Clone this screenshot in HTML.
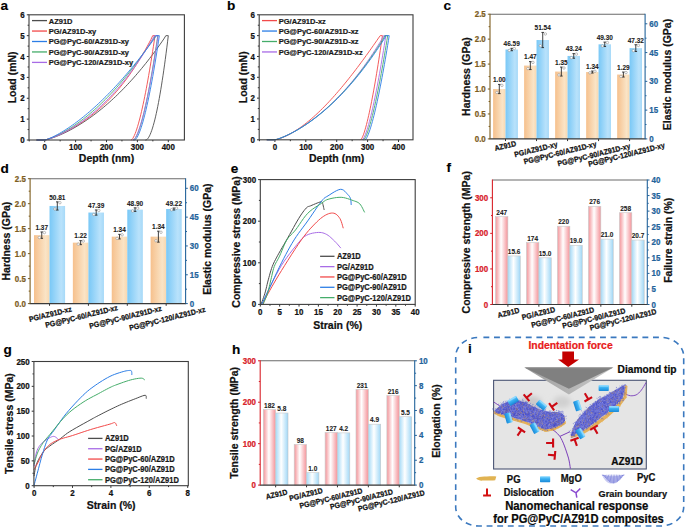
<!DOCTYPE html>
<html><head><meta charset="utf-8"><style>
html,body{margin:0;padding:0;background:#fff;width:685px;height:527px;overflow:hidden}
svg{display:block;font-family:"Liberation Sans",sans-serif}
</style></head><body>
<svg width="685" height="527" viewBox="0 0 685 527" font-family="Liberation Sans, sans-serif">
<defs>
<linearGradient id="gOr" x1="0" x2="1" y1="0" y2="0"><stop offset="0" stop-color="#f6c08c"/><stop offset="0.75" stop-color="#fae4c6"/><stop offset="1" stop-color="#f8d8b0"/></linearGradient>
<linearGradient id="gBl" x1="0" x2="1" y1="0" y2="0"><stop offset="0" stop-color="#79c8f6"/><stop offset="0.75" stop-color="#b9e2fb"/><stop offset="1" stop-color="#a6d9f8"/></linearGradient>
<linearGradient id="gRd" x1="0" x2="1" y1="0" y2="0"><stop offset="0" stop-color="#f4a2a8"/><stop offset="0.1" stop-color="#f6aaae"/><stop offset="0.45" stop-color="#ffffff"/><stop offset="0.9" stop-color="#f6a6ab"/><stop offset="1" stop-color="#f09aa0"/></linearGradient>
<linearGradient id="gLb" x1="0" x2="1" y1="0" y2="0"><stop offset="0" stop-color="#a6d8f6"/><stop offset="0.1" stop-color="#b8e2f9"/><stop offset="0.45" stop-color="#ffffff"/><stop offset="0.9" stop-color="#b2dff8"/><stop offset="1" stop-color="#9cd3f4"/></linearGradient>
</defs>
<rect width="685" height="527" fill="#fff"/>
<text x="0.6" y="9.5" font-size="13.6" font-weight="bold" fill="#000" stroke="#000" stroke-width="0.15">a</text>
<line x1="44.7" y1="140" x2="44.7" y2="142.2" stroke="#333" stroke-width="1"/>
<text x="0" y="2.85" font-size="7.95" text-anchor="middle" fill="#111" stroke="#111" stroke-width="0.22" font-weight="bold" transform="translate(44.7 147.4) scale(1 1.08)">0</text>
<line x1="75.6" y1="140" x2="75.6" y2="142.2" stroke="#333" stroke-width="1"/>
<text x="0" y="2.85" font-size="7.95" text-anchor="middle" fill="#111" stroke="#111" stroke-width="0.22" font-weight="bold" transform="translate(75.6 147.4) scale(1 1.08)">100</text>
<line x1="106.5" y1="140" x2="106.5" y2="142.2" stroke="#333" stroke-width="1"/>
<text x="0" y="2.85" font-size="7.95" text-anchor="middle" fill="#111" stroke="#111" stroke-width="0.22" font-weight="bold" transform="translate(106.5 147.4) scale(1 1.08)">200</text>
<line x1="137.4" y1="140" x2="137.4" y2="142.2" stroke="#333" stroke-width="1"/>
<text x="0" y="2.85" font-size="7.95" text-anchor="middle" fill="#111" stroke="#111" stroke-width="0.22" font-weight="bold" transform="translate(137.4 147.4) scale(1 1.08)">300</text>
<line x1="168.3" y1="140" x2="168.3" y2="142.2" stroke="#333" stroke-width="1"/>
<text x="0" y="2.85" font-size="7.95" text-anchor="middle" fill="#111" stroke="#111" stroke-width="0.22" font-weight="bold" transform="translate(168.3 147.4) scale(1 1.08)">400</text>
<line x1="29.25" y1="140" x2="29.25" y2="141.4" stroke="#333" stroke-width="1"/>
<line x1="60.15" y1="140" x2="60.15" y2="141.4" stroke="#333" stroke-width="1"/>
<line x1="91.05" y1="140" x2="91.05" y2="141.4" stroke="#333" stroke-width="1"/>
<line x1="121.95" y1="140" x2="121.95" y2="141.4" stroke="#333" stroke-width="1"/>
<line x1="152.85" y1="140" x2="152.85" y2="141.4" stroke="#333" stroke-width="1"/>
<line x1="26.8" y1="140" x2="29" y2="140" stroke="#333" stroke-width="1"/>
<text x="0" y="2.85" font-size="7.95" text-anchor="end" fill="#111" stroke="#111" stroke-width="0.22" font-weight="bold" transform="translate(24.8 140) scale(1 1.08)">0</text>
<line x1="26.8" y1="119.13" x2="29" y2="119.13" stroke="#333" stroke-width="1"/>
<text x="0" y="2.85" font-size="7.95" text-anchor="end" fill="#111" stroke="#111" stroke-width="0.22" font-weight="bold" transform="translate(24.8 119.13) scale(1 1.08)">1</text>
<line x1="26.8" y1="98.27" x2="29" y2="98.27" stroke="#333" stroke-width="1"/>
<text x="0" y="2.85" font-size="7.95" text-anchor="end" fill="#111" stroke="#111" stroke-width="0.22" font-weight="bold" transform="translate(24.8 98.27) scale(1 1.08)">2</text>
<line x1="26.8" y1="77.4" x2="29" y2="77.4" stroke="#333" stroke-width="1"/>
<text x="0" y="2.85" font-size="7.95" text-anchor="end" fill="#111" stroke="#111" stroke-width="0.22" font-weight="bold" transform="translate(24.8 77.4) scale(1 1.08)">3</text>
<line x1="26.8" y1="56.53" x2="29" y2="56.53" stroke="#333" stroke-width="1"/>
<text x="0" y="2.85" font-size="7.95" text-anchor="end" fill="#111" stroke="#111" stroke-width="0.22" font-weight="bold" transform="translate(24.8 56.53) scale(1 1.08)">4</text>
<line x1="26.8" y1="35.67" x2="29" y2="35.67" stroke="#333" stroke-width="1"/>
<text x="0" y="2.85" font-size="7.95" text-anchor="end" fill="#111" stroke="#111" stroke-width="0.22" font-weight="bold" transform="translate(24.8 35.67) scale(1 1.08)">5</text>
<line x1="26.8" y1="14.8" x2="29" y2="14.8" stroke="#333" stroke-width="1"/>
<text x="0" y="2.85" font-size="7.95" text-anchor="end" fill="#111" stroke="#111" stroke-width="0.22" font-weight="bold" transform="translate(24.8 14.8) scale(1 1.08)">6</text>
<line x1="27.6" y1="129.57" x2="29" y2="129.57" stroke="#333" stroke-width="1"/>
<line x1="27.6" y1="108.7" x2="29" y2="108.7" stroke="#333" stroke-width="1"/>
<line x1="27.6" y1="87.83" x2="29" y2="87.83" stroke="#333" stroke-width="1"/>
<line x1="27.6" y1="66.97" x2="29" y2="66.97" stroke="#333" stroke-width="1"/>
<line x1="27.6" y1="46.1" x2="29" y2="46.1" stroke="#333" stroke-width="1"/>
<line x1="27.6" y1="25.23" x2="29" y2="25.23" stroke="#333" stroke-width="1"/>
<polyline points="36.98,140 44.7,140 46.72,139.6 48.74,139.06 50.76,138.45 52.78,137.77 54.79,137.04 56.81,136.26 58.83,135.44 60.85,134.57 62.87,133.66 64.89,132.71 66.91,131.72 68.93,130.69 70.94,129.62 72.96,128.52 74.98,127.38 77,126.2 79.02,124.98 81.04,123.73 83.06,122.44 85.08,121.12 87.09,119.75 89.11,118.35 91.13,116.92 93.15,115.44 95.17,113.93 97.19,112.39 99.21,110.8 101.23,109.18 103.25,107.52 105.26,105.82 107.28,104.08 109.3,102.31 111.32,100.49 113.34,98.64 115.36,96.75 117.38,94.82 119.4,92.85 121.41,90.84 123.43,88.79 125.45,86.7 127.47,84.57 129.49,82.4 131.51,80.19 133.53,77.94 135.55,75.64 137.56,73.31 139.58,70.93 141.6,68.51 143.62,66.04 145.64,63.54 147.66,60.99 149.68,58.39 151.7,55.76 153.72,53.07 155.73,50.35 157.75,47.58 159.77,44.76 161.79,41.9 163.81,38.99 165.83,35.67 168.3,35.67 167.55,41.84 166.8,47.85 166.04,53.69 165.29,59.36 164.54,64.86 163.79,70.18 163.04,75.33 162.28,80.3 161.53,85.1 160.78,89.71 160.03,94.15 159.28,98.4 158.53,102.47 157.77,106.35 157.02,110.04 156.27,113.54 155.52,116.84 154.77,119.95 154.01,122.86 153.26,125.56 152.51,128.05 151.76,130.34 151.01,132.4 150.25,134.24 149.5,135.85 148.75,137.22 148,138.35 147.25,139.2 146.49,139.77 145.74,140" fill="none" stroke="#4d4d4d" stroke-width="0.9" stroke-linejoin="round" stroke-linecap="round"/>
<polyline points="36.98,140 44.7,140 46.5,139.57 48.3,139.01 50.1,138.39 51.9,137.72 53.7,137.02 55.5,136.28 57.3,135.52 59.1,134.72 60.9,133.9 62.7,133.05 64.5,132.18 66.3,131.27 68.1,130.34 69.9,129.38 71.7,128.39 73.5,127.37 75.3,126.31 77.1,125.23 78.9,124.12 80.7,122.97 82.5,121.79 84.3,120.57 86.1,119.31 87.9,118.02 89.7,116.69 91.5,115.32 93.3,113.9 95.1,112.45 96.9,110.95 98.7,109.41 100.5,107.82 102.3,106.18 104.1,104.5 105.9,102.76 107.7,100.98 109.5,99.14 111.3,97.25 113.1,95.3 114.9,93.3 116.7,91.24 118.5,89.13 120.3,86.95 122.1,84.71 123.9,82.41 125.7,80.05 127.5,77.62 129.3,75.12 131.1,72.56 132.9,69.92 134.7,67.22 136.5,64.45 138.3,61.6 140.1,58.67 141.9,55.68 143.7,52.6 145.5,49.45 147.3,46.21 149.1,42.9 150.9,39.5 152.7,35.67 155.01,35.67 154.22,41.01 153.43,46.25 152.63,51.39 151.84,56.42 151.05,61.35 150.25,66.17 149.46,70.89 148.67,75.49 147.88,79.98 147.08,84.35 146.29,88.6 145.5,92.73 144.7,96.74 143.91,100.62 143.12,104.37 142.32,107.98 141.53,111.46 140.74,114.79 139.94,117.97 139.15,120.99 138.36,123.86 137.56,126.55 136.77,129.07 135.98,131.39 135.19,133.51 134.39,135.41 133.6,137.06 132.81,138.43 132.01,139.46 131.22,140" fill="none" stroke="#f24a4a" stroke-width="0.9" stroke-linejoin="round" stroke-linecap="round"/>
<polyline points="36.98,140 44.7,140 46.54,139.58 48.39,139.02 50.23,138.37 52.07,137.66 53.92,136.9 55.76,136.08 57.61,135.22 59.45,134.31 61.29,133.36 63.14,132.36 64.98,131.33 66.82,130.25 68.67,129.14 70.51,127.99 72.36,126.8 74.2,125.58 76.04,124.31 77.89,123.02 79.73,121.68 81.57,120.31 83.42,118.9 85.26,117.46 87.11,115.98 88.95,114.46 90.79,112.91 92.64,111.33 94.48,109.7 96.32,108.05 98.17,106.36 100.01,104.63 101.85,102.86 103.7,101.06 105.54,99.23 107.39,97.36 109.23,95.45 111.07,93.51 112.92,91.53 114.76,89.51 116.6,87.46 118.45,85.38 120.29,83.25 122.14,81.09 123.98,78.9 125.82,76.66 127.67,74.39 129.51,72.08 131.35,69.74 133.2,67.36 135.04,64.94 136.89,62.48 138.73,59.99 140.57,57.46 142.42,54.89 144.26,52.28 146.1,49.63 147.95,46.95 149.79,44.22 151.63,41.46 153.48,38.66 155.32,35.67 157.79,35.67 156.98,41.18 156.17,46.57 155.35,51.85 154.54,57.02 153.73,62.06 152.91,66.99 152.1,71.8 151.28,76.48 150.47,81.04 149.66,85.46 148.84,89.76 148.03,93.93 147.22,97.95 146.4,101.84 145.59,105.58 144.77,109.18 143.96,112.63 143.15,115.92 142.33,119.05 141.52,122.01 140.71,124.8 139.89,127.41 139.08,129.83 138.27,132.06 137.45,134.07 136.64,135.85 135.82,137.38 135.01,138.63 134.2,139.55 133.38,140" fill="none" stroke="#45ad6a" stroke-width="0.9" stroke-linejoin="round" stroke-linecap="round"/>
<polyline points="36.98,140 44.7,140 46.53,139.61 48.36,139.08 50.18,138.49 52.01,137.83 53.84,137.13 55.67,136.39 57.5,135.6 59.33,134.77 61.15,133.91 62.98,133.01 64.81,132.07 66.64,131.09 68.47,130.08 70.3,129.04 72.12,127.95 73.95,126.84 75.78,125.68 77.61,124.49 79.44,123.26 81.27,122 83.09,120.7 84.92,119.36 86.75,117.98 88.58,116.57 90.41,115.12 92.23,113.63 94.06,112.09 95.89,110.52 97.72,108.91 99.55,107.26 101.38,105.56 103.2,103.83 105.03,102.05 106.86,100.23 108.69,98.36 110.52,96.45 112.35,94.5 114.17,92.5 116,90.45 117.83,88.36 119.66,86.22 121.49,84.04 123.31,81.8 125.14,79.52 126.97,77.19 128.8,74.81 130.63,72.37 132.46,69.89 134.28,67.36 136.11,64.77 137.94,62.13 139.77,59.44 141.6,56.69 143.43,53.89 145.25,51.03 147.08,48.12 148.91,45.15 150.74,42.12 152.57,39.03 154.39,35.67 158.1,35.67 157.27,41.18 156.43,46.57 155.6,51.85 154.77,57.02 153.93,62.06 153.1,66.99 152.26,71.8 151.43,76.48 150.59,81.04 149.76,85.46 148.93,89.76 148.09,93.93 147.26,97.95 146.42,101.84 145.59,105.58 144.75,109.18 143.92,112.63 143.09,115.92 142.25,119.05 141.42,122.01 140.58,124.8 139.75,127.41 138.91,129.83 138.08,132.06 137.25,134.07 136.41,135.85 135.58,137.38 134.74,138.63 133.91,139.55 133.07,140" fill="none" stroke="#a86ce6" stroke-width="0.9" stroke-linejoin="round" stroke-linecap="round"/>
<polyline points="36.98,140 44.7,140 46.56,139.49 48.42,138.82 50.28,138.06 52.14,137.23 54,136.34 55.85,135.4 57.71,134.4 59.57,133.37 61.43,132.29 63.29,131.17 65.15,130.01 67.01,128.82 68.87,127.59 70.73,126.32 72.59,125.02 74.45,123.69 76.31,122.32 78.16,120.92 80.02,119.49 81.88,118.02 83.74,116.53 85.6,115 87.46,113.45 89.32,111.86 91.18,110.25 93.04,108.6 94.9,106.93 96.76,105.22 98.62,103.49 100.47,101.73 102.33,99.94 104.19,98.12 106.05,96.27 107.91,94.4 109.77,92.49 111.63,90.56 113.49,88.6 115.35,86.62 117.21,84.6 119.07,82.56 120.93,80.49 122.78,78.39 124.64,76.27 126.5,74.12 128.36,71.94 130.22,69.73 132.08,67.5 133.94,65.24 135.8,62.95 137.66,60.64 139.52,58.3 141.38,55.93 143.23,53.53 145.09,51.11 146.95,48.66 148.81,46.19 150.67,43.69 152.53,41.16 154.39,38.6 156.25,35.67 159.34,35.67 158.51,41.18 157.69,46.57 156.87,51.85 156.04,57.02 155.22,62.06 154.39,66.99 153.57,71.8 152.75,76.48 151.92,81.04 151.1,85.46 150.28,89.76 149.45,93.93 148.63,97.95 147.8,101.84 146.98,105.58 146.16,109.18 145.33,112.63 144.51,115.92 143.68,119.05 142.86,122.01 142.03,124.8 141.21,127.41 140.39,129.83 139.56,132.06 138.74,134.07 137.92,135.85 137.09,137.38 136.27,138.63 135.44,139.55 134.62,140" fill="none" stroke="#2c7ee6" stroke-width="0.9" stroke-linejoin="round" stroke-linecap="round"/>
<line x1="32" y1="20.6" x2="47" y2="20.6" stroke="#4d4d4d" stroke-width="1.3"/>
<text x="0" y="2.69" font-size="7.5" text-anchor="start" fill="#1a1a1a" stroke="#1a1a1a" stroke-width="0.22" font-weight="bold" transform="translate(48.8 20.6) scale(1 1.08)">AZ91D</text>
<line x1="32" y1="31.05" x2="47" y2="31.05" stroke="#f24a4a" stroke-width="1.3"/>
<text x="0" y="2.69" font-size="7.5" text-anchor="start" fill="#1a1a1a" stroke="#1a1a1a" stroke-width="0.22" font-weight="bold" transform="translate(48.8 31.05) scale(1 1.08)">PG/AZ91D-xy</text>
<line x1="32" y1="41.5" x2="47" y2="41.5" stroke="#2c7ee6" stroke-width="1.3"/>
<text x="0" y="2.69" font-size="7.5" text-anchor="start" fill="#1a1a1a" stroke="#1a1a1a" stroke-width="0.22" font-weight="bold" transform="translate(48.8 41.5) scale(1 1.08)">PG@PyC-60/AZ91D-xy</text>
<line x1="32" y1="51.95" x2="47" y2="51.95" stroke="#45ad6a" stroke-width="1.3"/>
<text x="0" y="2.69" font-size="7.5" text-anchor="start" fill="#1a1a1a" stroke="#1a1a1a" stroke-width="0.22" font-weight="bold" transform="translate(48.8 51.95) scale(1 1.08)">PG@PyC-90/AZ91D-xy</text>
<line x1="32" y1="62.4" x2="47" y2="62.4" stroke="#a86ce6" stroke-width="1.3"/>
<text x="0" y="2.69" font-size="7.5" text-anchor="start" fill="#1a1a1a" stroke="#1a1a1a" stroke-width="0.22" font-weight="bold" transform="translate(48.8 62.4) scale(1 1.08)">PG@PyC-120/AZ91D-xy</text>
<rect x="29" y="14.8" width="155.4" height="125.2" fill="none" stroke="#3d3d3d" stroke-width="1.1"/>
<text x="0" y="3.76" font-size="10.5" text-anchor="middle" fill="#111" stroke="#111" stroke-width="0.22" font-weight="bold" transform="translate(106.5 157.8) scale(1 1.08)">Depth (nm)</text>
<text x="0" y="3.76" font-size="10.5" text-anchor="middle" fill="#111" stroke="#111" stroke-width="0.22" font-weight="bold" transform="translate(11.8 77.4) rotate(-90)">Load (mN)</text>
<text x="227" y="10" font-size="13.6" font-weight="bold" fill="#000" stroke="#000" stroke-width="0.15">b</text>
<line x1="274.9" y1="139.8" x2="274.9" y2="142" stroke="#333" stroke-width="1"/>
<text x="0" y="2.85" font-size="7.95" text-anchor="middle" fill="#111" stroke="#111" stroke-width="0.22" font-weight="bold" transform="translate(274.9 147.2) scale(1 1.08)">0</text>
<line x1="305.8" y1="139.8" x2="305.8" y2="142" stroke="#333" stroke-width="1"/>
<text x="0" y="2.85" font-size="7.95" text-anchor="middle" fill="#111" stroke="#111" stroke-width="0.22" font-weight="bold" transform="translate(305.8 147.2) scale(1 1.08)">100</text>
<line x1="336.7" y1="139.8" x2="336.7" y2="142" stroke="#333" stroke-width="1"/>
<text x="0" y="2.85" font-size="7.95" text-anchor="middle" fill="#111" stroke="#111" stroke-width="0.22" font-weight="bold" transform="translate(336.7 147.2) scale(1 1.08)">200</text>
<line x1="367.6" y1="139.8" x2="367.6" y2="142" stroke="#333" stroke-width="1"/>
<text x="0" y="2.85" font-size="7.95" text-anchor="middle" fill="#111" stroke="#111" stroke-width="0.22" font-weight="bold" transform="translate(367.6 147.2) scale(1 1.08)">300</text>
<line x1="398.5" y1="139.8" x2="398.5" y2="142" stroke="#333" stroke-width="1"/>
<text x="0" y="2.85" font-size="7.95" text-anchor="middle" fill="#111" stroke="#111" stroke-width="0.22" font-weight="bold" transform="translate(398.5 147.2) scale(1 1.08)">400</text>
<line x1="259.45" y1="139.8" x2="259.45" y2="141.2" stroke="#333" stroke-width="1"/>
<line x1="290.35" y1="139.8" x2="290.35" y2="141.2" stroke="#333" stroke-width="1"/>
<line x1="321.25" y1="139.8" x2="321.25" y2="141.2" stroke="#333" stroke-width="1"/>
<line x1="352.15" y1="139.8" x2="352.15" y2="141.2" stroke="#333" stroke-width="1"/>
<line x1="383.05" y1="139.8" x2="383.05" y2="141.2" stroke="#333" stroke-width="1"/>
<line x1="257" y1="139.8" x2="259.2" y2="139.8" stroke="#333" stroke-width="1"/>
<text x="0" y="2.85" font-size="7.95" text-anchor="end" fill="#111" stroke="#111" stroke-width="0.22" font-weight="bold" transform="translate(255 139.8) scale(1 1.08)">0</text>
<line x1="257" y1="118.97" x2="259.2" y2="118.97" stroke="#333" stroke-width="1"/>
<text x="0" y="2.85" font-size="7.95" text-anchor="end" fill="#111" stroke="#111" stroke-width="0.22" font-weight="bold" transform="translate(255 118.97) scale(1 1.08)">1</text>
<line x1="257" y1="98.13" x2="259.2" y2="98.13" stroke="#333" stroke-width="1"/>
<text x="0" y="2.85" font-size="7.95" text-anchor="end" fill="#111" stroke="#111" stroke-width="0.22" font-weight="bold" transform="translate(255 98.13) scale(1 1.08)">2</text>
<line x1="257" y1="77.3" x2="259.2" y2="77.3" stroke="#333" stroke-width="1"/>
<text x="0" y="2.85" font-size="7.95" text-anchor="end" fill="#111" stroke="#111" stroke-width="0.22" font-weight="bold" transform="translate(255 77.3) scale(1 1.08)">3</text>
<line x1="257" y1="56.47" x2="259.2" y2="56.47" stroke="#333" stroke-width="1"/>
<text x="0" y="2.85" font-size="7.95" text-anchor="end" fill="#111" stroke="#111" stroke-width="0.22" font-weight="bold" transform="translate(255 56.47) scale(1 1.08)">4</text>
<line x1="257" y1="35.63" x2="259.2" y2="35.63" stroke="#333" stroke-width="1"/>
<text x="0" y="2.85" font-size="7.95" text-anchor="end" fill="#111" stroke="#111" stroke-width="0.22" font-weight="bold" transform="translate(255 35.63) scale(1 1.08)">5</text>
<line x1="257" y1="14.8" x2="259.2" y2="14.8" stroke="#333" stroke-width="1"/>
<text x="0" y="2.85" font-size="7.95" text-anchor="end" fill="#111" stroke="#111" stroke-width="0.22" font-weight="bold" transform="translate(255 14.8) scale(1 1.08)">6</text>
<line x1="257.8" y1="129.38" x2="259.2" y2="129.38" stroke="#333" stroke-width="1"/>
<line x1="257.8" y1="108.55" x2="259.2" y2="108.55" stroke="#333" stroke-width="1"/>
<line x1="257.8" y1="87.72" x2="259.2" y2="87.72" stroke="#333" stroke-width="1"/>
<line x1="257.8" y1="66.88" x2="259.2" y2="66.88" stroke="#333" stroke-width="1"/>
<line x1="257.8" y1="46.05" x2="259.2" y2="46.05" stroke="#333" stroke-width="1"/>
<line x1="257.8" y1="25.22" x2="259.2" y2="25.22" stroke="#333" stroke-width="1"/>
<polyline points="267.17,139.8 274.9,139.8 276.66,139.46 278.41,138.98 280.17,138.41 281.92,137.76 283.68,137.05 285.44,136.27 287.19,135.44 288.95,134.55 290.71,133.6 292.46,132.6 294.22,131.54 295.97,130.44 297.73,129.29 299.49,128.09 301.24,126.85 303,125.56 304.75,124.22 306.51,122.84 308.27,121.42 310.02,119.96 311.78,118.46 313.54,116.92 315.29,115.33 317.05,113.71 318.8,112.06 320.56,110.36 322.32,108.63 324.07,106.86 325.83,105.06 327.58,103.22 329.34,101.36 331.1,99.45 332.85,97.52 334.61,95.55 336.37,93.56 338.12,91.53 339.88,89.48 341.63,87.39 343.39,85.28 345.15,83.14 346.9,80.97 348.66,78.78 350.41,76.56 352.17,74.32 353.93,72.05 355.68,69.75 357.44,67.44 359.2,65.1 360.95,62.74 362.71,60.36 364.46,57.96 366.22,55.53 367.98,53.09 369.73,50.63 371.49,48.15 373.24,45.65 375,43.14 376.76,40.6 378.51,38.06 380.27,35.63 382.43,35.63 381.71,40.63 380.98,45.55 380.26,50.39 379.54,55.15 378.81,59.83 378.09,64.43 377.36,68.94 376.64,73.36 375.92,77.7 375.19,81.94 374.47,86.08 373.74,90.14 373.02,94.09 372.29,97.93 371.57,101.67 370.85,105.3 370.12,108.82 369.4,112.21 368.67,115.48 367.95,118.62 367.23,121.62 366.5,124.48 365.78,127.17 365.05,129.7 364.33,132.05 363.61,134.19 362.88,136.1 362.16,137.75 361.43,139.05 360.71,139.8" fill="none" stroke="#f24a4a" stroke-width="0.9" stroke-linejoin="round" stroke-linecap="round"/>
<polyline points="267.17,139.8 274.9,139.8 276.71,139.36 278.53,138.77 280.34,138.11 282.15,137.39 283.96,136.62 285.78,135.81 287.59,134.95 289.4,134.06 291.22,133.14 293.03,132.17 294.84,131.18 296.65,130.15 298.47,129.08 300.28,127.98 302.09,126.85 303.9,125.69 305.72,124.49 307.53,123.26 309.34,122 311.16,120.7 312.97,119.37 314.78,118.01 316.59,116.61 318.41,115.17 320.22,113.7 322.03,112.2 323.85,110.66 325.66,109.08 327.47,107.46 329.28,105.81 331.1,104.12 332.91,102.39 334.72,100.62 336.54,98.82 338.35,96.97 340.16,95.08 341.97,93.15 343.79,91.19 345.6,89.17 347.41,87.12 349.22,85.02 351.04,82.88 352.85,80.7 354.66,78.47 356.48,76.19 358.29,73.87 360.1,71.5 361.91,69.09 363.73,66.63 365.54,64.12 367.35,61.56 369.17,58.95 370.98,56.29 372.79,53.58 374.6,50.83 376.42,48.01 378.23,45.15 380.04,42.23 381.86,39.26 383.67,35.63 385.83,35.63 385.05,40.63 384.27,45.55 383.48,50.39 382.7,55.15 381.92,59.83 381.13,64.43 380.35,68.94 379.57,73.36 378.79,77.7 378,81.94 377.22,86.08 376.44,90.14 375.65,94.09 374.87,97.93 374.09,101.67 373.31,105.3 372.52,108.82 371.74,112.21 370.96,115.48 370.17,118.62 369.39,121.62 368.61,124.48 367.83,127.17 367.04,129.7 366.26,132.05 365.48,134.19 364.7,136.1 363.91,137.75 363.13,139.05 362.35,139.8" fill="none" stroke="#a86ce6" stroke-width="0.9" stroke-linejoin="round" stroke-linecap="round"/>
<polyline points="267.17,139.8 274.9,139.8 276.73,139.37 278.57,138.79 280.4,138.13 282.23,137.42 284.07,136.66 285.9,135.85 287.73,134.99 289.57,134.1 291.4,133.17 293.23,132.2 295.07,131.19 296.9,130.15 298.73,129.07 300.57,127.96 302.4,126.82 304.23,125.63 306.07,124.42 307.9,123.17 309.73,121.89 311.57,120.57 313.4,119.21 315.23,117.83 317.07,116.4 318.9,114.95 320.73,113.45 322.57,111.92 324.4,110.36 326.24,108.76 328.07,107.12 329.9,105.45 331.74,103.73 333.57,101.98 335.4,100.2 337.24,98.37 339.07,96.51 340.9,94.61 342.74,92.66 344.57,90.68 346.4,88.66 348.24,86.6 350.07,84.49 351.9,82.35 353.74,80.16 355.57,77.93 357.4,75.66 359.24,73.35 361.07,70.99 362.9,68.59 364.74,66.14 366.57,63.65 368.4,61.11 370.24,58.53 372.07,55.9 373.9,53.23 375.74,50.51 377.57,47.74 379.4,44.92 381.24,42.05 383.07,39.14 384.9,35.63 387.68,35.63 386.88,40.63 386.08,45.55 385.27,50.39 384.47,55.15 383.67,59.83 382.86,64.43 382.06,68.94 381.26,73.36 380.45,77.7 379.65,81.94 378.85,86.08 378.04,90.14 377.24,94.09 376.44,97.93 375.63,101.67 374.83,105.3 374.03,108.82 373.22,112.21 372.42,115.48 371.62,118.62 370.81,121.62 370.01,124.48 369.21,127.17 368.4,129.7 367.6,132.05 366.8,134.19 365.99,136.1 365.19,137.75 364.39,139.05 363.58,139.8" fill="none" stroke="#45ad6a" stroke-width="0.9" stroke-linejoin="round" stroke-linecap="round"/>
<polyline points="267.17,139.8 274.9,139.8 276.75,139.37 278.6,138.79 280.45,138.13 282.3,137.41 284.14,136.65 285.99,135.83 287.84,134.97 289.69,134.08 291.54,133.14 293.39,132.16 295.24,131.15 297.09,130.1 298.94,129.02 300.78,127.9 302.63,126.75 304.48,125.56 306.33,124.33 308.18,123.08 310.03,121.79 311.88,120.46 313.73,119.1 315.57,117.7 317.42,116.27 319.27,114.81 321.12,113.31 322.97,111.77 324.82,110.2 326.67,108.59 328.52,106.95 330.37,105.27 332.21,103.55 334.06,101.8 335.91,100.01 337.76,98.18 339.61,96.31 341.46,94.41 343.31,92.47 345.16,90.48 347.01,88.46 348.85,86.4 350.7,84.3 352.55,82.16 354.4,79.98 356.25,77.75 358.1,75.49 359.95,73.18 361.8,70.83 363.64,68.44 365.49,66.01 367.34,63.53 369.19,61.01 371.04,58.44 372.89,55.83 374.74,53.18 376.59,50.48 378.44,47.73 380.28,44.94 382.13,42.1 383.98,39.21 385.83,35.63 389.23,35.63 388.43,40.63 387.62,45.55 386.82,50.39 386.02,55.15 385.21,59.83 384.41,64.43 383.61,68.94 382.8,73.36 382,77.7 381.2,81.94 380.39,86.08 379.59,90.14 378.79,94.09 377.98,97.93 377.18,101.67 376.38,105.3 375.57,108.82 374.77,112.21 373.97,115.48 373.16,118.62 372.36,121.62 371.56,124.48 370.75,127.17 369.95,129.7 369.14,132.05 368.34,134.19 367.54,136.1 366.73,137.75 365.93,139.05 365.13,139.8" fill="none" stroke="#2c7ee6" stroke-width="0.9" stroke-linejoin="round" stroke-linecap="round"/>
<line x1="262" y1="20.6" x2="277" y2="20.6" stroke="#f24a4a" stroke-width="1.3"/>
<text x="0" y="2.69" font-size="7.5" text-anchor="start" fill="#1a1a1a" stroke="#1a1a1a" stroke-width="0.22" font-weight="bold" transform="translate(278.8 20.6) scale(1 1.08)">PG/AZ91D-xz</text>
<line x1="262" y1="31.05" x2="277" y2="31.05" stroke="#2c7ee6" stroke-width="1.3"/>
<text x="0" y="2.69" font-size="7.5" text-anchor="start" fill="#1a1a1a" stroke="#1a1a1a" stroke-width="0.22" font-weight="bold" transform="translate(278.8 31.05) scale(1 1.08)">PG@PyC-60/AZ91D-xz</text>
<line x1="262" y1="41.5" x2="277" y2="41.5" stroke="#45ad6a" stroke-width="1.3"/>
<text x="0" y="2.69" font-size="7.5" text-anchor="start" fill="#1a1a1a" stroke="#1a1a1a" stroke-width="0.22" font-weight="bold" transform="translate(278.8 41.5) scale(1 1.08)">PG@PyC-90/AZ91D-xz</text>
<line x1="262" y1="51.95" x2="277" y2="51.95" stroke="#a86ce6" stroke-width="1.3"/>
<text x="0" y="2.69" font-size="7.5" text-anchor="start" fill="#1a1a1a" stroke="#1a1a1a" stroke-width="0.22" font-weight="bold" transform="translate(278.8 51.95) scale(1 1.08)">PG@PyC-120/AZ91D-xz</text>
<rect x="259.2" y="14.8" width="153.8" height="125" fill="none" stroke="#3d3d3d" stroke-width="1.1"/>
<text x="0" y="3.76" font-size="10.5" text-anchor="middle" fill="#111" stroke="#111" stroke-width="0.22" font-weight="bold" transform="translate(336.7 157.6) scale(1 1.08)">Depth (nm)</text>
<text x="0" y="3.76" font-size="10.5" text-anchor="middle" fill="#111" stroke="#111" stroke-width="0.22" font-weight="bold" transform="translate(243 77.3) rotate(-90)">Load (mN)</text>
<rect x="493.1" y="89.02" width="12.41" height="49.88" fill="url(#gOr)"/>
<rect x="505.51" y="49.52" width="12.41" height="89.38" fill="url(#gBl)"/>
<line x1="499.31" y1="84.43" x2="499.31" y2="93.61" stroke="#2a2a2a" stroke-width="0.9"/>
<line x1="498.01" y1="84.43" x2="500.61" y2="84.43" stroke="#2a2a2a" stroke-width="0.9"/>
<line x1="498.01" y1="93.61" x2="500.61" y2="93.61" stroke="#2a2a2a" stroke-width="0.9"/>
<circle cx="496.91" cy="92.46" r="1.25" fill="#fff" stroke="#8a8a8a" stroke-width="0.55"/>
<circle cx="501.91" cy="85.35" r="1.25" fill="#fff" stroke="#8a8a8a" stroke-width="0.55"/>
<line x1="511.71" y1="48.33" x2="511.71" y2="50.71" stroke="#2a2a2a" stroke-width="0.9"/>
<line x1="510.41" y1="48.33" x2="513.01" y2="48.33" stroke="#2a2a2a" stroke-width="0.9"/>
<line x1="510.41" y1="50.71" x2="513.01" y2="50.71" stroke="#2a2a2a" stroke-width="0.9"/>
<circle cx="509.31" cy="50.41" r="1.25" fill="#fff" stroke="#8a8a8a" stroke-width="0.55"/>
<circle cx="514.31" cy="48.57" r="1.25" fill="#fff" stroke="#8a8a8a" stroke-width="0.55"/>
<text x="0" y="2.33" font-size="6.5" text-anchor="middle" fill="#1a1a1a" stroke="#1a1a1a" stroke-width="0.08" font-weight="bold" transform="translate(499.31 79.73) scale(1 1.08)">1.00</text>
<text x="0" y="2.33" font-size="6.5" text-anchor="middle" fill="#1a1a1a" stroke="#1a1a1a" stroke-width="0.08" font-weight="bold" transform="translate(511.71 43.63) scale(1 1.08)">46.59</text>
<line x1="505.51" y1="138.9" x2="505.51" y2="141.1" stroke="#333" stroke-width="1"/>
<text x="0" y="2.51" font-size="7" text-anchor="middle" fill="#111" stroke="#111" stroke-width="0.22" font-weight="bold" transform="translate(505.2 145.77) rotate(-14) scale(1 1.08)">AZ91D</text>
<rect x="524.12" y="65.58" width="12.41" height="73.32" fill="url(#gOr)"/>
<rect x="536.53" y="40.02" width="12.41" height="98.88" fill="url(#gBl)"/>
<line x1="530.33" y1="61.59" x2="530.33" y2="69.57" stroke="#2a2a2a" stroke-width="0.9"/>
<line x1="529.03" y1="61.59" x2="531.63" y2="61.59" stroke="#2a2a2a" stroke-width="0.9"/>
<line x1="529.03" y1="69.57" x2="531.63" y2="69.57" stroke="#2a2a2a" stroke-width="0.9"/>
<circle cx="527.93" cy="68.57" r="1.25" fill="#fff" stroke="#8a8a8a" stroke-width="0.55"/>
<circle cx="532.93" cy="62.38" r="1.25" fill="#fff" stroke="#8a8a8a" stroke-width="0.55"/>
<line x1="542.73" y1="32.43" x2="542.73" y2="47.62" stroke="#2a2a2a" stroke-width="0.9"/>
<line x1="541.43" y1="32.43" x2="544.03" y2="32.43" stroke="#2a2a2a" stroke-width="0.9"/>
<line x1="541.43" y1="47.62" x2="544.03" y2="47.62" stroke="#2a2a2a" stroke-width="0.9"/>
<circle cx="540.33" cy="45.72" r="1.25" fill="#fff" stroke="#8a8a8a" stroke-width="0.55"/>
<circle cx="545.33" cy="33.94" r="1.25" fill="#fff" stroke="#8a8a8a" stroke-width="0.55"/>
<text x="0" y="2.33" font-size="6.5" text-anchor="middle" fill="#1a1a1a" stroke="#1a1a1a" stroke-width="0.08" font-weight="bold" transform="translate(530.33 56.89) scale(1 1.08)">1.47</text>
<text x="0" y="2.33" font-size="6.5" text-anchor="middle" fill="#1a1a1a" stroke="#1a1a1a" stroke-width="0.08" font-weight="bold" transform="translate(542.73 27.73) scale(1 1.08)">51.54</text>
<line x1="536.53" y1="138.9" x2="536.53" y2="141.1" stroke="#333" stroke-width="1"/>
<text x="0" y="2.51" font-size="7" text-anchor="middle" fill="#111" stroke="#111" stroke-width="0.22" font-weight="bold" transform="translate(535.9 149.25) rotate(-14) scale(1 1.08)">PG/AZ91D-xy</text>
<rect x="555.14" y="71.56" width="12.41" height="67.34" fill="url(#gOr)"/>
<rect x="567.55" y="55.95" width="12.41" height="82.95" fill="url(#gBl)"/>
<line x1="561.35" y1="67.07" x2="561.35" y2="76.05" stroke="#2a2a2a" stroke-width="0.9"/>
<line x1="560.05" y1="67.07" x2="562.65" y2="67.07" stroke="#2a2a2a" stroke-width="0.9"/>
<line x1="560.05" y1="76.05" x2="562.65" y2="76.05" stroke="#2a2a2a" stroke-width="0.9"/>
<circle cx="558.95" cy="74.93" r="1.25" fill="#fff" stroke="#8a8a8a" stroke-width="0.55"/>
<circle cx="563.95" cy="67.97" r="1.25" fill="#fff" stroke="#8a8a8a" stroke-width="0.55"/>
<line x1="573.75" y1="53.64" x2="573.75" y2="58.25" stroke="#2a2a2a" stroke-width="0.9"/>
<line x1="572.45" y1="53.64" x2="575.05" y2="53.64" stroke="#2a2a2a" stroke-width="0.9"/>
<line x1="572.45" y1="58.25" x2="575.05" y2="58.25" stroke="#2a2a2a" stroke-width="0.9"/>
<circle cx="571.35" cy="57.67" r="1.25" fill="#fff" stroke="#8a8a8a" stroke-width="0.55"/>
<circle cx="576.35" cy="54.1" r="1.25" fill="#fff" stroke="#8a8a8a" stroke-width="0.55"/>
<text x="0" y="2.33" font-size="6.5" text-anchor="middle" fill="#1a1a1a" stroke="#1a1a1a" stroke-width="0.08" font-weight="bold" transform="translate(561.35 62.37) scale(1 1.08)">1.35</text>
<text x="0" y="2.33" font-size="6.5" text-anchor="middle" fill="#1a1a1a" stroke="#1a1a1a" stroke-width="0.08" font-weight="bold" transform="translate(573.75 48.94) scale(1 1.08)">43.24</text>
<line x1="567.55" y1="138.9" x2="567.55" y2="141.1" stroke="#333" stroke-width="1"/>
<text x="0" y="2.51" font-size="7" text-anchor="middle" fill="#111" stroke="#111" stroke-width="0.22" font-weight="bold" transform="translate(560 152.65) rotate(-14) scale(1 1.08)">PG@PyC-60/AZ91D-xy</text>
<rect x="586.16" y="72.06" width="12.41" height="66.84" fill="url(#gOr)"/>
<rect x="598.57" y="44.32" width="12.41" height="94.58" fill="url(#gBl)"/>
<line x1="592.37" y1="71.06" x2="592.37" y2="73.06" stroke="#2a2a2a" stroke-width="0.9"/>
<line x1="591.07" y1="71.06" x2="593.67" y2="71.06" stroke="#2a2a2a" stroke-width="0.9"/>
<line x1="591.07" y1="73.06" x2="593.67" y2="73.06" stroke="#2a2a2a" stroke-width="0.9"/>
<circle cx="589.97" cy="72.81" r="1.25" fill="#fff" stroke="#8a8a8a" stroke-width="0.55"/>
<circle cx="594.97" cy="71.26" r="1.25" fill="#fff" stroke="#8a8a8a" stroke-width="0.55"/>
<line x1="604.77" y1="42.11" x2="604.77" y2="46.53" stroke="#2a2a2a" stroke-width="0.9"/>
<line x1="603.47" y1="42.11" x2="606.07" y2="42.11" stroke="#2a2a2a" stroke-width="0.9"/>
<line x1="603.47" y1="46.53" x2="606.07" y2="46.53" stroke="#2a2a2a" stroke-width="0.9"/>
<circle cx="602.37" cy="45.97" r="1.25" fill="#fff" stroke="#8a8a8a" stroke-width="0.55"/>
<circle cx="607.37" cy="42.55" r="1.25" fill="#fff" stroke="#8a8a8a" stroke-width="0.55"/>
<text x="0" y="2.33" font-size="6.5" text-anchor="middle" fill="#1a1a1a" stroke="#1a1a1a" stroke-width="0.08" font-weight="bold" transform="translate(592.37 66.36) scale(1 1.08)">1.34</text>
<text x="0" y="2.33" font-size="6.5" text-anchor="middle" fill="#1a1a1a" stroke="#1a1a1a" stroke-width="0.08" font-weight="bold" transform="translate(604.77 37.41) scale(1 1.08)">49.30</text>
<line x1="598.57" y1="138.9" x2="598.57" y2="141.1" stroke="#333" stroke-width="1"/>
<text x="0" y="2.51" font-size="7" text-anchor="middle" fill="#111" stroke="#111" stroke-width="0.22" font-weight="bold" transform="translate(593.9 154.65) rotate(-14) scale(1 1.08)">PG@PyC-90/AZ91D-xy</text>
<rect x="617.18" y="74.55" width="12.41" height="64.35" fill="url(#gOr)"/>
<rect x="629.59" y="48.12" width="12.41" height="90.78" fill="url(#gBl)"/>
<line x1="623.39" y1="72.06" x2="623.39" y2="77.05" stroke="#2a2a2a" stroke-width="0.9"/>
<line x1="622.09" y1="72.06" x2="624.69" y2="72.06" stroke="#2a2a2a" stroke-width="0.9"/>
<line x1="622.09" y1="77.05" x2="624.69" y2="77.05" stroke="#2a2a2a" stroke-width="0.9"/>
<circle cx="620.99" cy="76.43" r="1.25" fill="#fff" stroke="#8a8a8a" stroke-width="0.55"/>
<circle cx="625.99" cy="72.56" r="1.25" fill="#fff" stroke="#8a8a8a" stroke-width="0.55"/>
<line x1="635.79" y1="44.72" x2="635.79" y2="51.51" stroke="#2a2a2a" stroke-width="0.9"/>
<line x1="634.49" y1="44.72" x2="637.09" y2="44.72" stroke="#2a2a2a" stroke-width="0.9"/>
<line x1="634.49" y1="51.51" x2="637.09" y2="51.51" stroke="#2a2a2a" stroke-width="0.9"/>
<circle cx="633.39" cy="50.67" r="1.25" fill="#fff" stroke="#8a8a8a" stroke-width="0.55"/>
<circle cx="638.39" cy="45.4" r="1.25" fill="#fff" stroke="#8a8a8a" stroke-width="0.55"/>
<text x="0" y="2.33" font-size="6.5" text-anchor="middle" fill="#1a1a1a" stroke="#1a1a1a" stroke-width="0.08" font-weight="bold" transform="translate(623.39 67.36) scale(1 1.08)">1.29</text>
<text x="0" y="2.33" font-size="6.5" text-anchor="middle" fill="#1a1a1a" stroke="#1a1a1a" stroke-width="0.08" font-weight="bold" transform="translate(635.79 40.02) scale(1 1.08)">47.32</text>
<line x1="629.59" y1="138.9" x2="629.59" y2="141.1" stroke="#333" stroke-width="1"/>
<text x="0" y="2.51" font-size="7" text-anchor="middle" fill="#111" stroke="#111" stroke-width="0.22" font-weight="bold" transform="translate(626.4 154.52) rotate(-14) scale(1 1.08)">PG@PyC-120/AZ91D-xy</text>
<line x1="487.8" y1="138.9" x2="490" y2="138.9" stroke="#7d5d1e" stroke-width="1"/>
<text x="0" y="2.85" font-size="7.95" text-anchor="end" fill="#7d5d1e" stroke="#7d5d1e" stroke-width="0.22" font-weight="bold" transform="translate(485.8 138.9) scale(1 1.08)">0.0</text>
<line x1="487.8" y1="113.96" x2="490" y2="113.96" stroke="#7d5d1e" stroke-width="1"/>
<text x="0" y="2.85" font-size="7.95" text-anchor="end" fill="#7d5d1e" stroke="#7d5d1e" stroke-width="0.22" font-weight="bold" transform="translate(485.8 113.96) scale(1 1.08)">0.5</text>
<line x1="487.8" y1="89.02" x2="490" y2="89.02" stroke="#7d5d1e" stroke-width="1"/>
<text x="0" y="2.85" font-size="7.95" text-anchor="end" fill="#7d5d1e" stroke="#7d5d1e" stroke-width="0.22" font-weight="bold" transform="translate(485.8 89.02) scale(1 1.08)">1.0</text>
<line x1="487.8" y1="64.08" x2="490" y2="64.08" stroke="#7d5d1e" stroke-width="1"/>
<text x="0" y="2.85" font-size="7.95" text-anchor="end" fill="#7d5d1e" stroke="#7d5d1e" stroke-width="0.22" font-weight="bold" transform="translate(485.8 64.08) scale(1 1.08)">1.5</text>
<line x1="487.8" y1="39.14" x2="490" y2="39.14" stroke="#7d5d1e" stroke-width="1"/>
<text x="0" y="2.85" font-size="7.95" text-anchor="end" fill="#7d5d1e" stroke="#7d5d1e" stroke-width="0.22" font-weight="bold" transform="translate(485.8 39.14) scale(1 1.08)">2.0</text>
<line x1="487.8" y1="14.2" x2="490" y2="14.2" stroke="#7d5d1e" stroke-width="1"/>
<text x="0" y="2.85" font-size="7.95" text-anchor="end" fill="#7d5d1e" stroke="#7d5d1e" stroke-width="0.22" font-weight="bold" transform="translate(485.8 14.2) scale(1 1.08)">2.5</text>
<line x1="488.6" y1="126.43" x2="490" y2="126.43" stroke="#7d5d1e" stroke-width="1"/>
<line x1="488.6" y1="101.49" x2="490" y2="101.49" stroke="#7d5d1e" stroke-width="1"/>
<line x1="488.6" y1="76.55" x2="490" y2="76.55" stroke="#7d5d1e" stroke-width="1"/>
<line x1="488.6" y1="51.61" x2="490" y2="51.61" stroke="#7d5d1e" stroke-width="1"/>
<line x1="488.6" y1="26.67" x2="490" y2="26.67" stroke="#7d5d1e" stroke-width="1"/>
<line x1="645.1" y1="138.9" x2="647.3" y2="138.9" stroke="#23639b" stroke-width="1"/>
<text x="0" y="2.85" font-size="7.95" text-anchor="start" fill="#23639b" stroke="#23639b" stroke-width="0.22" font-weight="bold" transform="translate(649.3 138.9) scale(1 1.08)">0</text>
<line x1="645.1" y1="110.12" x2="647.3" y2="110.12" stroke="#23639b" stroke-width="1"/>
<text x="0" y="2.85" font-size="7.95" text-anchor="start" fill="#23639b" stroke="#23639b" stroke-width="0.22" font-weight="bold" transform="translate(649.3 110.12) scale(1 1.08)">15</text>
<line x1="645.1" y1="81.35" x2="647.3" y2="81.35" stroke="#23639b" stroke-width="1"/>
<text x="0" y="2.85" font-size="7.95" text-anchor="start" fill="#23639b" stroke="#23639b" stroke-width="0.22" font-weight="bold" transform="translate(649.3 81.35) scale(1 1.08)">30</text>
<line x1="645.1" y1="52.57" x2="647.3" y2="52.57" stroke="#23639b" stroke-width="1"/>
<text x="0" y="2.85" font-size="7.95" text-anchor="start" fill="#23639b" stroke="#23639b" stroke-width="0.22" font-weight="bold" transform="translate(649.3 52.57) scale(1 1.08)">45</text>
<line x1="645.1" y1="23.79" x2="647.3" y2="23.79" stroke="#23639b" stroke-width="1"/>
<text x="0" y="2.85" font-size="7.95" text-anchor="start" fill="#23639b" stroke="#23639b" stroke-width="0.22" font-weight="bold" transform="translate(649.3 23.79) scale(1 1.08)">60</text>
<line x1="645.1" y1="124.51" x2="646.5" y2="124.51" stroke="#23639b" stroke-width="1"/>
<line x1="645.1" y1="95.73" x2="646.5" y2="95.73" stroke="#23639b" stroke-width="1"/>
<line x1="645.1" y1="66.96" x2="646.5" y2="66.96" stroke="#23639b" stroke-width="1"/>
<line x1="645.1" y1="38.18" x2="646.5" y2="38.18" stroke="#23639b" stroke-width="1"/>
<line x1="490" y1="14.2" x2="645.1" y2="14.2" stroke="#6a6a6a" stroke-width="1.1"/>
<line x1="489.5" y1="138.9" x2="645.6" y2="138.9" stroke="#3a3a3a" stroke-width="1.1"/>
<line x1="490" y1="13.7" x2="490" y2="138.9" stroke="#7d5d1e" stroke-width="1.1"/>
<line x1="645.1" y1="13.7" x2="645.1" y2="138.9" stroke="#23639b" stroke-width="1.1"/>
<text x="0" y="3.76" font-size="10.5" text-anchor="middle" fill="#111" stroke="#111" stroke-width="0.22" font-weight="bold" transform="translate(466.3 76.55) rotate(-90)">Hardness (GPa)</text>
<text x="0" y="3.76" font-size="10.5" text-anchor="middle" fill="#111" stroke="#111" stroke-width="0.22" font-weight="bold" transform="translate(667.2 74.55) rotate(-90)">Elastic modulus (GPa)</text>
<text x="443.6" y="9.7" font-size="13.6" font-weight="bold" fill="#000" stroke="#000" stroke-width="0.15">c</text>
<rect x="33.99" y="235.15" width="15.55" height="68.45" fill="url(#gOr)"/>
<rect x="49.54" y="205.97" width="15.55" height="97.63" fill="url(#gBl)"/>
<line x1="41.76" y1="231.96" x2="41.76" y2="238.35" stroke="#2a2a2a" stroke-width="0.9"/>
<line x1="40.46" y1="231.96" x2="43.06" y2="231.96" stroke="#2a2a2a" stroke-width="0.9"/>
<line x1="40.46" y1="238.35" x2="43.06" y2="238.35" stroke="#2a2a2a" stroke-width="0.9"/>
<circle cx="39.36" cy="237.55" r="1.25" fill="#fff" stroke="#8a8a8a" stroke-width="0.55"/>
<circle cx="44.36" cy="232.6" r="1.25" fill="#fff" stroke="#8a8a8a" stroke-width="0.55"/>
<line x1="57.31" y1="201.87" x2="57.31" y2="210.06" stroke="#2a2a2a" stroke-width="0.9"/>
<line x1="56.01" y1="201.87" x2="58.61" y2="201.87" stroke="#2a2a2a" stroke-width="0.9"/>
<line x1="56.01" y1="210.06" x2="58.61" y2="210.06" stroke="#2a2a2a" stroke-width="0.9"/>
<circle cx="54.91" cy="209.04" r="1.25" fill="#fff" stroke="#8a8a8a" stroke-width="0.55"/>
<circle cx="59.91" cy="202.69" r="1.25" fill="#fff" stroke="#8a8a8a" stroke-width="0.55"/>
<text x="0" y="2.33" font-size="6.5" text-anchor="middle" fill="#1a1a1a" stroke="#1a1a1a" stroke-width="0.08" font-weight="bold" transform="translate(41.76 227.26) scale(1 1.08)">1.37</text>
<text x="0" y="2.33" font-size="6.5" text-anchor="middle" fill="#1a1a1a" stroke="#1a1a1a" stroke-width="0.08" font-weight="bold" transform="translate(57.31 197.17) scale(1 1.08)">50.81</text>
<line x1="49.54" y1="303.6" x2="49.54" y2="305.8" stroke="#333" stroke-width="1"/>
<text x="0" y="2.51" font-size="7" text-anchor="middle" fill="#111" stroke="#111" stroke-width="0.22" font-weight="bold" transform="translate(50.3 314) rotate(-14) scale(1 1.08)">PG/AZ91D-xz</text>
<rect x="72.86" y="242.65" width="15.55" height="60.95" fill="url(#gOr)"/>
<rect x="88.41" y="212.54" width="15.55" height="91.06" fill="url(#gBl)"/>
<line x1="80.64" y1="240.65" x2="80.64" y2="244.65" stroke="#2a2a2a" stroke-width="0.9"/>
<line x1="79.34" y1="240.65" x2="81.94" y2="240.65" stroke="#2a2a2a" stroke-width="0.9"/>
<line x1="79.34" y1="244.65" x2="81.94" y2="244.65" stroke="#2a2a2a" stroke-width="0.9"/>
<circle cx="78.24" cy="244.15" r="1.25" fill="#fff" stroke="#8a8a8a" stroke-width="0.55"/>
<circle cx="83.24" cy="241.05" r="1.25" fill="#fff" stroke="#8a8a8a" stroke-width="0.55"/>
<line x1="96.19" y1="209.94" x2="96.19" y2="215.13" stroke="#2a2a2a" stroke-width="0.9"/>
<line x1="94.89" y1="209.94" x2="97.49" y2="209.94" stroke="#2a2a2a" stroke-width="0.9"/>
<line x1="94.89" y1="215.13" x2="97.49" y2="215.13" stroke="#2a2a2a" stroke-width="0.9"/>
<circle cx="93.79" cy="214.48" r="1.25" fill="#fff" stroke="#8a8a8a" stroke-width="0.55"/>
<circle cx="98.79" cy="210.46" r="1.25" fill="#fff" stroke="#8a8a8a" stroke-width="0.55"/>
<text x="0" y="2.33" font-size="6.5" text-anchor="middle" fill="#1a1a1a" stroke="#1a1a1a" stroke-width="0.08" font-weight="bold" transform="translate(80.64 235.95) scale(1 1.08)">1.22</text>
<text x="0" y="2.33" font-size="6.5" text-anchor="middle" fill="#1a1a1a" stroke="#1a1a1a" stroke-width="0.08" font-weight="bold" transform="translate(96.19 205.24) scale(1 1.08)">47.39</text>
<line x1="88.41" y1="303.6" x2="88.41" y2="305.8" stroke="#333" stroke-width="1"/>
<text x="0" y="2.51" font-size="7" text-anchor="middle" fill="#111" stroke="#111" stroke-width="0.22" font-weight="bold" transform="translate(81.5 316.2) rotate(-14) scale(1 1.08)">PG@PyC-60/AZ91D-xz</text>
<rect x="111.74" y="236.65" width="15.55" height="66.95" fill="url(#gOr)"/>
<rect x="127.29" y="209.64" width="15.55" height="93.96" fill="url(#gBl)"/>
<line x1="119.51" y1="234.36" x2="119.51" y2="238.95" stroke="#2a2a2a" stroke-width="0.9"/>
<line x1="118.21" y1="234.36" x2="120.81" y2="234.36" stroke="#2a2a2a" stroke-width="0.9"/>
<line x1="118.21" y1="238.95" x2="120.81" y2="238.95" stroke="#2a2a2a" stroke-width="0.9"/>
<circle cx="117.11" cy="238.38" r="1.25" fill="#fff" stroke="#8a8a8a" stroke-width="0.55"/>
<circle cx="122.11" cy="234.82" r="1.25" fill="#fff" stroke="#8a8a8a" stroke-width="0.55"/>
<line x1="135.06" y1="207.83" x2="135.06" y2="211.44" stroke="#2a2a2a" stroke-width="0.9"/>
<line x1="133.76" y1="207.83" x2="136.36" y2="207.83" stroke="#2a2a2a" stroke-width="0.9"/>
<line x1="133.76" y1="211.44" x2="136.36" y2="211.44" stroke="#2a2a2a" stroke-width="0.9"/>
<circle cx="132.66" cy="210.99" r="1.25" fill="#fff" stroke="#8a8a8a" stroke-width="0.55"/>
<circle cx="137.66" cy="208.19" r="1.25" fill="#fff" stroke="#8a8a8a" stroke-width="0.55"/>
<text x="0" y="2.33" font-size="6.5" text-anchor="middle" fill="#1a1a1a" stroke="#1a1a1a" stroke-width="0.08" font-weight="bold" transform="translate(119.51 229.66) scale(1 1.08)">1.34</text>
<text x="0" y="2.33" font-size="6.5" text-anchor="middle" fill="#1a1a1a" stroke="#1a1a1a" stroke-width="0.08" font-weight="bold" transform="translate(135.06 203.13) scale(1 1.08)">48.90</text>
<line x1="127.29" y1="303.6" x2="127.29" y2="305.8" stroke="#333" stroke-width="1"/>
<text x="0" y="2.51" font-size="7" text-anchor="middle" fill="#111" stroke="#111" stroke-width="0.22" font-weight="bold" transform="translate(125.5 317) rotate(-14) scale(1 1.08)">PG@PyC-90/AZ91D-xz</text>
<rect x="150.61" y="236.65" width="15.55" height="66.95" fill="url(#gOr)"/>
<rect x="166.16" y="209.02" width="15.55" height="94.58" fill="url(#gBl)"/>
<line x1="158.39" y1="231.16" x2="158.39" y2="242.15" stroke="#2a2a2a" stroke-width="0.9"/>
<line x1="157.09" y1="231.16" x2="159.69" y2="231.16" stroke="#2a2a2a" stroke-width="0.9"/>
<line x1="157.09" y1="242.15" x2="159.69" y2="242.15" stroke="#2a2a2a" stroke-width="0.9"/>
<circle cx="155.99" cy="240.78" r="1.25" fill="#fff" stroke="#8a8a8a" stroke-width="0.55"/>
<circle cx="160.99" cy="232.26" r="1.25" fill="#fff" stroke="#8a8a8a" stroke-width="0.55"/>
<line x1="173.94" y1="208.02" x2="173.94" y2="210.02" stroke="#2a2a2a" stroke-width="0.9"/>
<line x1="172.64" y1="208.02" x2="175.24" y2="208.02" stroke="#2a2a2a" stroke-width="0.9"/>
<line x1="172.64" y1="210.02" x2="175.24" y2="210.02" stroke="#2a2a2a" stroke-width="0.9"/>
<circle cx="171.54" cy="209.77" r="1.25" fill="#fff" stroke="#8a8a8a" stroke-width="0.55"/>
<circle cx="176.54" cy="208.22" r="1.25" fill="#fff" stroke="#8a8a8a" stroke-width="0.55"/>
<text x="0" y="2.33" font-size="6.5" text-anchor="middle" fill="#1a1a1a" stroke="#1a1a1a" stroke-width="0.08" font-weight="bold" transform="translate(158.39 226.46) scale(1 1.08)">1.34</text>
<text x="0" y="2.33" font-size="6.5" text-anchor="middle" fill="#1a1a1a" stroke="#1a1a1a" stroke-width="0.08" font-weight="bold" transform="translate(173.94 203.32) scale(1 1.08)">49.22</text>
<line x1="166.16" y1="303.6" x2="166.16" y2="305.8" stroke="#333" stroke-width="1"/>
<text x="0" y="2.51" font-size="7" text-anchor="middle" fill="#111" stroke="#111" stroke-width="0.22" font-weight="bold" transform="translate(167.2 318.47) rotate(-14) scale(1 1.08)">PG@PyC-120/AZ91D-xz</text>
<line x1="27.9" y1="303.6" x2="30.1" y2="303.6" stroke="#7d5d1e" stroke-width="1"/>
<text x="0" y="2.85" font-size="7.95" text-anchor="end" fill="#7d5d1e" stroke="#7d5d1e" stroke-width="0.22" font-weight="bold" transform="translate(25.9 303.6) scale(1 1.08)">0.0</text>
<line x1="27.9" y1="278.62" x2="30.1" y2="278.62" stroke="#7d5d1e" stroke-width="1"/>
<text x="0" y="2.85" font-size="7.95" text-anchor="end" fill="#7d5d1e" stroke="#7d5d1e" stroke-width="0.22" font-weight="bold" transform="translate(25.9 278.62) scale(1 1.08)">0.5</text>
<line x1="27.9" y1="253.64" x2="30.1" y2="253.64" stroke="#7d5d1e" stroke-width="1"/>
<text x="0" y="2.85" font-size="7.95" text-anchor="end" fill="#7d5d1e" stroke="#7d5d1e" stroke-width="0.22" font-weight="bold" transform="translate(25.9 253.64) scale(1 1.08)">1.0</text>
<line x1="27.9" y1="228.66" x2="30.1" y2="228.66" stroke="#7d5d1e" stroke-width="1"/>
<text x="0" y="2.85" font-size="7.95" text-anchor="end" fill="#7d5d1e" stroke="#7d5d1e" stroke-width="0.22" font-weight="bold" transform="translate(25.9 228.66) scale(1 1.08)">1.5</text>
<line x1="27.9" y1="203.68" x2="30.1" y2="203.68" stroke="#7d5d1e" stroke-width="1"/>
<text x="0" y="2.85" font-size="7.95" text-anchor="end" fill="#7d5d1e" stroke="#7d5d1e" stroke-width="0.22" font-weight="bold" transform="translate(25.9 203.68) scale(1 1.08)">2.0</text>
<line x1="27.9" y1="178.7" x2="30.1" y2="178.7" stroke="#7d5d1e" stroke-width="1"/>
<text x="0" y="2.85" font-size="7.95" text-anchor="end" fill="#7d5d1e" stroke="#7d5d1e" stroke-width="0.22" font-weight="bold" transform="translate(25.9 178.7) scale(1 1.08)">2.5</text>
<line x1="28.7" y1="291.11" x2="30.1" y2="291.11" stroke="#7d5d1e" stroke-width="1"/>
<line x1="28.7" y1="266.13" x2="30.1" y2="266.13" stroke="#7d5d1e" stroke-width="1"/>
<line x1="28.7" y1="241.15" x2="30.1" y2="241.15" stroke="#7d5d1e" stroke-width="1"/>
<line x1="28.7" y1="216.17" x2="30.1" y2="216.17" stroke="#7d5d1e" stroke-width="1"/>
<line x1="28.7" y1="191.19" x2="30.1" y2="191.19" stroke="#7d5d1e" stroke-width="1"/>
<line x1="185.6" y1="303.6" x2="187.8" y2="303.6" stroke="#23639b" stroke-width="1"/>
<text x="0" y="2.85" font-size="7.95" text-anchor="start" fill="#23639b" stroke="#23639b" stroke-width="0.22" font-weight="bold" transform="translate(189.8 303.6) scale(1 1.08)">0</text>
<line x1="185.6" y1="274.78" x2="187.8" y2="274.78" stroke="#23639b" stroke-width="1"/>
<text x="0" y="2.85" font-size="7.95" text-anchor="start" fill="#23639b" stroke="#23639b" stroke-width="0.22" font-weight="bold" transform="translate(189.8 274.78) scale(1 1.08)">15</text>
<line x1="185.6" y1="245.95" x2="187.8" y2="245.95" stroke="#23639b" stroke-width="1"/>
<text x="0" y="2.85" font-size="7.95" text-anchor="start" fill="#23639b" stroke="#23639b" stroke-width="0.22" font-weight="bold" transform="translate(189.8 245.95) scale(1 1.08)">30</text>
<line x1="185.6" y1="217.13" x2="187.8" y2="217.13" stroke="#23639b" stroke-width="1"/>
<text x="0" y="2.85" font-size="7.95" text-anchor="start" fill="#23639b" stroke="#23639b" stroke-width="0.22" font-weight="bold" transform="translate(189.8 217.13) scale(1 1.08)">45</text>
<line x1="185.6" y1="188.31" x2="187.8" y2="188.31" stroke="#23639b" stroke-width="1"/>
<text x="0" y="2.85" font-size="7.95" text-anchor="start" fill="#23639b" stroke="#23639b" stroke-width="0.22" font-weight="bold" transform="translate(189.8 188.31) scale(1 1.08)">60</text>
<line x1="185.6" y1="289.19" x2="187" y2="289.19" stroke="#23639b" stroke-width="1"/>
<line x1="185.6" y1="260.37" x2="187" y2="260.37" stroke="#23639b" stroke-width="1"/>
<line x1="185.6" y1="231.54" x2="187" y2="231.54" stroke="#23639b" stroke-width="1"/>
<line x1="185.6" y1="202.72" x2="187" y2="202.72" stroke="#23639b" stroke-width="1"/>
<line x1="30.1" y1="178.7" x2="185.6" y2="178.7" stroke="#6a6a6a" stroke-width="1.1"/>
<line x1="29.6" y1="303.6" x2="186.1" y2="303.6" stroke="#3a3a3a" stroke-width="1.1"/>
<line x1="30.1" y1="178.2" x2="30.1" y2="303.6" stroke="#7d5d1e" stroke-width="1.1"/>
<line x1="185.6" y1="178.2" x2="185.6" y2="303.6" stroke="#23639b" stroke-width="1.1"/>
<text x="0" y="3.76" font-size="10.5" text-anchor="middle" fill="#111" stroke="#111" stroke-width="0.22" font-weight="bold" transform="translate(6.5 241.15) rotate(-90)">Hardness (GPa)</text>
<text x="0" y="3.76" font-size="10.5" text-anchor="middle" fill="#111" stroke="#111" stroke-width="0.22" font-weight="bold" transform="translate(207 239.15) rotate(-90)">Elastic modulus (GPa)</text>
<text x="0.6" y="173.1" font-size="13.6" font-weight="bold" fill="#000" stroke="#000" stroke-width="0.15">d</text>
<rect x="495.5" y="216.64" width="12.39" height="87.86" fill="url(#gRd)" stroke="#c8c8c8" stroke-width="0.6"/>
<rect x="507.89" y="255.94" width="12.39" height="48.55" fill="url(#gLb)" stroke="#c8c8c8" stroke-width="0.6"/>
<text x="0" y="2.33" font-size="6.5" text-anchor="middle" fill="#1a1a1a" stroke="#1a1a1a" stroke-width="0.08" font-weight="bold" transform="translate(501.69 212.24) scale(1 1.08)">247</text>
<text x="0" y="2.33" font-size="6.5" text-anchor="middle" fill="#1a1a1a" stroke="#1a1a1a" stroke-width="0.08" font-weight="bold" transform="translate(514.09 251.54) scale(1 1.08)">15.6</text>
<line x1="507.89" y1="304.5" x2="507.89" y2="306.7" stroke="#333" stroke-width="1"/>
<text x="0" y="2.51" font-size="7" text-anchor="middle" fill="#111" stroke="#111" stroke-width="0.22" font-weight="bold" transform="translate(508.4 312.67) rotate(-14) scale(1 1.08)">AZ91D</text>
<rect x="526.48" y="242.61" width="12.39" height="61.89" fill="url(#gRd)" stroke="#c8c8c8" stroke-width="0.6"/>
<rect x="538.87" y="257.81" width="12.39" height="46.69" fill="url(#gLb)" stroke="#c8c8c8" stroke-width="0.6"/>
<text x="0" y="2.33" font-size="6.5" text-anchor="middle" fill="#1a1a1a" stroke="#1a1a1a" stroke-width="0.08" font-weight="bold" transform="translate(532.67 238.21) scale(1 1.08)">174</text>
<text x="0" y="2.33" font-size="6.5" text-anchor="middle" fill="#1a1a1a" stroke="#1a1a1a" stroke-width="0.08" font-weight="bold" transform="translate(545.07 253.41) scale(1 1.08)">15.0</text>
<line x1="538.87" y1="304.5" x2="538.87" y2="306.7" stroke="#333" stroke-width="1"/>
<text x="0" y="2.51" font-size="7" text-anchor="middle" fill="#111" stroke="#111" stroke-width="0.22" font-weight="bold" transform="translate(538.5 313.23) rotate(-14) scale(1 1.08)">PG/AZ91D</text>
<rect x="557.46" y="226.24" width="12.39" height="78.26" fill="url(#gRd)" stroke="#c8c8c8" stroke-width="0.6"/>
<rect x="569.85" y="245.36" width="12.39" height="59.14" fill="url(#gLb)" stroke="#c8c8c8" stroke-width="0.6"/>
<text x="0" y="2.33" font-size="6.5" text-anchor="middle" fill="#1a1a1a" stroke="#1a1a1a" stroke-width="0.08" font-weight="bold" transform="translate(563.65 221.84) scale(1 1.08)">220</text>
<text x="0" y="2.33" font-size="6.5" text-anchor="middle" fill="#1a1a1a" stroke="#1a1a1a" stroke-width="0.08" font-weight="bold" transform="translate(576.05 240.96) scale(1 1.08)">19.0</text>
<line x1="569.85" y1="304.5" x2="569.85" y2="306.7" stroke="#333" stroke-width="1"/>
<text x="0" y="2.51" font-size="7" text-anchor="middle" fill="#111" stroke="#111" stroke-width="0.22" font-weight="bold" transform="translate(562.7 317.32) rotate(-14) scale(1 1.08)">PG@PyC-60/AZ91D</text>
<rect x="588.44" y="206.32" width="12.39" height="98.18" fill="url(#gRd)" stroke="#c8c8c8" stroke-width="0.6"/>
<rect x="600.83" y="239.14" width="12.39" height="65.36" fill="url(#gLb)" stroke="#c8c8c8" stroke-width="0.6"/>
<text x="0" y="2.33" font-size="6.5" text-anchor="middle" fill="#1a1a1a" stroke="#1a1a1a" stroke-width="0.08" font-weight="bold" transform="translate(594.63 201.92) scale(1 1.08)">276</text>
<text x="0" y="2.33" font-size="6.5" text-anchor="middle" fill="#1a1a1a" stroke="#1a1a1a" stroke-width="0.08" font-weight="bold" transform="translate(607.03 234.74) scale(1 1.08)">21.0</text>
<line x1="600.83" y1="304.5" x2="600.83" y2="306.7" stroke="#333" stroke-width="1"/>
<text x="0" y="2.51" font-size="7" text-anchor="middle" fill="#111" stroke="#111" stroke-width="0.22" font-weight="bold" transform="translate(593.8 318.12) rotate(-14) scale(1 1.08)">PG@PyC-90/AZ91D</text>
<rect x="619.42" y="212.73" width="12.39" height="91.77" fill="url(#gRd)" stroke="#c8c8c8" stroke-width="0.6"/>
<rect x="631.81" y="240.07" width="12.39" height="64.43" fill="url(#gLb)" stroke="#c8c8c8" stroke-width="0.6"/>
<text x="0" y="2.33" font-size="6.5" text-anchor="middle" fill="#1a1a1a" stroke="#1a1a1a" stroke-width="0.08" font-weight="bold" transform="translate(625.61 208.33) scale(1 1.08)">258</text>
<text x="0" y="2.33" font-size="6.5" text-anchor="middle" fill="#1a1a1a" stroke="#1a1a1a" stroke-width="0.08" font-weight="bold" transform="translate(638.01 235.67) scale(1 1.08)">20.7</text>
<line x1="631.81" y1="304.5" x2="631.81" y2="306.7" stroke="#333" stroke-width="1"/>
<text x="0" y="2.51" font-size="7" text-anchor="middle" fill="#111" stroke="#111" stroke-width="0.22" font-weight="bold" transform="translate(623 319.49) rotate(-14) scale(1 1.08)">PG@PyC-120/AZ91D</text>
<line x1="490.2" y1="304.5" x2="492.4" y2="304.5" stroke="#d8222a" stroke-width="1"/>
<text x="0" y="2.85" font-size="7.95" text-anchor="end" fill="#d8222a" stroke="#d8222a" stroke-width="0.22" font-weight="bold" transform="translate(488.2 304.5) scale(1 1.08)">0</text>
<line x1="490.2" y1="268.93" x2="492.4" y2="268.93" stroke="#d8222a" stroke-width="1"/>
<text x="0" y="2.85" font-size="7.95" text-anchor="end" fill="#d8222a" stroke="#d8222a" stroke-width="0.22" font-weight="bold" transform="translate(488.2 268.93) scale(1 1.08)">100</text>
<line x1="490.2" y1="233.36" x2="492.4" y2="233.36" stroke="#d8222a" stroke-width="1"/>
<text x="0" y="2.85" font-size="7.95" text-anchor="end" fill="#d8222a" stroke="#d8222a" stroke-width="0.22" font-weight="bold" transform="translate(488.2 233.36) scale(1 1.08)">200</text>
<line x1="490.2" y1="197.79" x2="492.4" y2="197.79" stroke="#d8222a" stroke-width="1"/>
<text x="0" y="2.85" font-size="7.95" text-anchor="end" fill="#d8222a" stroke="#d8222a" stroke-width="0.22" font-weight="bold" transform="translate(488.2 197.79) scale(1 1.08)">300</text>
<line x1="491" y1="286.71" x2="492.4" y2="286.71" stroke="#d8222a" stroke-width="1"/>
<line x1="491" y1="251.14" x2="492.4" y2="251.14" stroke="#d8222a" stroke-width="1"/>
<line x1="491" y1="215.57" x2="492.4" y2="215.57" stroke="#d8222a" stroke-width="1"/>
<line x1="647.3" y1="304.5" x2="649.5" y2="304.5" stroke="#23639b" stroke-width="1"/>
<text x="0" y="2.85" font-size="7.95" text-anchor="start" fill="#23639b" stroke="#23639b" stroke-width="0.22" font-weight="bold" transform="translate(651.5 304.5) scale(1 1.08)">0</text>
<line x1="647.3" y1="288.94" x2="649.5" y2="288.94" stroke="#23639b" stroke-width="1"/>
<text x="0" y="2.85" font-size="7.95" text-anchor="start" fill="#23639b" stroke="#23639b" stroke-width="0.22" font-weight="bold" transform="translate(651.5 288.94) scale(1 1.08)">5</text>
<line x1="647.3" y1="273.38" x2="649.5" y2="273.38" stroke="#23639b" stroke-width="1"/>
<text x="0" y="2.85" font-size="7.95" text-anchor="start" fill="#23639b" stroke="#23639b" stroke-width="0.22" font-weight="bold" transform="translate(651.5 273.38) scale(1 1.08)">10</text>
<line x1="647.3" y1="257.81" x2="649.5" y2="257.81" stroke="#23639b" stroke-width="1"/>
<text x="0" y="2.85" font-size="7.95" text-anchor="start" fill="#23639b" stroke="#23639b" stroke-width="0.22" font-weight="bold" transform="translate(651.5 257.81) scale(1 1.08)">15</text>
<line x1="647.3" y1="242.25" x2="649.5" y2="242.25" stroke="#23639b" stroke-width="1"/>
<text x="0" y="2.85" font-size="7.95" text-anchor="start" fill="#23639b" stroke="#23639b" stroke-width="0.22" font-weight="bold" transform="translate(651.5 242.25) scale(1 1.08)">20</text>
<line x1="647.3" y1="226.69" x2="649.5" y2="226.69" stroke="#23639b" stroke-width="1"/>
<text x="0" y="2.85" font-size="7.95" text-anchor="start" fill="#23639b" stroke="#23639b" stroke-width="0.22" font-weight="bold" transform="translate(651.5 226.69) scale(1 1.08)">25</text>
<line x1="647.3" y1="211.12" x2="649.5" y2="211.12" stroke="#23639b" stroke-width="1"/>
<text x="0" y="2.85" font-size="7.95" text-anchor="start" fill="#23639b" stroke="#23639b" stroke-width="0.22" font-weight="bold" transform="translate(651.5 211.12) scale(1 1.08)">30</text>
<line x1="647.3" y1="195.56" x2="649.5" y2="195.56" stroke="#23639b" stroke-width="1"/>
<text x="0" y="2.85" font-size="7.95" text-anchor="start" fill="#23639b" stroke="#23639b" stroke-width="0.22" font-weight="bold" transform="translate(651.5 195.56) scale(1 1.08)">35</text>
<line x1="647.3" y1="180" x2="649.5" y2="180" stroke="#23639b" stroke-width="1"/>
<text x="0" y="2.85" font-size="7.95" text-anchor="start" fill="#23639b" stroke="#23639b" stroke-width="0.22" font-weight="bold" transform="translate(651.5 180) scale(1 1.08)">40</text>
<line x1="647.3" y1="296.72" x2="648.7" y2="296.72" stroke="#23639b" stroke-width="1"/>
<line x1="647.3" y1="281.16" x2="648.7" y2="281.16" stroke="#23639b" stroke-width="1"/>
<line x1="647.3" y1="265.59" x2="648.7" y2="265.59" stroke="#23639b" stroke-width="1"/>
<line x1="647.3" y1="250.03" x2="648.7" y2="250.03" stroke="#23639b" stroke-width="1"/>
<line x1="647.3" y1="234.47" x2="648.7" y2="234.47" stroke="#23639b" stroke-width="1"/>
<line x1="647.3" y1="218.91" x2="648.7" y2="218.91" stroke="#23639b" stroke-width="1"/>
<line x1="647.3" y1="203.34" x2="648.7" y2="203.34" stroke="#23639b" stroke-width="1"/>
<line x1="647.3" y1="187.78" x2="648.7" y2="187.78" stroke="#23639b" stroke-width="1"/>
<line x1="492.4" y1="180" x2="647.3" y2="180" stroke="#6a6a6a" stroke-width="1.1"/>
<line x1="491.9" y1="304.5" x2="647.8" y2="304.5" stroke="#3a3a3a" stroke-width="1.1"/>
<line x1="492.4" y1="179.5" x2="492.4" y2="304.5" stroke="#d8222a" stroke-width="1.1"/>
<line x1="647.3" y1="179.5" x2="647.3" y2="304.5" stroke="#23639b" stroke-width="1.1"/>
<text x="0" y="3.76" font-size="10.5" text-anchor="middle" fill="#111" stroke="#111" stroke-width="0.22" font-weight="bold" transform="translate(466.1 242.25) rotate(-90)">Compressive strength (MPa)</text>
<text x="0" y="3.76" font-size="10.5" text-anchor="middle" fill="#111" stroke="#111" stroke-width="0.22" font-weight="bold" transform="translate(668.6 240.25) rotate(-90)">Failure strain (%)</text>
<text x="446.4" y="172" font-size="13.6" font-weight="bold" fill="#000" stroke="#000" stroke-width="0.15">f</text>
<rect x="263.29" y="409.69" width="12.36" height="75.41" fill="url(#gRd)" stroke="#c8c8c8" stroke-width="0.6"/>
<rect x="275.65" y="413.01" width="12.36" height="72.09" fill="url(#gLb)" stroke="#c8c8c8" stroke-width="0.6"/>
<text x="0" y="2.33" font-size="6.5" text-anchor="middle" fill="#1a1a1a" stroke="#1a1a1a" stroke-width="0.08" font-weight="bold" transform="translate(269.47 405.29) scale(1 1.08)">182</text>
<text x="0" y="2.33" font-size="6.5" text-anchor="middle" fill="#1a1a1a" stroke="#1a1a1a" stroke-width="0.08" font-weight="bold" transform="translate(281.83 408.61) scale(1 1.08)">5.8</text>
<line x1="275.65" y1="485.1" x2="275.65" y2="487.3" stroke="#333" stroke-width="1"/>
<text x="0" y="2.51" font-size="7" text-anchor="middle" fill="#111" stroke="#111" stroke-width="0.22" font-weight="bold" transform="translate(276.5 494.27) rotate(-14) scale(1 1.08)">AZ91D</text>
<rect x="294.19" y="444.5" width="12.36" height="40.6" fill="url(#gRd)" stroke="#c8c8c8" stroke-width="0.6"/>
<rect x="306.55" y="472.67" width="12.36" height="12.43" fill="url(#gLb)" stroke="#c8c8c8" stroke-width="0.6"/>
<text x="0" y="2.33" font-size="6.5" text-anchor="middle" fill="#1a1a1a" stroke="#1a1a1a" stroke-width="0.08" font-weight="bold" transform="translate(300.37 440.1) scale(1 1.08)">98</text>
<text x="0" y="2.33" font-size="6.5" text-anchor="middle" fill="#1a1a1a" stroke="#1a1a1a" stroke-width="0.08" font-weight="bold" transform="translate(312.73 468.27) scale(1 1.08)">1.0</text>
<line x1="306.55" y1="485.1" x2="306.55" y2="487.3" stroke="#333" stroke-width="1"/>
<text x="0" y="2.51" font-size="7" text-anchor="middle" fill="#111" stroke="#111" stroke-width="0.22" font-weight="bold" transform="translate(306 494.23) rotate(-14) scale(1 1.08)">PG/AZ91D</text>
<rect x="325.09" y="432.48" width="12.36" height="52.62" fill="url(#gRd)" stroke="#c8c8c8" stroke-width="0.6"/>
<rect x="337.45" y="432.89" width="12.36" height="52.21" fill="url(#gLb)" stroke="#c8c8c8" stroke-width="0.6"/>
<text x="0" y="2.33" font-size="6.5" text-anchor="middle" fill="#1a1a1a" stroke="#1a1a1a" stroke-width="0.08" font-weight="bold" transform="translate(331.27 428.08) scale(1 1.08)">127</text>
<text x="0" y="2.33" font-size="6.5" text-anchor="middle" fill="#1a1a1a" stroke="#1a1a1a" stroke-width="0.08" font-weight="bold" transform="translate(343.63 428.49) scale(1 1.08)">4.2</text>
<line x1="337.45" y1="485.1" x2="337.45" y2="487.3" stroke="#333" stroke-width="1"/>
<text x="0" y="2.51" font-size="7" text-anchor="middle" fill="#111" stroke="#111" stroke-width="0.22" font-weight="bold" transform="translate(330.9 498.12) rotate(-14) scale(1 1.08)">PG@PyC-60/AZ91D</text>
<rect x="355.99" y="389.39" width="12.36" height="95.71" fill="url(#gRd)" stroke="#c8c8c8" stroke-width="0.6"/>
<rect x="368.35" y="424.19" width="12.36" height="60.91" fill="url(#gLb)" stroke="#c8c8c8" stroke-width="0.6"/>
<text x="0" y="2.33" font-size="6.5" text-anchor="middle" fill="#1a1a1a" stroke="#1a1a1a" stroke-width="0.08" font-weight="bold" transform="translate(362.17 384.99) scale(1 1.08)">231</text>
<text x="0" y="2.33" font-size="6.5" text-anchor="middle" fill="#1a1a1a" stroke="#1a1a1a" stroke-width="0.08" font-weight="bold" transform="translate(374.53 419.79) scale(1 1.08)">4.9</text>
<line x1="368.35" y1="485.1" x2="368.35" y2="487.3" stroke="#333" stroke-width="1"/>
<text x="0" y="2.51" font-size="7" text-anchor="middle" fill="#111" stroke="#111" stroke-width="0.22" font-weight="bold" transform="translate(361.5 499.12) rotate(-14) scale(1 1.08)">PG@PyC-90/AZ91D</text>
<rect x="386.89" y="395.6" width="12.36" height="89.5" fill="url(#gRd)" stroke="#c8c8c8" stroke-width="0.6"/>
<rect x="399.25" y="416.74" width="12.36" height="68.37" fill="url(#gLb)" stroke="#c8c8c8" stroke-width="0.6"/>
<text x="0" y="2.33" font-size="6.5" text-anchor="middle" fill="#1a1a1a" stroke="#1a1a1a" stroke-width="0.08" font-weight="bold" transform="translate(393.07 391.2) scale(1 1.08)">216</text>
<text x="0" y="2.33" font-size="6.5" text-anchor="middle" fill="#1a1a1a" stroke="#1a1a1a" stroke-width="0.08" font-weight="bold" transform="translate(405.43 412.34) scale(1 1.08)">5.5</text>
<line x1="399.25" y1="485.1" x2="399.25" y2="487.3" stroke="#333" stroke-width="1"/>
<text x="0" y="2.51" font-size="7" text-anchor="middle" fill="#111" stroke="#111" stroke-width="0.22" font-weight="bold" transform="translate(391.2 500.59) rotate(-14) scale(1 1.08)">PG@PyC-120/AZ91D</text>
<line x1="258" y1="485.1" x2="260.2" y2="485.1" stroke="#d8222a" stroke-width="1"/>
<text x="0" y="2.85" font-size="7.95" text-anchor="end" fill="#d8222a" stroke="#d8222a" stroke-width="0.22" font-weight="bold" transform="translate(256 485.1) scale(1 1.08)">0</text>
<line x1="258" y1="443.67" x2="260.2" y2="443.67" stroke="#d8222a" stroke-width="1"/>
<text x="0" y="2.85" font-size="7.95" text-anchor="end" fill="#d8222a" stroke="#d8222a" stroke-width="0.22" font-weight="bold" transform="translate(256 443.67) scale(1 1.08)">100</text>
<line x1="258" y1="402.23" x2="260.2" y2="402.23" stroke="#d8222a" stroke-width="1"/>
<text x="0" y="2.85" font-size="7.95" text-anchor="end" fill="#d8222a" stroke="#d8222a" stroke-width="0.22" font-weight="bold" transform="translate(256 402.23) scale(1 1.08)">200</text>
<line x1="258" y1="360.8" x2="260.2" y2="360.8" stroke="#d8222a" stroke-width="1"/>
<text x="0" y="2.85" font-size="7.95" text-anchor="end" fill="#d8222a" stroke="#d8222a" stroke-width="0.22" font-weight="bold" transform="translate(256 360.8) scale(1 1.08)">300</text>
<line x1="258.8" y1="464.38" x2="260.2" y2="464.38" stroke="#d8222a" stroke-width="1"/>
<line x1="258.8" y1="422.95" x2="260.2" y2="422.95" stroke="#d8222a" stroke-width="1"/>
<line x1="258.8" y1="381.52" x2="260.2" y2="381.52" stroke="#d8222a" stroke-width="1"/>
<line x1="414.7" y1="485.1" x2="416.9" y2="485.1" stroke="#23639b" stroke-width="1"/>
<text x="0" y="2.85" font-size="7.95" text-anchor="start" fill="#23639b" stroke="#23639b" stroke-width="0.22" font-weight="bold" transform="translate(418.9 485.1) scale(1 1.08)">0</text>
<line x1="414.7" y1="460.24" x2="416.9" y2="460.24" stroke="#23639b" stroke-width="1"/>
<text x="0" y="2.85" font-size="7.95" text-anchor="start" fill="#23639b" stroke="#23639b" stroke-width="0.22" font-weight="bold" transform="translate(418.9 460.24) scale(1 1.08)">2</text>
<line x1="414.7" y1="435.38" x2="416.9" y2="435.38" stroke="#23639b" stroke-width="1"/>
<text x="0" y="2.85" font-size="7.95" text-anchor="start" fill="#23639b" stroke="#23639b" stroke-width="0.22" font-weight="bold" transform="translate(418.9 435.38) scale(1 1.08)">4</text>
<line x1="414.7" y1="410.52" x2="416.9" y2="410.52" stroke="#23639b" stroke-width="1"/>
<text x="0" y="2.85" font-size="7.95" text-anchor="start" fill="#23639b" stroke="#23639b" stroke-width="0.22" font-weight="bold" transform="translate(418.9 410.52) scale(1 1.08)">6</text>
<line x1="414.7" y1="385.66" x2="416.9" y2="385.66" stroke="#23639b" stroke-width="1"/>
<text x="0" y="2.85" font-size="7.95" text-anchor="start" fill="#23639b" stroke="#23639b" stroke-width="0.22" font-weight="bold" transform="translate(418.9 385.66) scale(1 1.08)">8</text>
<line x1="414.7" y1="360.8" x2="416.9" y2="360.8" stroke="#23639b" stroke-width="1"/>
<text x="0" y="2.85" font-size="7.95" text-anchor="start" fill="#23639b" stroke="#23639b" stroke-width="0.22" font-weight="bold" transform="translate(418.9 360.8) scale(1 1.08)">10</text>
<line x1="414.7" y1="472.67" x2="416.1" y2="472.67" stroke="#23639b" stroke-width="1"/>
<line x1="414.7" y1="447.81" x2="416.1" y2="447.81" stroke="#23639b" stroke-width="1"/>
<line x1="414.7" y1="422.95" x2="416.1" y2="422.95" stroke="#23639b" stroke-width="1"/>
<line x1="414.7" y1="398.09" x2="416.1" y2="398.09" stroke="#23639b" stroke-width="1"/>
<line x1="414.7" y1="373.23" x2="416.1" y2="373.23" stroke="#23639b" stroke-width="1"/>
<line x1="260.2" y1="360.8" x2="414.7" y2="360.8" stroke="#6a6a6a" stroke-width="1.1"/>
<line x1="259.7" y1="485.1" x2="415.2" y2="485.1" stroke="#3a3a3a" stroke-width="1.1"/>
<line x1="260.2" y1="360.3" x2="260.2" y2="485.1" stroke="#d8222a" stroke-width="1.1"/>
<line x1="414.7" y1="360.3" x2="414.7" y2="485.1" stroke="#23639b" stroke-width="1.1"/>
<text x="0" y="3.76" font-size="10.5" text-anchor="middle" fill="#111" stroke="#111" stroke-width="0.22" font-weight="bold" transform="translate(234 422.95) rotate(-90)">Tensile strength (MPa)</text>
<text x="0" y="3.76" font-size="10.5" text-anchor="middle" fill="#111" stroke="#111" stroke-width="0.22" font-weight="bold" transform="translate(436 420.95) rotate(-90)">Elongation (%)</text>
<text x="232" y="353.9" font-size="13.6" font-weight="bold" fill="#000" stroke="#000" stroke-width="0.15">h</text>
<text x="230.8" y="172.7" font-size="13.6" font-weight="bold" fill="#000" stroke="#000" stroke-width="0.15">e</text>
<line x1="260.3" y1="304.4" x2="260.3" y2="306.6" stroke="#333" stroke-width="1"/>
<text x="0" y="2.85" font-size="7.95" text-anchor="middle" fill="#111" stroke="#111" stroke-width="0.22" font-weight="bold" transform="translate(260.3 312) scale(1 1.08)">0</text>
<line x1="279.66" y1="304.4" x2="279.66" y2="306.6" stroke="#333" stroke-width="1"/>
<text x="0" y="2.85" font-size="7.95" text-anchor="middle" fill="#111" stroke="#111" stroke-width="0.22" font-weight="bold" transform="translate(279.66 312) scale(1 1.08)">5</text>
<line x1="299.02" y1="304.4" x2="299.02" y2="306.6" stroke="#333" stroke-width="1"/>
<text x="0" y="2.85" font-size="7.95" text-anchor="middle" fill="#111" stroke="#111" stroke-width="0.22" font-weight="bold" transform="translate(299.02 312) scale(1 1.08)">10</text>
<line x1="318.38" y1="304.4" x2="318.38" y2="306.6" stroke="#333" stroke-width="1"/>
<text x="0" y="2.85" font-size="7.95" text-anchor="middle" fill="#111" stroke="#111" stroke-width="0.22" font-weight="bold" transform="translate(318.38 312) scale(1 1.08)">15</text>
<line x1="337.74" y1="304.4" x2="337.74" y2="306.6" stroke="#333" stroke-width="1"/>
<text x="0" y="2.85" font-size="7.95" text-anchor="middle" fill="#111" stroke="#111" stroke-width="0.22" font-weight="bold" transform="translate(337.74 312) scale(1 1.08)">20</text>
<line x1="357.1" y1="304.4" x2="357.1" y2="306.6" stroke="#333" stroke-width="1"/>
<text x="0" y="2.85" font-size="7.95" text-anchor="middle" fill="#111" stroke="#111" stroke-width="0.22" font-weight="bold" transform="translate(357.1 312) scale(1 1.08)">25</text>
<line x1="376.46" y1="304.4" x2="376.46" y2="306.6" stroke="#333" stroke-width="1"/>
<text x="0" y="2.85" font-size="7.95" text-anchor="middle" fill="#111" stroke="#111" stroke-width="0.22" font-weight="bold" transform="translate(376.46 312) scale(1 1.08)">30</text>
<line x1="395.82" y1="304.4" x2="395.82" y2="306.6" stroke="#333" stroke-width="1"/>
<text x="0" y="2.85" font-size="7.95" text-anchor="middle" fill="#111" stroke="#111" stroke-width="0.22" font-weight="bold" transform="translate(395.82 312) scale(1 1.08)">35</text>
<line x1="415.18" y1="304.4" x2="415.18" y2="306.6" stroke="#333" stroke-width="1"/>
<text x="0" y="2.85" font-size="7.95" text-anchor="middle" fill="#111" stroke="#111" stroke-width="0.22" font-weight="bold" transform="translate(415.18 312) scale(1 1.08)">40</text>
<line x1="269.98" y1="304.4" x2="269.98" y2="305.8" stroke="#333" stroke-width="1"/>
<line x1="289.34" y1="304.4" x2="289.34" y2="305.8" stroke="#333" stroke-width="1"/>
<line x1="308.7" y1="304.4" x2="308.7" y2="305.8" stroke="#333" stroke-width="1"/>
<line x1="328.06" y1="304.4" x2="328.06" y2="305.8" stroke="#333" stroke-width="1"/>
<line x1="347.42" y1="304.4" x2="347.42" y2="305.8" stroke="#333" stroke-width="1"/>
<line x1="366.78" y1="304.4" x2="366.78" y2="305.8" stroke="#333" stroke-width="1"/>
<line x1="386.14" y1="304.4" x2="386.14" y2="305.8" stroke="#333" stroke-width="1"/>
<line x1="405.5" y1="304.4" x2="405.5" y2="305.8" stroke="#333" stroke-width="1"/>
<line x1="258.1" y1="304.4" x2="260.3" y2="304.4" stroke="#333" stroke-width="1"/>
<text x="0" y="2.85" font-size="7.95" text-anchor="end" fill="#111" stroke="#111" stroke-width="0.22" font-weight="bold" transform="translate(256.1 304.4) scale(1 1.08)">0</text>
<line x1="258.1" y1="262.8" x2="260.3" y2="262.8" stroke="#333" stroke-width="1"/>
<text x="0" y="2.85" font-size="7.95" text-anchor="end" fill="#111" stroke="#111" stroke-width="0.22" font-weight="bold" transform="translate(256.1 262.8) scale(1 1.08)">100</text>
<line x1="258.1" y1="221.2" x2="260.3" y2="221.2" stroke="#333" stroke-width="1"/>
<text x="0" y="2.85" font-size="7.95" text-anchor="end" fill="#111" stroke="#111" stroke-width="0.22" font-weight="bold" transform="translate(256.1 221.2) scale(1 1.08)">200</text>
<line x1="258.1" y1="179.6" x2="260.3" y2="179.6" stroke="#333" stroke-width="1"/>
<text x="0" y="2.85" font-size="7.95" text-anchor="end" fill="#111" stroke="#111" stroke-width="0.22" font-weight="bold" transform="translate(256.1 179.6) scale(1 1.08)">300</text>
<line x1="258.9" y1="283.6" x2="260.3" y2="283.6" stroke="#333" stroke-width="1"/>
<line x1="258.9" y1="242" x2="260.3" y2="242" stroke="#333" stroke-width="1"/>
<line x1="258.9" y1="200.4" x2="260.3" y2="200.4" stroke="#333" stroke-width="1"/>
<polyline points="261,304.4 261.43,303.2 262.04,301.57 262.76,299.62 263.53,297.48 264.28,295.29 264.95,293.17 265.53,291.07 266.08,288.88 266.61,286.64 267.14,284.37 267.69,282.1 268.28,279.86 268.89,277.61 269.51,275.33 270.15,273.04 270.82,270.8 271.52,268.62 272.26,266.54 273.01,264.68 273.74,263.02 274.51,261.42 275.36,259.76 276.35,257.91 277.53,255.73 278.94,253.18 280.55,250.35 282.3,247.33 284.13,244.19 285.98,241 287.79,237.84 289.63,234.57 291.55,231.1 293.49,227.59 295.39,224.18 297.19,221.03 298.83,218.29 300.3,215.95 301.67,213.89 302.94,212.09 304.11,210.53 305.2,209.19 306.22,208.05 307.07,207.24 307.73,206.77 308.31,206.53 308.91,206.37 309.65,206.18 310.64,205.81 311.98,205.22 313.63,204.52 315.41,203.77 317.17,203.06 318.73,202.46 319.93,202.06 320.73,201.82 321.24,201.65 321.56,201.6 321.77,201.69 321.97,201.98 322.25,202.48 322.61,203.36 322.96,204.61 323.31,206.04 323.62,207.47 323.88,208.71 324.07,209.55" fill="none" stroke="#4d4d4d" stroke-width="1" stroke-linejoin="round" stroke-linecap="round"/>
<polyline points="263.01,304.4 263.32,303.37 263.64,302.1 264.08,300.53 264.71,298.56 265.64,296.13 266.96,293.17 268.76,289.41 270.98,284.86 273.5,279.86 276.18,274.71 278.9,269.75 281.52,265.3 284.16,261.23 286.96,257.27 289.78,253.49 292.53,249.98 295.1,246.82 297.36,244.08 299.22,241.83 300.76,240.03 302.11,238.57 303.4,237.36 304.78,236.32 306.38,235.34 308.25,234.46 310.29,233.76 312.42,233.21 314.54,232.82 316.56,232.56 318.38,232.43 319.99,232.44 321.45,232.59 322.82,232.87 324.12,233.29 325.42,233.84 326.74,234.51 328.11,235.36 329.48,236.39 330.84,237.55 332.17,238.78 333.44,240.01 334.64,241.17 335.82,242.35 336.99,243.63 338.12,244.91 339.13,246.1 339.98,247.1 340.61,247.82" fill="none" stroke="#a86ce6" stroke-width="1" stroke-linejoin="round" stroke-linecap="round"/>
<polyline points="263.01,303.69 263.49,302.69 264.08,301.41 264.82,299.85 265.74,297.97 266.88,295.75 268.28,293.17 269.95,290.18 271.86,286.8 273.99,283.09 276.32,279.09 278.84,274.87 281.52,270.5 284.52,265.69 287.87,260.35 291.42,254.79 294.96,249.33 298.33,244.26 301.34,239.92 303.99,236.32 306.41,233.23 308.66,230.54 310.78,228.16 312.82,225.98 314.82,223.9 316.77,221.95 318.62,220.22 320.39,218.68 322.1,217.34 323.74,216.19 325.35,215.21 326.91,214.4 328.43,213.78 329.89,213.34 331.29,213.09 332.61,213.05 333.87,213.21 335.05,213.62 336.17,214.28 337.22,215.14 338.19,216.16 339.09,217.3 339.91,218.5 340.65,219.93 341.32,221.66 341.91,223.51 342.42,225.28 342.84,226.79 343.16,227.86" fill="none" stroke="#f24a4a" stroke-width="1" stroke-linejoin="round" stroke-linecap="round"/>
<polyline points="261.58,304.4 262.23,303.07 263.07,301.36 264.1,299.28 265.31,296.8 266.7,293.94 268.28,290.67 270.11,286.79 272.23,282.24 274.53,277.31 276.91,272.24 279.27,267.32 281.52,262.8 283.64,258.65 285.72,254.66 287.79,250.81 289.85,247.08 291.95,243.45 294.1,239.92 296.31,236.54 298.56,233.32 300.84,230.21 303.14,227.15 305.44,224.07 307.73,220.91 310.1,217.5 312.57,213.87 315.05,210.22 317.42,206.76 319.6,203.69 321.48,201.23 322.92,199.52 323.98,198.41 324.84,197.71 325.69,197.18 326.7,196.63 328.06,195.82 329.87,194.66 332,193.29 334.29,191.89 336.6,190.64 338.75,189.71 340.61,189.29 342.17,189.5 343.57,190.22 344.82,191.27 345.94,192.46 346.93,193.62 347.81,194.58 348.54,195.32 349.12,195.98 349.57,196.62 349.93,197.27 350.24,197.96 350.52,198.74 350.75,199.68 350.91,200.77 351.02,201.91 351.08,202.99 351.13,203.91 351.18,204.56" fill="none" stroke="#2c7ee6" stroke-width="1" stroke-linejoin="round" stroke-linecap="round"/>
<polyline points="263.01,304.4 263.52,303.2 264.24,301.57 265.09,299.62 265.98,297.48 266.84,295.29 267.58,293.17 268.2,291.07 268.77,288.88 269.3,286.64 269.82,284.37 270.33,282.1 270.87,279.86 271.41,277.6 271.92,275.31 272.43,273.02 272.97,270.77 273.56,268.59 274.24,266.54 274.99,264.71 275.79,263.08 276.65,261.53 277.56,259.93 278.52,258.18 279.54,256.14 280.63,253.7 281.77,250.94 282.97,248.01 284.22,245.08 285.5,242.33 286.82,239.92 288.15,237.97 289.49,236.38 290.87,234.95 292.32,233.53 293.86,231.91 295.54,229.94 297.35,227.47 299.29,224.64 301.32,221.62 303.42,218.6 305.57,215.76 307.73,213.3 310.02,211.18 312.46,209.25 314.96,207.51 317.37,205.95 319.58,204.55 321.48,203.31 322.91,202.28 323.96,201.46 324.81,200.82 325.64,200.28 326.66,199.8 328.06,199.32 329.89,198.81 332,198.31 334.3,197.86 336.68,197.52 339.02,197.33 341.22,197.32 343.36,197.56 345.51,198.03 347.64,198.63 349.67,199.32 351.55,200 353.23,200.61 354.66,201.1 355.9,201.52 356.98,201.95 357.96,202.44 358.89,203.06 359.81,203.89 360.75,205.07 361.67,206.55 362.55,208.18 363.32,209.75 363.97,211.1 364.46,212.05" fill="none" stroke="#45ad6a" stroke-width="1" stroke-linejoin="round" stroke-linecap="round"/>
<line x1="320.1" y1="256.3" x2="334.5" y2="256.3" stroke="#4d4d4d" stroke-width="1.3"/>
<text x="0" y="2.7" font-size="7.55" text-anchor="start" fill="#1a1a1a" stroke="#1a1a1a" stroke-width="0.22" font-weight="bold" transform="translate(336.9 256.3) scale(1 1.08)">AZ91D</text>
<line x1="320.1" y1="266.63" x2="334.5" y2="266.63" stroke="#a86ce6" stroke-width="1.3"/>
<text x="0" y="2.7" font-size="7.55" text-anchor="start" fill="#1a1a1a" stroke="#1a1a1a" stroke-width="0.22" font-weight="bold" transform="translate(336.9 266.63) scale(1 1.08)">PG/AZ91D</text>
<line x1="320.1" y1="276.96" x2="334.5" y2="276.96" stroke="#f24a4a" stroke-width="1.3"/>
<text x="0" y="2.7" font-size="7.55" text-anchor="start" fill="#1a1a1a" stroke="#1a1a1a" stroke-width="0.22" font-weight="bold" transform="translate(336.9 276.96) scale(1 1.08)">PG@PyC-60/AZ91D</text>
<line x1="320.1" y1="287.29" x2="334.5" y2="287.29" stroke="#2c7ee6" stroke-width="1.3"/>
<text x="0" y="2.7" font-size="7.55" text-anchor="start" fill="#1a1a1a" stroke="#1a1a1a" stroke-width="0.22" font-weight="bold" transform="translate(336.9 287.29) scale(1 1.08)">PG@PyC-90/AZ91D</text>
<line x1="320.1" y1="297.62" x2="334.5" y2="297.62" stroke="#45ad6a" stroke-width="1.3"/>
<text x="0" y="2.7" font-size="7.55" text-anchor="start" fill="#1a1a1a" stroke="#1a1a1a" stroke-width="0.22" font-weight="bold" transform="translate(336.9 297.62) scale(1 1.08)">PG@PyC-120/AZ91D</text>
<rect x="260.3" y="179.6" width="154.9" height="124.8" fill="none" stroke="#3d3d3d" stroke-width="1.1"/>
<text x="0" y="3.76" font-size="10.5" text-anchor="middle" fill="#111" stroke="#111" stroke-width="0.22" font-weight="bold" transform="translate(337.75 325) scale(1 1.08)">Strain (%)</text>
<text x="0" y="3.76" font-size="10.5" text-anchor="middle" fill="#111" stroke="#111" stroke-width="0.22" font-weight="bold" transform="translate(236 242) rotate(-90)">Compressive stress (MPa)</text>
<text x="3.6" y="353.8" font-size="13.6" font-weight="bold" fill="#000" stroke="#000" stroke-width="0.15">g</text>
<line x1="34.1" y1="485.7" x2="34.1" y2="487.9" stroke="#333" stroke-width="1"/>
<text x="0" y="2.85" font-size="7.95" text-anchor="middle" fill="#111" stroke="#111" stroke-width="0.22" font-weight="bold" transform="translate(34.1 493.3) scale(1 1.08)">0</text>
<line x1="72.5" y1="485.7" x2="72.5" y2="487.9" stroke="#333" stroke-width="1"/>
<text x="0" y="2.85" font-size="7.95" text-anchor="middle" fill="#111" stroke="#111" stroke-width="0.22" font-weight="bold" transform="translate(72.5 493.3) scale(1 1.08)">2</text>
<line x1="110.9" y1="485.7" x2="110.9" y2="487.9" stroke="#333" stroke-width="1"/>
<text x="0" y="2.85" font-size="7.95" text-anchor="middle" fill="#111" stroke="#111" stroke-width="0.22" font-weight="bold" transform="translate(110.9 493.3) scale(1 1.08)">4</text>
<line x1="149.3" y1="485.7" x2="149.3" y2="487.9" stroke="#333" stroke-width="1"/>
<text x="0" y="2.85" font-size="7.95" text-anchor="middle" fill="#111" stroke="#111" stroke-width="0.22" font-weight="bold" transform="translate(149.3 493.3) scale(1 1.08)">6</text>
<line x1="187.7" y1="485.7" x2="187.7" y2="487.9" stroke="#333" stroke-width="1"/>
<text x="0" y="2.85" font-size="7.95" text-anchor="middle" fill="#111" stroke="#111" stroke-width="0.22" font-weight="bold" transform="translate(187.7 493.3) scale(1 1.08)">8</text>
<line x1="53.3" y1="485.7" x2="53.3" y2="487.1" stroke="#333" stroke-width="1"/>
<line x1="91.7" y1="485.7" x2="91.7" y2="487.1" stroke="#333" stroke-width="1"/>
<line x1="130.1" y1="485.7" x2="130.1" y2="487.1" stroke="#333" stroke-width="1"/>
<line x1="168.5" y1="485.7" x2="168.5" y2="487.1" stroke="#333" stroke-width="1"/>
<line x1="31.7" y1="485.7" x2="33.9" y2="485.7" stroke="#333" stroke-width="1"/>
<text x="0" y="2.85" font-size="7.95" text-anchor="end" fill="#111" stroke="#111" stroke-width="0.22" font-weight="bold" transform="translate(29.7 485.7) scale(1 1.08)">0</text>
<line x1="31.7" y1="460.86" x2="33.9" y2="460.86" stroke="#333" stroke-width="1"/>
<text x="0" y="2.85" font-size="7.95" text-anchor="end" fill="#111" stroke="#111" stroke-width="0.22" font-weight="bold" transform="translate(29.7 460.86) scale(1 1.08)">50</text>
<line x1="31.7" y1="436.02" x2="33.9" y2="436.02" stroke="#333" stroke-width="1"/>
<text x="0" y="2.85" font-size="7.95" text-anchor="end" fill="#111" stroke="#111" stroke-width="0.22" font-weight="bold" transform="translate(29.7 436.02) scale(1 1.08)">100</text>
<line x1="31.7" y1="411.18" x2="33.9" y2="411.18" stroke="#333" stroke-width="1"/>
<text x="0" y="2.85" font-size="7.95" text-anchor="end" fill="#111" stroke="#111" stroke-width="0.22" font-weight="bold" transform="translate(29.7 411.18) scale(1 1.08)">150</text>
<line x1="31.7" y1="386.34" x2="33.9" y2="386.34" stroke="#333" stroke-width="1"/>
<text x="0" y="2.85" font-size="7.95" text-anchor="end" fill="#111" stroke="#111" stroke-width="0.22" font-weight="bold" transform="translate(29.7 386.34) scale(1 1.08)">200</text>
<line x1="31.7" y1="361.5" x2="33.9" y2="361.5" stroke="#333" stroke-width="1"/>
<text x="0" y="2.85" font-size="7.95" text-anchor="end" fill="#111" stroke="#111" stroke-width="0.22" font-weight="bold" transform="translate(29.7 361.5) scale(1 1.08)">250</text>
<line x1="32.5" y1="473.28" x2="33.9" y2="473.28" stroke="#333" stroke-width="1"/>
<line x1="32.5" y1="448.44" x2="33.9" y2="448.44" stroke="#333" stroke-width="1"/>
<line x1="32.5" y1="423.6" x2="33.9" y2="423.6" stroke="#333" stroke-width="1"/>
<line x1="32.5" y1="398.76" x2="33.9" y2="398.76" stroke="#333" stroke-width="1"/>
<line x1="32.5" y1="373.92" x2="33.9" y2="373.92" stroke="#333" stroke-width="1"/>
<polyline points="34.1,475.76 34.32,474.47 34.59,472.67 34.93,470.55 35.36,468.26 35.91,465.97 36.6,463.84 37.47,461.78 38.53,459.65 39.7,457.51 40.93,455.45 42.16,453.56 43.32,451.92 44.38,450.58 45.4,449.51 46.41,448.6 47.46,447.76 48.59,446.91 49.84,445.96 51.23,444.93 52.72,443.9 54.3,442.85 55.92,441.78 57.58,440.67 59.25,439.5 60.83,438.3 62.33,437.09 63.86,435.83 65.54,434.51 67.48,433.09 69.81,431.55 72.75,429.77 76.26,427.74 80.04,425.62 83.78,423.54 87.19,421.66 89.97,420.12 92,418.99 93.48,418.17 94.63,417.55 95.66,416.99 96.79,416.4 98.23,415.65 99.98,414.74 101.88,413.76 103.87,412.73 105.91,411.7 107.95,410.67 109.94,409.69 111.87,408.75 113.77,407.83 115.68,406.93 117.61,406.03 119.59,405.13 121.65,404.22 123.86,403.29 126.2,402.33 128.59,401.37 130.95,400.43 133.21,399.56 135.28,398.76 137.24,397.99 139.15,397.21 140.96,396.49 142.59,395.89 143.99,395.47 145.08,395.28 145.78,395.44 146.14,395.91 146.26,396.56 146.25,397.25 146.2,397.86 146.23,398.26" fill="none" stroke="#4d4d4d" stroke-width="1" stroke-linejoin="round" stroke-linecap="round"/>
<polyline points="34.1,465.83 34.35,464.24 34.69,461.98 35.1,459.34 35.56,456.59 36.06,454.02 36.6,451.92 37.16,450.27 37.78,448.84 38.43,447.6 39.13,446.49 39.86,445.46 40.63,444.47 41.43,443.54 42.28,442.72 43.16,441.98 44.08,441.3 45.03,440.65 46,439.99 47.06,439.31 48.21,438.6 49.39,437.93 50.54,437.32 51.61,436.84 52.53,436.52 53.29,436.38 53.94,436.4 54.5,436.53 55.01,436.75 55.49,437.02 55.99,437.31 56.51,437.68 57.04,438.17 57.55,438.7 58.01,439.23 58.39,439.68 58.68,439.99" fill="none" stroke="#a86ce6" stroke-width="1" stroke-linejoin="round" stroke-linecap="round"/>
<polyline points="34.1,469.31 34.5,468.62 35.04,467.71 35.68,466.62 36.4,465.38 37.17,464.02 37.94,462.6 38.73,461.01 39.58,459.21 40.46,457.3 41.38,455.39 42.34,453.56 43.32,451.92 44.3,450.46 45.3,449.1 46.33,447.83 47.41,446.65 48.58,445.53 49.84,444.47 51.2,443.48 52.62,442.59 54.13,441.76 55.72,440.99 57.43,440.24 59.25,439.5 61.18,438.8 63.21,438.17 65.34,437.57 67.59,436.96 69.97,436.29 72.5,435.52 75.21,434.64 78.11,433.66 81.14,432.64 84.25,431.59 87.41,430.55 90.55,429.56 93.87,428.58 97.45,427.56 101.07,426.55 104.51,425.61 107.54,424.77 109.94,424.1 111.62,423.57 112.73,423.14 113.43,422.82 113.89,422.62 114.28,422.55 114.74,422.61 115.25,422.88 115.66,423.38 116,424 116.27,424.65 116.48,425.21 116.66,425.59" fill="none" stroke="#f24a4a" stroke-width="1" stroke-linejoin="round" stroke-linecap="round"/>
<polyline points="34.1,485.2 34.52,483.64 35.09,481.49 35.77,478.93 36.5,476.17 37.24,473.39 37.94,470.8 38.59,468.35 39.22,465.9 39.86,463.44 40.52,460.95 41.22,458.44 41.97,455.89 42.78,453.23 43.62,450.43 44.5,447.6 45.42,444.85 46.37,442.28 47.35,439.99 48.3,438.14 49.22,436.66 50.17,435.36 51.22,434.04 52.43,432.5 53.88,430.56 55.56,428.15 57.44,425.43 59.48,422.5 61.66,419.45 63.96,416.37 66.36,413.37 68.95,410.31 71.78,407.1 74.73,403.86 77.68,400.73 80.49,397.83 83.06,395.28 85.31,393.16 87.33,391.36 89.23,389.8 91.1,388.36 93.04,386.94 95.16,385.45 97.48,383.84 99.94,382.22 102.48,380.61 105.03,379.08 107.53,377.66 109.94,376.4 112.31,375.31 114.7,374.35 117.06,373.5 119.3,372.76 121.36,372.13 123.19,371.59 124.77,371.16 126.16,370.85 127.38,370.64 128.43,370.52 129.33,370.46 130.1,370.44 130.68,370.48 131.06,370.58 131.29,370.75 131.42,370.98 131.52,371.26 131.64,371.59 131.75,372.02 131.81,372.57 131.83,373.17 131.83,373.76 131.82,374.26 131.83,374.62" fill="none" stroke="#2c7ee6" stroke-width="1" stroke-linejoin="round" stroke-linecap="round"/>
<polyline points="34.1,463.84 34.5,462.51 35.04,460.66 35.68,458.47 36.4,456.15 37.17,453.9 37.94,451.92 38.73,450.18 39.58,448.53 40.46,446.95 41.38,445.42 42.34,443.94 43.32,442.48 44.22,441.2 45.04,440.14 45.88,439.12 46.89,437.97 48.16,436.5 49.84,434.53 52.02,431.89 54.6,428.68 57.46,425.15 60.47,421.56 63.48,418.14 66.36,415.15 69.15,412.58 71.97,410.2 74.79,408.01 77.6,405.97 80.36,404.06 83.06,402.24 85.72,400.55 88.36,399.01 90.96,397.6 93.48,396.28 95.92,395.02 98.23,393.79 100.43,392.58 102.56,391.42 104.59,390.32 106.51,389.3 108.29,388.36 109.94,387.53 111.32,386.86 112.41,386.36 113.37,385.94 114.36,385.55 115.54,385.11 117.04,384.55 118.97,383.84 121.22,383.03 123.64,382.17 126.12,381.32 128.51,380.56 130.68,379.93 132.7,379.43 134.69,378.99 136.59,378.64 138.36,378.37 139.92,378.2 141.24,378.14 142.26,378.25 143.04,378.54 143.62,378.93 144.06,379.34 144.4,379.7 144.69,379.93" fill="none" stroke="#45ad6a" stroke-width="1" stroke-linejoin="round" stroke-linecap="round"/>
<line x1="88.1" y1="438.4" x2="102.5" y2="438.4" stroke="#4d4d4d" stroke-width="1.3"/>
<text x="0" y="2.7" font-size="7.55" text-anchor="start" fill="#1a1a1a" stroke="#1a1a1a" stroke-width="0.22" font-weight="bold" transform="translate(104.9 438.4) scale(1 1.08)">AZ91D</text>
<line x1="88.1" y1="448.73" x2="102.5" y2="448.73" stroke="#a86ce6" stroke-width="1.3"/>
<text x="0" y="2.7" font-size="7.55" text-anchor="start" fill="#1a1a1a" stroke="#1a1a1a" stroke-width="0.22" font-weight="bold" transform="translate(104.9 448.73) scale(1 1.08)">PG/AZ91D</text>
<line x1="88.1" y1="459.06" x2="102.5" y2="459.06" stroke="#f24a4a" stroke-width="1.3"/>
<text x="0" y="2.7" font-size="7.55" text-anchor="start" fill="#1a1a1a" stroke="#1a1a1a" stroke-width="0.22" font-weight="bold" transform="translate(104.9 459.06) scale(1 1.08)">PG@PyC-60/AZ91D</text>
<line x1="88.1" y1="469.39" x2="102.5" y2="469.39" stroke="#2c7ee6" stroke-width="1.3"/>
<text x="0" y="2.7" font-size="7.55" text-anchor="start" fill="#1a1a1a" stroke="#1a1a1a" stroke-width="0.22" font-weight="bold" transform="translate(104.9 469.39) scale(1 1.08)">PG@PyC-90/AZ91D</text>
<line x1="88.1" y1="479.72" x2="102.5" y2="479.72" stroke="#45ad6a" stroke-width="1.3"/>
<text x="0" y="2.7" font-size="7.55" text-anchor="start" fill="#1a1a1a" stroke="#1a1a1a" stroke-width="0.22" font-weight="bold" transform="translate(104.9 479.72) scale(1 1.08)">PG@PyC-120/AZ91D</text>
<rect x="33.9" y="361.5" width="154.4" height="124.2" fill="none" stroke="#3d3d3d" stroke-width="1.1"/>
<text x="0" y="3.76" font-size="10.5" text-anchor="middle" fill="#111" stroke="#111" stroke-width="0.22" font-weight="bold" transform="translate(111.1 505.3) scale(1 1.08)">Strain (%)</text>
<text x="0" y="3.76" font-size="10.5" text-anchor="middle" fill="#111" stroke="#111" stroke-width="0.22" font-weight="bold" transform="translate(9 423.6) rotate(-90)">Tensile stress (MPa)</text>
<rect x="455.7" y="337.4" width="228" height="188.6" rx="23" ry="19" fill="none" stroke="#3b79bf" stroke-width="1.6" stroke-dasharray="5.9 4.7" stroke-dashoffset="5.9"/>
<text x="468" y="353.2" font-size="13.6" font-weight="bold" fill="#000" stroke="#000" stroke-width="0.15">i</text>
<text x="0" y="3.72" font-size="10.4" text-anchor="start" fill="#e81a1a" stroke="#e81a1a" stroke-width="0.22" font-weight="bold" transform="translate(528.4 345.2) scale(1 1.08)">Indentation force</text>
<defs>
<radialGradient id="shad" cx="0.5" cy="0.5" r="0.5"><stop offset="0" stop-color="#c4c4c4"/><stop offset="1" stop-color="#e5e5e5" stop-opacity="0"/></radialGradient>
<linearGradient id="mgo" x1="0" x2="0" y1="0" y2="1"><stop offset="0" stop-color="#8ad8ff"/><stop offset="0.45" stop-color="#38b0f2"/><stop offset="1" stop-color="#1a88d6"/></linearGradient>
<linearGradient id="tipband" x1="0" x2="1" y1="0" y2="0"><stop offset="0" stop-color="#9c9c9c"/><stop offset="0.5" stop-color="#b4b4b4"/><stop offset="1" stop-color="#c8c8c8"/></linearGradient>
<filter id="blur1" x="-50%" y="-50%" width="200%" height="200%"><feGaussianBlur stdDeviation="2.5"/></filter>
</defs>
<rect x="493.6" y="380.3" width="152.7" height="88.7" fill="#e5e5e5" stroke="#4b5574" stroke-width="1.1"/>
<ellipse cx="531" cy="403" rx="11" ry="7" fill="#c9c9c9" filter="url(#blur1)"/>
<ellipse cx="562" cy="402" rx="9" ry="6" fill="#d0d0d0" filter="url(#blur1)"/>
<polygon points="562.3,351.6 574,351.6 574,359.6 579.1,359.6 568.2,366.9 558,359.6 562.3,359.6" fill="#c40000"/>
<polygon points="524.4,367.6 613.4,367.6 568.9,394.6" fill="url(#tipband)"/>
<polygon points="524.4,367.6 613.4,367.6 568.9,388.8" fill="#808080"/>
<line x1="526" y1="367.8" x2="612" y2="367.8" stroke="#9a9a9a" stroke-width="0.8"/>
<text x="0" y="3.65" font-size="10.2" text-anchor="start" fill="#0a0a0a" stroke="#0a0a0a" stroke-width="0.22" font-weight="bold" transform="translate(617.6 369.3) scale(1 1.08)">Diamond tip</text>
<path d="M493.8,402 C498,405 503,408 508,411" fill="none" stroke="#7b3fba" stroke-width="0.9"/>
<path d="M549.4,427.9 C553,429.5 557,432.5 559.9,436.4 C563,441 566,450 568.5,458.1 C569.5,462 570,466 570.4,468.6" fill="none" stroke="#7b3fba" stroke-width="1"/>
<path d="M559.9,436.4 L569.8,431.8" fill="none" stroke="#7b3fba" stroke-width="1"/>
<path d="M623,392 C627,395 630,397 636,395 C640,393 643,388 646,382.5" fill="none" stroke="#7b3fba" stroke-width="0.9"/>
<path d="M494,411 L501.7,414.3 L513.4,417.8 L525,421.3 L536.7,426 L546.1,429.5 L555.4,427.1 L560,424.9 L565.3,421 L566,423.5 L561,427 L555,430 L546,432 L536,428.5 L525,424 L513,420.5 L501,417 L493.5,413.5 Z" fill="#e3a030" opacity="0.75"/>
<path d="M526.3,422.76h0.7M539.17,427.65h0.7M507.29,416.08h0.7M531.14,424.45h0.7M529.73,424.91h0.7M502.05,416.17h0.7M508.93,416.67h0.7M520.45,420.52h0.7M547.11,430.75h0.7M498.49,415.8h0.7M544.32,431.22h0.7M546.93,429.9h0.7M551.01,430.22h0.7M551.93,430.2h0.7M554.19,428.82h0.7M545.06,430.95h0.7M494.89,413.85h0.7M513.25,418.26h0.7M538.05,426.88h0.7M561.11,426.17h0.7M557.25,427.73h0.7M533.4,427.13h0.7M530.95,426.19h0.7M516.1,419.01h0.7M554.78,429.91h0.7M552.64,429.91h0.7M542.97,430.14h0.7M529.95,425.4h0.7M517.19,420.81h0.7M558.26,427.84h0.7M544.59,429.08h0.7M518.27,420.85h0.7M512.11,419.43h0.7M497.16,415.1h0.7M563.62,422.93h0.7M536.82,426.94h0.7M496.36,412.28h0.7M513.14,419.93h0.7M520.56,421.05h0.7M508.77,418.22h0.7M498.89,413.52h0.7M547.59,430.34h0.7M516.53,419.39h0.7M511.5,418.6h0.7M563.57,424.68h0.7M546.94,429.88h0.7M555.38,427.92h0.7M553.95,429.66h0.7M562.94,424.45h0.7M531.48,425.91h0.7M496.14,413.28h0.7M506.91,416.9h0.7M554.85,428.26h0.7M562.77,423.32h0.7M520.76,422.34h0.7M500.03,415.76h0.7M530.59,424.59h0.7M519.06,421.51h0.7M565.04,421.84h0.7M499.53,416.14h0.7M535.3,425.64h0.7M519.69,420.72h0.7M563.05,423.6h0.7" stroke="#f0b030" stroke-width="0.7" fill="none"/>
<path d="M494.7,410.4 L496,409.26 L497.87,407.61 L499.91,405.87 L501.7,404.5 L503.12,403.6 L504.39,402.94 L505.64,402.44 L507,402 L508.54,401.62 L510.18,401.34 L511.83,401.14 L513.4,401 L514.85,400.9 L516.22,400.86 L517.59,400.89 L519,401 L520.5,401.18 L522.04,401.42 L523.56,401.76 L525,402.2 L526.28,402.78 L527.46,403.49 L528.65,404.25 L530,405 L531.44,405.72 L532.93,406.46 L534.63,407.21 L536.7,408 L539.37,408.91 L542.49,409.91 L545.65,410.82 L548.4,411.5 L550.67,411.83 L552.67,411.93 L554.44,411.93 L556,412 L557.29,412.12 L558.31,412.24 L559.2,412.41 L560.1,412.7 L561.07,413.08 L562.03,413.52 L562.9,414.13 L563.6,415 L564.2,416.28 L564.72,417.87 L564.98,419.5 L564.8,420.9 L564.02,421.99 L562.76,422.93 L561.33,423.75 L560,424.5 L558.95,425.14 L557.98,425.68 L556.88,426.17 L555.4,426.7 L553.41,427.42 L551.05,428.26 L548.54,428.91 L546.1,429.1 L543.81,428.67 L541.55,427.79 L539.21,426.7 L536.7,425.6 L533.93,424.48 L530.99,423.25 L527.97,422.02 L525,420.9 L522.1,419.94 L519.2,419.07 L516.3,418.25 L513.4,417.4 L510.34,416.49 L507.18,415.55 L504.21,414.66 L501.7,413.9 L499.72,413.27 L498.12,412.73 L496.88,412.3 L496,412 Z" fill="#6066d8" opacity="0.85"/>
<path d="M548.35,422.63l0.07,1.59M554.14,425.74l0.31,1.05M531.62,415.8l0.32,1.48M516.82,401.65l-0.98,1.15M546.48,417.99l-0.69,0.68M502.67,413.45l-0.01,1.06M531.64,407.2l0.6,0.87M510.71,402.06l-1.51,0.43M541.7,426.08l0.35,1.38M511.29,409.01l0.4,0.64M558.24,424.54l0.32,0.97M515.9,415l-1.55,0.33M527.78,406.22l0.92,1.22M527.77,405.17l-1.48,0.59M543.88,428.23l0.13,0.76M509.8,409.25l-0.54,0.69M506.75,407.09l-0.7,1.23M557.47,417.76l0.73,0.64M560.52,420.08l0.82,0.97M525.45,415.9l-0.07,0.74M536.94,408.56l1,1.01M499.98,408.58l-0.66,0.64M513.82,416.5l1.26,0.83M529.74,405.41l-0.22,1.26M550.15,415.55l-0.03,1.46M543.04,415.67l-0.85,0.13M550.41,423.81l0.84,0.77M536.73,421.51l-0.34,1.45M506.68,404.57l1.14,0.06M525.04,413.29l0.96,1.04M534.72,416.35l-0.73,0.56M504.24,409.36l0.97,0.13M538.49,415.82l0.83,0.91M506.07,407.67l1.16,0.64M553.61,423.68l1.05,0.2M519.97,406.51l-0.73,0.07M522.03,408.97l0.18,0.75M548.73,422.1l0.7,0.61M533.49,407.27l0.19,1.53M519.94,410.15l-1.25,0.07M496.56,412.13l-0.34,0.67M556.02,417.78l-1.05,0.39M509.23,410.46l1,0.65M505.51,406.13l0.88,0.7M515.95,413.46l-1.31,0.03M521.31,402.19l-0.58,0.85M506.83,407.9l0.51,1.45M519.74,404.62l-1,0.2M548.91,421.78l-0.69,0.21M516.92,411.57l1.44,0.39M522.11,407.17l0.83,0.11M516.22,412.76l-0.11,0.81M546.01,420.05l0.79,0.39M522.92,411.63l-0.82,0.37M514.76,410.38l0.57,0.46M534.5,424.34l-0.97,0.07M542.04,427.66l1.03,0.83M524.54,411.81l1.03,0.2M517.36,414.96l0.54,0.65M522.72,414.3l1.12,0.65M510.99,402.8l0.51,0.95M544.27,416.65l-0.42,0.58M521.92,410.97l1.04,0.21M535.94,414.12l0.48,0.79M495.4,410.45l-1.14,0.4M507.11,414.12l-0.55,1.46M519.85,417.34l-1.37,0.25M538.93,418.69l0.3,1.03M515.95,410.85l-0.83,0.06M507.58,406.88l-0.49,0.77M522.1,407.2l0.03,1.28M533.22,418.79l-0.27,1.42M543.84,420.67l-1.43,0.16M529.08,416.97l0.38,0.88M547.7,416.07l0.68,0.63M517.13,405.35l-0.04,0.81M501.83,413.59l-0.85,0.74M512.01,415.27l-0.84,0.63M554.46,424.94l-0.23,1.05M544.67,418.75l-1.23,0.72M502.73,411.35l-0.46,0.78M543.28,412.62l-0.42,0.97M532.82,414.54l0.38,0.9M551.41,425.24l0.66,0.82M538.24,423.04l-1.05,0.06M543.74,416.43l-0.67,0.49M506.32,403.22l-0.91,0.19M510.11,414.51l0.38,0.85M528.61,412.48l-0.87,0.6M541.06,418.75l1,1.18M516.05,415.48l0.89,0.03M550.82,422.14l0.44,1.35M553.37,423.11l-0.79,0.03M521.7,411.12l-0.68,1.26M519.99,419.2l0.42,0.85M500.49,410.08l-0.61,0.65M547.28,416.44l-0.46,0.73M518.96,412.97l1.15,0.03M522.78,409.68l-0.18,1.55M509.54,412.29l-0.52,0.69M506.93,410.75l-0.83,0.03M539.46,411.38l-0.39,0.8M555.44,418.92l-0.02,1.21M543.44,413.64l-0.54,0.94M521.43,406.92l-0.38,1.16M538.93,413.45l-0.36,1.18M529.11,407.05l-1.13,0.62M551.21,415.4l-0.76,0.02M556.43,421.42l1.01,1.01M526.44,416.14l-0.8,0.36M550.45,414.77l1.03,0.98M555.35,423.2l-0.23,1.5M520.08,403.02l1,0.12M556.06,425.1l0.81,0.31M556.9,421.9l1.06,0.76M518.18,409.49l-0.38,0.87M537.18,420.92l0.69,0.44M543.72,414.04l0.74,0.32M561.55,418.36l0.38,0.79M516.07,412.29l1.14,0.56M523.19,413.75l-0.03,1.55M542.49,413.69l-1.03,0.22M547.29,418.1l0.12,0.75M523.92,408.47l0.29,1.53M523.37,403.98l-0.88,0.3M524.03,410.28l-1.24,0.78M536.29,416.43l1.43,0.46M500.07,410.94l0.52,1.25M541.95,410.35l-1.48,0.49M527.53,410.89l0.11,0.98M542.07,418.23l-1.57,0.15M553.45,419.56l-0.94,1.29M522.63,419.75l1.23,1.01M508.8,411.13l0.95,0.46M538.62,422.34l1,1.02M546.4,423.36l1.04,0.41M495.44,410.57l-0.13,1.17M515.44,415.27l1.12,0.46M530.63,408.85l-0.71,0.59M509.39,413.6l-0.2,1.09M563.66,415.8l0.36,1.2M546.65,421.45l1.04,0.56M540.06,425.51l1.06,0.15M499.35,407.85l1.43,0.53M517.41,414.72l-0.7,1.33M561.94,417.09l-0,1.51M522.14,409.01l-0.64,0.68M520.22,412.92l0.07,1.02M524.74,413.57l1.43,0.23M533.18,412.03l0.6,0.51M520.52,409.46l0.05,0.91M547.74,414.67l1.07,0.03M520.06,418l0.39,0.89M537.62,417.74l0.63,0.96M530.92,422.69l0.77,0.13M511.87,408.13l-0.87,0.65M555.71,412.11l0.82,1.03M550.54,419.33l1.37,0.25M561.07,422.66l-0.17,0.68M546.83,412.59l-0.85,1.34M550.04,413.26l-0.74,0.73M525.98,413.15l0.92,0.36M541.74,416.5l0.76,0.28M508.92,412.49l-0.17,1.45M524.84,411.36l-0.8,1.31M529.29,420.76l0.48,1.31M508.27,410.42l0.88,0.5M536.34,415.65l0.42,1.14M535.79,414.46l-0.99,0.06M535.16,407.74l1.41,0.29M524.9,418.59l-0.29,1.55M559.28,413.72l0.04,0.91M534.66,416.6l0.42,0.72M562.25,423.02l-0.65,0.45M548.85,417.53l-1.46,0.48M543.4,410.96l-1.33,0.21M532.43,407.63l0.56,0.74M513.36,408.58l0.75,0.89M555.68,425.73l-0.4,1.12M546.62,416.09l-0.74,1.34M510.53,413.63l0.54,1.25M561.74,415.22l-0.21,0.99M564.56,420.62l-1.26,0.62M531.68,410.66l0,0.88M544.53,412.56l0.03,0.77M528.81,416.78l-1.2,0.1M503.43,409.04l0.66,1.16M536.29,420.64l-0.43,1.17M553.52,420.72l-0.08,1.22M548.31,424.31l0.76,0M553.79,412.27l0.5,0.88M531.63,410.09l-0.58,0.95M506.37,404.51l0.79,0.81M512.46,415.73l1.04,1.07M507,406.99l0.58,0.81M546.08,420.29l-0.94,0.73M511.32,406.56l0.42,1.53M520.43,410.73l-1.53,0.44M521.61,404.08l-1.11,0.86M521.06,408.64l-0.4,1.31M521.13,401.96l-0.8,0.22M557.33,421.87l-1.09,0.18M520.54,403.62l1.01,1.17M518.76,401.48l0.49,0.71M532.66,417.09l-0.86,0.8M509.77,402.31l0.78,1.14M560.33,415.16l0.87,0.48M534.68,408.86l-1.25,0.95M526.85,418.15l-0.99,0.52M548.69,412.06l0.84,0.14M529.69,419.65l0.09,0.86M538.31,411.12l0.11,1.26M516.56,410.73l-1.14,0.44M523.76,416.26l0.12,0.99M514.51,405.15l-0.59,0.7M518.73,416.84l0.01,1.53M530.77,411.41l1.15,0.01M513.1,417.28l-0.45,1.02M528.44,419.3l-0.95,0.09M525.62,402.55l-0.74,0.54M553.48,424.02l1.05,1.09M530.03,412.83l-0.27,1.53M529.02,414.51l0.89,1.15M529.97,410.31l0.73,0.52M553.84,424.18l-1.52,0.1M543.1,424l-0.88,1.12M560.93,419.39l1.27,0.26M556.26,423.14l-1.16,0.93M539.78,414.81l0.36,0.95M540.83,423.34l-0.67,0.95M516.48,408.21l1.07,0.71M543.18,428.36l0.78,1.32M562.34,418.64l-1.39,0.16M517.73,408.41l-0.08,1.14M532.31,414.24l-0.64,0.66M511.1,409.86l0.73,0.16M519.32,415.86l-1.26,0.2M523.58,412.24l0.83,0.76M524.92,420.64l-0.88,0.81M549,419.5l-0.67,0.89M524.88,403.21l0.12,1.55M498.82,408.11l-0.63,0.9M502.92,412.81l-0.31,1.33M522.76,419.55l-0.68,1.06M498.95,411.77l0.08,0.79M528.79,417.69l0.87,1.33M502.35,409.16l1.14,0.95M530.39,412.35l0.47,1.42M544.75,413.5l0.45,1M526.36,409.5l-0.41,0.99M526.51,414.25l-1.03,0.41M545.9,428.59l-0.61,1.15M525.07,419.67l1.06,0.91M552.91,425.2l0.41,1.16M545.04,422.93l-0.85,0.87M534.17,416.38l-0.82,0.03M546.09,428.61l0.79,0.92M531.79,414.91l1.09,0.63M558.12,419.96l0.88,1.12M523.98,404.37l-0.36,1.05M499.13,409.04l-0.75,1.09M513.43,410.79l-0.08,0.72M504.41,409.36l-1.42,0.6M511.71,405.36l0.72,0.28M550.95,422.24l0.77,0.84M552.74,425.87l1.05,0.82M527.87,409.44l0.26,1.41M534.79,418.34l-0.9,0.04M518.3,413.25l0.31,1.41M559.7,420.38l0.88,0.52M510.03,410.96l1.01,0.89M532.87,417.55l0.71,0.22M506.42,408.21l-0.66,1.15M516.95,414.07l0.74,0.95M519.36,410.84l0.68,0.68M516.08,417.82l0.53,0.6M554.7,414.12l-0.04,0.98M557.66,422.7l-0.49,1.2M543.62,415.06l0.28,1.01M530.05,414.11l-0.11,1.17M550.56,426.87l0.55,0.47M515.4,400.96l-1.01,0.75M514.29,405.76l-1.33,0.58M542.99,420.82l-0.77,0.8M522.35,416.64l-1.48,0.58M499.06,407.43l-1.18,0.11M530.82,409.33l-1.06,0.49M504.39,411.72l-0.34,0.72M536.38,417.53l0.96,0.58M558.62,420.29l0.86,0.69M532.89,410.14l-0.31,1.23M552.42,421.8l-0.55,0.52M503.83,406.07l0.84,0.08M516.87,407.81l-0.74,0.45M539.49,418.52l-0.72,0.15M534.3,411.52l-0.79,0.49M511,408.39l-1.26,0.33M510.8,408.73l-1.18,0.62M564.34,420.16l-0.41,0.96M545.42,414.85l1.12,0.21M521.39,415.98l0.72,0.11M517.49,404.46l-0.44,1.46M506.7,415.06l0,1.39M534.44,407.19l1.12,0.76M538.37,422.45l-0.99,0.92M504.35,404.89l0.72,0.09M554.72,418.11l-0.71,0.19M501.82,408.63l0.66,0.45M505.82,405.08l-0.12,1.03M530.32,411.68l0.06,0.73M557.7,417.69l0.39,1.12M514.21,408.81l-0.99,0.99M544.13,427.84l0.88,0.58M555.2,423.04l1.48,0.55M547.09,426.06l0.52,1.13M504.06,412.15l-0.16,0.8M516.98,418.27l0.91,0.62M512.63,411l-0.5,0.71M533.84,410.22l0.7,0M528.42,421.75l-1.39,0.67M524.05,409.56l0.31,0.93M547.17,413.94l-0.46,0.7M523.55,405.52l-0.81,0.91M553.14,420.58l-0.22,1.45M520.53,403.4l-0.31,0.65M537.21,424.81l0.38,0.71M542.09,421.93l-1.12,0.43M539.33,414.1l1.13,0.04M530.43,415.36l0.8,0.15M537.46,420.53l-1.41,0.04M514.61,413.72l-0.03,1.42M528.59,411.98l0.06,1.02M522.51,402.39l-0.44,0.71M504.45,412.74l-0.44,1.32M525.75,408.88l0.6,1.37M557.57,414.54l0.75,0.33M557.9,422.55l1.28,0.26M509.12,413.42l-0.24,0.71M540.71,414.15l-1.34,0.43M537.2,414.16l0.89,1.24M562.1,418.6l0.72,1.14M558.84,423.93l1.14,0.15M511.64,416.61l0.46,0.72M547.32,422.86l0.53,0.94M543.92,421.9l0.09,0.8M553.28,414.94l-0.45,0.92M520.3,405.3l-1.24,0.1M536.81,418.46l-0.94,0.83M523.02,419.52l0.41,0.99M519.12,410.59l-1.26,0.66M542.46,425.39l0.45,1.2M511.81,409.49l1.35,0.44M520.98,403.52l1.15,0.55M519.14,414.25l0.78,0.57M524.31,408.37l-0.48,0.55M539.76,424.16l0.45,0.75M550.81,418.15l1.11,0.05M536.87,409.61l1.07,0.12M556.29,417.29l1.32,0.55M523.3,404.7l-1.22,0.03M548.35,419.44l0.12,1.39M531.92,412.45l-0.07,1.34M543.38,417.15l-1.14,0.89M525.35,414.01l-0.19,0.93M554.67,424.19l1.19,0M498.7,408.04l-0.92,0.82M541.79,412.43l-0.06,0.88M527.04,407.74l-0.42,0.68M503.62,405.95l-0.13,1.22M548.21,424.62l-0.87,0.17M502.39,404.95l1.13,1M559.31,414.26l0.94,0.4M545.61,423.36l0.22,1.09M527.43,411.14l0.19,1.3M496.96,411.65l0.31,0.66M499.43,412.82l-1.43,0.26M495.88,409.53l0.39,0.9M506.42,403.17l1.39,0.07M507.32,409.49l-1.02,0.91M515.54,413.6l0.49,1.01M552.14,427.69l-0.49,1.49M515.52,413.31l-1.15,0.64M556.1,415.35l0.95,0.15M514.79,412.61l-1.22,0.22M518.25,406.85l0.73,0.15M523.43,416.44l0.37,1.15M542.32,410.1l0.03,1.04M513.16,401.56l0.58,0.78M525.69,415.82l0.79,0.06M550.32,416.75l0.02,1.01M547.86,415.14l-1.15,0.88M558.15,421.85l-0.58,0.95M532.16,417.43l-0.11,1.43M547.92,418.55l-0.46,1.45M528.96,422.14l0.85,1.23M546.58,426.45l-0.72,0.61M561.1,415.89l1.13,0.12M518.08,403.14l-1.44,0.54M502.65,413.41l0.85,0.99M501.62,410.04l0.31,1.08M525.08,417.94l-1.51,0.29M559.12,424.95l0.69,0.6M526.85,419.36l-0.33,0.96M510.79,407.3l-1.18,0.94M512.69,403.08l-1.57,0.16M545.37,414.23l-0.97,0.99M530.42,408.17l-0.1,1.29M508.94,406.81l-1.54,0.19M554.88,424.72l-0.16,0.75M546.46,425.16l-0.65,0.36M542.4,420.02l-0.59,0.85M558.59,421.78l-0.91,0.65M508.49,413.58l-0.64,1.01M522.38,407.37l0.68,0.59M559.53,420.37l1.48,0.1M537.6,422.03l-0.36,0.95M518.16,402.15l-0.37,0.65M542.81,427.42l-0.63,1.08M537.99,419.22l-1.14,0.52M553.59,418.8l-1.23,0.06M555.18,423.25l-1.12,0.03M522.17,408.27l-0.44,0.65M515.73,411.89l1.14,0.47M514.72,414.7l-0.07,0.94M518.89,408.57l-1.17,0.76M544.23,417.91l-1.25,0.56M547.62,425.28l-1.4,0.05M538.71,418.2l1.43,0.64M530.5,408.09l-1.04,0.06M512.42,406.57l0.72,1.01M545.41,415.87l1.41,0.01M552.72,414.94l0.12,0.71M545.69,421.12l0.71,1.2M535.43,412.45l-0.08,0.94M520.15,405.73l1.57,0.01M537.85,418.72l-0.96,0.13M510.52,406.66l0.65,0.32M529.3,412.64l0.63,1.42M543.24,425.07l-0.6,0.7M498.53,408.89l1.48,0.2M519.2,402.48l0.39,0.79M524.95,418.54l-0.37,0.69M511.3,411.84l-0.56,0.43M533.65,416.15l-0.97,1.21M508.05,414.5l0.76,0.93M554.92,426.52l0.54,1.49M537.4,414.34l1.2,0.45M503.57,404.02l-0.37,1.22M551.44,424.88l0.88,0.41M542.85,424.34l0.06,1.52M553.9,424.96l-0.73,0.51M518.6,401.69l-0.83,0.76M562.38,415.22l1.09,0.54M499.48,412.56l-1.15,0.74M555.24,413.77l0.14,0.74M550.59,417.15l0.24,0.8M524.34,404.13l-1.07,0.64M556.2,416.66l0.83,0.46M554.23,417.61l-0.56,1.14M561.72,417.79l0.51,0.54M533.99,412.31l-0.87,0.19M559.44,422.49l0.79,0.96M542.61,426.84l0.73,1.38M535.68,407.74l-0.44,0.88M513.38,410.94l-1.41,0.3M538.58,417.52l0.55,0.89M534.78,407.44l-0.64,1.33M495.7,411.04l0.3,1.43M533.14,415.59l-0.39,1.13M542.59,416.79l-0.15,0.9M502.61,413.23l-1.45,0.54M514.84,417.3l-0.06,1.11M499.85,406.86l0.57,0.68M507.64,402.4l-0.06,0.85M540.03,418.07l-0.43,1.05M537.86,408.9l0.15,1.31M538.13,416.52l-0.72,0.64M520.56,413.02l-0.91,1M521.43,402.62l1.23,0.07M545.51,418.54l-0.85,0.69M547.2,418.18l-0.49,1.09M541.8,416.86l1.25,0.37M544.43,412.88l-1.13,0.11M519.52,404.98l-0.81,0.29M559.2,413.5l-0.47,1.01M505.51,410.71l0.27,1.46M527.69,416.64l-0.98,0.75M536.88,408.16l-0.22,1.46M528.85,408.67l0.8,0.44M525.25,412.7l-0.3,0.9M538.4,414.25l-1.14,0.85M533.1,410.08l0.93,0.96M525.19,420.58l1.02,1.06M525.31,412.07l-0.28,1.14M533.21,416.87l-1.35,0.21M516.42,414.78l-1.28,0.13M555.32,417.78l-1.25,0.36M511,411.21l0.05,0.8M560.33,414.53l0.92,0.67M511.1,405.64l-0.02,1.32M535.95,422.6l-1,0.01M530.45,405.35l1.24,0.34M507.83,407.93l-0.82,0.74M525.79,416.2l-0.86,1.17M561.82,413.62l-0.85,0.76M522.49,403.74l-0.73,1.34M531.56,410.73l0.47,1.31M522.78,407.46l-0.33,1.04M543,412.8l-0.93,0.75M511.94,408.97l-1.12,0.18M509.68,403.84l1.51,0.12M537.22,415.81l0.64,0.42M536.67,413.85l-0.5,1.1M540.25,412.37l-1.04,0.56M553.39,423.24l-0.67,0.99M511.55,403.08l-0.45,0.81M537.85,416.54l-0.36,1.03M510.96,409.14l-0.87,1.22M516.69,409.44l0.18,1.07M539.29,422.75l-1.06,0.95M526.05,413.45l-0.45,0.87M553.5,412.58l-0.21,1.15M513.76,414.33l-0.81,0.13M498.63,408.98l-1.28,0.25M553.09,425.09l0.98,0.61M500.51,411.4l0.02,1.44M503.87,407.72l1.2,0.22M535.97,421.46l0.38,1.49M545.79,417.11l-0.79,0.33M514.77,416.6l-0.48,1.48M561.78,414.07l1.11,0.83M538.99,425.72l-0.15,0.92M527.62,414.03l0.55,1.09M504.46,407.62l0.67,0.26M531.57,422.2l0.46,1.44M537.57,419.82l0.94,1.18M521.49,411.39l0.51,0.89M505.28,412.05l1.36,0.41M557.11,421.24l-1.34,0.73M519.97,409.87l-0.26,0.66M524.18,414.6l-1.12,0.6M526.08,408.18l0.88,1.29M518.82,407.31l-0.14,1.3M529.41,420.8l-0.41,0.67M515.62,405.48l0.5,0.63M529.07,408.94l-0.9,0.72M531.43,411.26l1.43,0.13M501.34,413.01l-0.1,0.83M532.95,422.06l-0.35,1.07M525.65,420.43l0.96,0.13M528.24,408.61l-0.9,0.74M514.64,411.81l0.75,0M557.03,416.38l-1.17,0.22M525.16,418.39l0.36,1.24M508.7,414.74l0.26,1.14M537.66,422.09l-1.18,1.04M521.65,411.91l-0.52,0.5M527.5,408.17l-0.24,1.34M555.79,415.26l-0.44,0.64M538.07,414.76l-0.04,1.07M506.61,405.94l-0.93,0.7M553.59,419.6l1.31,0.84M506.82,415.3l0.11,0.84M512.94,405.61l0.64,0.37M540.24,420.06l1.1,1.11M524.22,413.74l-1.25,0.29M547.63,418.07l1.28,0.49M538.53,419.16l1,0.24M555.18,418.95l0.58,0.51M554.04,425.36l-0.52,0.71M506.13,409.63l-0.73,0.1M547.06,419.55l-1.19,0.7M527,413.43l-0.59,1.28M533.94,421.8l-0.62,0.58M541.78,413.2l0.74,0.6M533.5,409.65l1.39,0.24M548.05,425.17l-0.59,0.47M513.97,413.93l0.86,1.16M537.28,416.32l1.18,0.26M531.4,409.16l0.64,0.54M528.54,411.04l-0.35,1.26M546.78,424.06l-0.15,1.51M519.57,408.02l-0.32,0.75M506.46,402.84l-0.48,0.93M560.14,424.28l-0.1,1M516.81,401.58l1.4,0.51M549.56,413.64l-0.77,0.08M527.83,419.48l1.52,0.12M549.74,415.26l-0.99,0.8M524.86,408.7l-0.74,0.11M535.87,412.02l0.38,0.74M543.86,411.2l-0.45,1.37M499.17,412.74l0.69,1.38M532.49,406.41l-0.25,0.95M554.36,413.51l0.82,0.5M523.31,402.18l0.21,1.55M507.17,405.37l-0.19,1.26M504.01,406.6l-0.29,0.87M556.32,424.27l-0.8,0.39M516.05,418.06l-0.45,1.18M533.58,407.04l0.57,0.53M563.35,418.78l1.04,0.02M519.73,409.3l0.9,0.19M528.43,406.97l-1.46,0.35M506.18,412.61l1.26,0.47M511.85,414.98l-1.02,0.7M559.22,421.85l-0.78,1.12M543.49,427.65l-0.38,1.24M533.35,416.07l-0.95,0.18M507.41,415.08l0.75,1.11M537.93,418.44l-0.02,1.16M541.83,424.24l-0.76,0M509,406.99l-1.29,0.83M510.02,414.61l-1.27,0.46M538,422.67l0.59,0.78M558.98,423.82l-0.78,0.06M538.86,422.26l-1.34,0.18M513.9,403.04l0.8,0.48M534.84,409.71l0.69,0.35M543.13,424.52l1.08,0.44M549.53,422.16l0.54,1.01M507.29,413.85l-0.95,0.74M500.23,409.46l0.27,0.96M536.86,418.48l-1.5,0.41M503.6,413.17l1.16,0.32M513.06,415.66l1.37,0.25M514.02,413.55l-0.18,1.28M518.94,406.3l-0.7,0.76M508.97,405.79l0.36,1.41M527.69,417.5l0.74,0.77M526.44,407.61l0.61,0.8M512.71,405.45l-1.14,0.65M507.24,409.43l-0.04,1.45M553.87,425.88l0.72,0.04M517.97,412.9l1.02,0.02M508.87,409.59l1.25,0.76M501.82,413.23l0.71,0.59M551.07,422.29l-0.35,0.63M549.33,416.24l0.04,1.17M506.33,410.51l0.4,0.63M514.87,402.84l0.28,1.19M502.82,411.35l-0.24,1.35M552.45,426.59l1.37,0.59M550.69,421.68l-0.22,1.03M550.13,428.46l1.19,0.26M550,421.46l0.55,0.95M545.81,421.29l0.18,1.55M539.24,426.6l0.87,0.61M514.77,415l-1.14,1.11M523.08,414.72l1.43,0.49M520.58,407.33l1.14,0.3M539.43,412.94l0.65,0.35M543.32,418.42l0.02,1.16M517.62,413.01l0.83,1.11M516.59,416.88l-0.38,1.05M510.43,403.07l1.23,0.29M557.29,423.22l-0.41,1.43M561.65,419.29l-0.4,0.93M500.24,409.91l0.95,0.84M540.95,418.95l-0.67,0.19M508.54,403l0.61,1.4M506.9,410.67l-0.78,0.57M546.36,418.04l-0.34,0.64M520.76,408.38l-1.23,0M543.9,414.56l-0.4,0.97M513.52,408.77l1,0.87M550.04,420.13l-0.61,0.64M518.61,414.3l0.6,0.49M503.55,406.07l-0.66,0.27M546.59,428.19l-1.5,0.49M548.65,423.68l-0.64,0.87M544.82,414.52l-1.35,0.28M516.76,409.14l1,0.82M551.08,419.56l-0.77,0.22M514.38,412.08l-1.09,0.83M531.94,422.26l-0.98,0.63M542.68,425.69l-0.73,0.42M555.05,422.78l0.73,0.41M541.13,418.75l1.33,0.73M544.23,416.55l-1.06,0.29M523.41,407.02l-0.88,0.46M545.86,428.59l0.66,1.04M523.54,401.96l-1,0.55M505.46,406.92l-0.6,0.39M548.95,419.85l1.1,0.25M524.23,413.83l-0.23,1.3M522.7,415.64l-1.12,0.68M507.63,404.15l1.02,1.17M563.26,421.04l0.55,1.26M529.85,419.16l-0.69,1.06M524.58,420.47l-0.67,0.58M520.36,407.71l-1.13,0.14M550.13,425.86l-0.01,0.81M520.53,402.52l0.34,1.05M530.9,412.33l0.02,1.07M542.57,417.84l1.13,0.17M563.24,422.33l-0.42,1.08M507.89,411.43l-0.24,0.91M555.94,416.44l-0.72,0.06M527.18,409.72l-0.3,1.25M525.48,411.15l-0.85,0.85M509.97,402.26l-0.18,1.51M555.33,424.57l-0.4,1.09M514.66,404.97l0.26,1.43M551.37,416.36l-0.3,1.03M542.52,410.84l-0.75,0.78M543.72,415.19l-0.61,1.4M557.9,414.46l0.47,1.26M530.43,408.41l-0.38,0.76M515.18,407.59l0.77,0.93M555.94,419.3l-0.62,1.24M521.88,412.88l-0.41,0.79M548,427.72l-0.71,0.28M518.69,405.4l-0.39,1.12M532.39,415.39l-0.5,1.31M545.67,421.25l-0.96,0.58M529.12,414.1l-0.83,0.08M519.82,410.33l1.4,0.61M525.58,417.41l1.11,1.07M519.85,415.88l0.35,0.91M527.91,414.12l0.98,0.63M535.29,417.26l-0.76,0.81M502.2,409.14l0.28,1.04M515.52,416.47l-0.28,0.77M524.79,404l-0.18,1.35M501.87,413.81l-0.52,0.9M561.78,414.88l-0.7,0.3M554.09,414.91l-1.25,0.6M529.74,409.11l-0.02,1.04M533.35,413.06l-0.94,0.89M513.73,405.97l0.73,0.68M524.33,415.18l-1.17,1.07M512.53,408.88l-0.04,0.71M536.53,417.67l0.57,1.48M501.41,407.24l-0.93,1M505.45,406.88l-0.26,1.15M558.71,419.02l-0.68,1.01M517.51,409.28l0.97,1M544.5,426.44l0.7,0.15M533.37,415.23l0.35,1.16M559.48,417.99l-0.78,0.8M557.4,423.15l-0.03,0.97M531.24,412.86l-0.29,0.91M558.92,414.53l-0.8,0.48M557.7,416.44l-0.15,1.08M561.63,416.94l-0.11,1.02M526.68,408.13l0.16,0.92M499.25,410.99l1.29,0.11M516.56,408.17l-0.15,0.95M540.05,410.85l-0.02,0.95M532.63,419.53l-0.82,0.43M534.79,417.07l-1.04,0.44M523.13,412.22l-1.22,0.12M531.97,423.41l-0.38,1.1M545.66,424.8l-1.06,1.16M555.6,416.13l1.06,0.04M557.67,421.61l1.54,0.01M548.75,416.82l0.86,0.33M523.19,404.59l-0.46,0.9M553.47,424.85l1.01,0.63M525.83,403.7l-0.97,0.27M541.5,414.11l0.08,0.89M537.26,422.48l-0.72,0.78M533.34,409.12l-0.51,0.96M521.21,402.47l0.89,0.11M519.52,407.4l-0.35,0.96M542.66,421.66l-0.93,0.02M530.89,408.38l0.42,1.46M511.85,412.77l-1.06,0.31M552.32,416.08l0.61,1.2M540.78,411.45l-0.78,0.01M554.96,421.7l-0.69,0.89M542.03,426.06l0.39,1.31M543.86,415.1l-0.85,0.75M519.01,410.93l-0.71,0.99M514.45,404.69l0.37,1.45M543.89,420.68l-0.81,0.23M533.49,414.07l-0.19,0.73M514.53,405.67l1.31,0.82M556.38,412.19l0.53,0.89M514.02,409.31l-1.06,0.91M508.93,411.24l0.47,0.75M516.3,408.79l0.18,1.53M546.79,412.93l-0.93,0.03M549.22,421.79l-0.03,1.35M547.09,424.11l-0.19,1.51M516.6,415.54l-0.23,1.17M554.5,425.52l1.12,0.72M531.61,412.17l1.42,0.54M516.85,409.91l1,0.28M520.13,412.43l0.8,0.18M562.3,416.69l0.82,0.74M519.88,414.61l1.16,0.72M560.96,418.91l-1.42,0.18M532.43,415.71l-0.58,0.85M552.6,420.31l1.43,0.18M506.49,409.03l0.94,0.83M544.95,426.62l-0.01,0.75M502.93,405.29l0.5,0.67M506.72,415.08l1.13,0.15M560.63,417.06l0.74,1.03M529.9,414.98l-0.56,1.22M542.92,424.07l0.72,0.5M554.47,413.11l1.37,0.09M503.37,408.2l-0.84,0.21M534.23,420.58l-0.56,0.69M504.72,412.46l1.15,0.43M506.35,410.87l-1.1,0.07M512.64,403.19l-0.31,0.78M506.46,404.31l-0.88,0.94M514.76,409.47l0.77,0.91M506.36,402.95l1.44,0.32M519.38,419.01l1.12,0.92M553.89,419.23l0.76,0.05M553.56,425.49l1.02,1.15M517.1,406.29l0.91,0.71M534.11,414.93l-0.88,0.82M526.2,405.22l-1.02,0.74M505.5,410.82l-0.37,0.86M540.22,421.64l0.92,1.05M555.75,413.82l-0.26,1.26M511.66,401.38l0.99,0.64M539.61,425.76l0.57,0.63M523.95,404.92l0.78,0.83M506.23,414.18l-0.06,0.86M541.3,416.99l-1.55,0.18M531.34,408.17l0.49,0.59M543.53,419.76l0.59,0.69M561.64,421.63l-0.02,0.8M501.72,406.18l0.75,1.38M505.56,412.53l-0.08,0.74M516.75,409.71l-1.09,0.01M515.27,409.91l0.5,0.68M519.12,406.9l1.4,0.17M515.2,408.15l-1.4,0.72M553.98,422.96l0.96,0.05M553.91,414.32l1.35,0.84M509,405.43l-0.91,1.3M532.87,418.85l1.24,0.23M549.52,419.53l-0.69,1.42M553.49,421.55l0.3,0.64M505.33,410.91l0.43,0.84M527.03,415.06l0.77,1.18M548.93,418.93l0.79,0.19M548.34,426.16l0.8,0.37M513.36,413.2l-0.43,1.49M554.34,426.75l1.03,0.85M529.42,411.08l-0.87,0.35M522.55,416.79l-0.63,1.19M521.86,411.46l1.07,0.67M500.86,406.34l1.26,0.96M526.47,416.63l-1.28,0.7M526.8,414.15l0.81,0.42M507.13,408.45l-0.13,0.92M513.11,403.33l1.48,0.33M525.32,413.61l1.45,0.63M496.83,408.68l0.05,1.11M544.48,417.17l-0.45,0.61M514.84,408.26l0.06,1.08M537.74,414.9l0.9,1.11M512.66,409.21l0.91,0.13M560.22,414.43l-0.75,0.86M512.84,410.67l-0.03,0.98M521.64,403.48l0.08,1.17M558.12,413.39l0.88,1.17M502.29,411.43l1.4,0.28M547.42,427.88l1.21,0.8M543.98,416.4l0.25,1.4M532.54,412.93l-1.4,0.45M522.59,411.07l0.7,1.09M541.66,418.69l-0.09,1.3M543.7,421.96l-0.75,0.5M538.44,424.71l0.71,0.5M509.38,416.06l-0.96,0.33M549.85,425.93l0.41,0.58M522.49,419.89l1.54,0.06M543.34,410.82l0.98,0.62M556.03,416.08l-0.11,0.89M504.3,407.17l0.65,0.92M515.23,412.48l0.77,0.15M533.47,407.4l1.06,0.95M528.43,416.98l-0.64,1.21M512.16,403.9l0.81,0.42M552.27,423.68l-0.01,1.19M547.61,417.78l1.08,0.27M508.32,414.17l-0.88,0.06M516.96,417.51l-0.47,0.86M522.17,415.01l-0.73,0.16M557.89,416.77l-1.02,0.27M517.46,415.59l-1.2,0.06M541.94,416.98l1.11,1.13M524.36,412.48l0.87,0.65M531.25,408.63l-0.18,1.22M548.96,420.85l1.16,0.65M496.86,408.54l1.3,0.01M557.61,420.66l-0.58,1.03M546.34,416.46l-0.68,0.5M527.63,418.94l1.18,0.26M546.63,421.64l-1.48,0.53M539.66,417.99l0.09,1.09M537.09,410.17l-0.96,0.7M525.06,415.51l-0.89,1.15M552.46,421.34l0.5,0.49M519.63,414.59l0.55,0.6M504.35,408.73l-1.04,1.19M509.36,407.25l-1.22,0.12M527.89,409.08l-0.81,0.69M517.57,405.24l-0.48,0.66M537.33,413.38l1.45,0.58M558.56,419.41l-1.18,0.74M505.97,409.45l1.23,0.74M562.01,417.26l-0.79,1.37M531.25,413.27l1.01,1.23M502.51,405.73l-0.65,0.33M510.76,411.58l1.3,0.1M499.08,408.71l1.26,0.42M507.67,408.92l-0.69,0.3M529.07,414.61l0.52,0.67M520.93,407.77l-0.66,0.85M537.6,417.76l-0.95,1.21M534.16,420.9l-0.14,0.76M553.84,415.92l1.36,0.17M523.77,414.18l-1.45,0.49M549.24,413.38l0.29,1.33M558.39,413.78l-0.72,0.97M514.02,407.68l-0.72,0.04M509.5,406.12l-1.09,0.71M515.93,403.21l-0.71,1.17M539.96,421.51l-0.22,0.69M551.03,426.22l0.9,0.52M552.6,425.37l1.31,0.71M559.46,424.49l-1.46,0.39M553.56,412.02l0.36,1.28M518.71,407.23l1.04,0.69M547.34,418.2l-0.27,1.14M532.47,419.93l-1.48,0.55M555.63,412.47l-1.54,0.18M529.17,418.77l0.65,1.05M500.55,406.21l-0.61,0.67M557.27,421.47l0.84,0.02M535.68,416.02l-0.63,0.36M539.75,416.3l0.02,1.24M525.77,411.39l-0.94,0.87M530,414.96l-1.2,0.93M518.08,418.09l0.37,0.98M539.63,420.83l-0.98,0.31M529.34,413.57l-1.16,0.05M535.41,420.82l0.54,1.05M522.27,404.59l1.08,1.11M539.62,416.28l-1.19,0.83M548.21,412.06l-0.12,0.98M499.49,411.2l-0.88,0.44M504.51,413.47l-0.58,1.29M558.33,424.67l1.33,0.88M508.47,408.37l-0.56,0.69M516.86,409.14l0.74,0.28M523.02,402.46l-0.91,0.19M520.19,401.92l-0.72,0.48M499.21,411.16l-1.47,0.41M527.34,417.47l1.47,0.34M528.51,408.62l-0.19,0.91M532.89,407.69l0.8,0.04M550.57,413.47l-0.05,1.29M512.11,405.67l0.39,1.32M546.47,413.84l-0.31,0.88M562.05,419.26l-0.84,0.6M535.43,421.38l-0.14,1.38M516.64,415.51l0.96,0.46M541.12,420.68l-0.75,1.12M532.94,408.45l1.16,0.02M548.51,418.76l1.19,0.14M554.87,417.56l0.12,1.17M518.16,413.24l-0.33,0.92M556.66,425.84l-1.08,0.85M525.62,402.73l-0.67,1.15M555.68,413.11l1.39,0.37M517.33,403.96l0.97,0.01M526.98,414.92l-0.2,0.75M558.21,417.89l-0.62,0.65M508.97,415.45l-1.57,0.07M514.6,410.82l1.01,1.23M521.36,413.97l1.41,0.39M510.99,407.09l1.01,0.13M550.6,423.91l-0.19,0.77M542.49,417.48l0.06,1.39M506.86,411.31l-0.61,1.38M512.63,412.7l-0.09,1.11M499.4,411.02l-1.01,0.22M516.06,410.92l1.33,0.69M534.33,417.82l-0.45,1.44M530.97,416.55l0.17,0.99M563.58,419.46l0.01,0.78M527.7,406.36l0.3,0.85M509.88,413.17l0.86,0.34M554.72,412.38l1.1,0.86M520.84,411.06l0.86,0M561.28,414.87l0.25,1.21M555.86,419l0.8,1.24M514.7,413.44l-1.14,0.92M508.85,408.01l-0.05,1.2M532.64,414.07l-0.71,0.59M525.07,420.34l-0.87,0.31M519.3,414.15l0.77,0.87M553.61,426.76l0.04,1.02M548.96,415.36l0.75,0.99M551.07,424.14l-0.62,0.53M532.5,409.74l1.51,0.18M498.38,410.48l-1,0.86M524.13,419.48l-0.75,0.1M534.63,417.78l-1.23,0.13M512.57,404.17l-0.14,0.84M506.87,406.16l-0.59,0.99M548.37,412.48l-1.53,0.03M507.68,411.18l0.09,1.12M536.35,420.79l1.15,0.58M553.07,412.37l0.61,0.69M508.93,409.07l-0.76,1.13M519.21,401.82l-1.11,0.01M513.6,404.32l0.45,1.24M533.48,409.72l0.87,0.37M541.97,415.13l0.33,1.18M507.87,404.35l-1.3,0.92M502.23,409.88l-1.37,0.17M506.74,411.94l-0.13,0.83M515.31,401.13l-1.57,0.13M527.74,413.06l-0.24,1.43M529.8,420.2l1.01,0.31M534.59,423.43l0.74,1.11M546.54,423.35l0.54,0.85M535.75,413.46l0.1,1.21M509,403.8l-0.05,0.88M514.1,402.4l1,0.89M504.9,409.13l0.02,1M515.02,403.11l-0.02,1.37M538.55,410.91l0.39,0.87M545.96,426.4l0.55,0.66M535.72,413.27l0.69,0.53M516.1,409.55l0.49,0.88M533.25,418.38l0.67,1.17M524.59,404.52l-0.85,0.24M544.48,427.98l1.19,0.7M522.66,419.51l0.06,1.34M546.67,421.63l-0.65,0.61M540.77,423.91l-0.6,0.62M563.71,419.51l0.89,0.87M516.25,416.77l-1.15,0.91M564.52,419.84l-0.14,1.16M549.89,421.39l-0.49,0.68M508.4,405.12l0.06,0.85M512.66,404.72l0.62,0.49M523.44,410.18l0.78,0.37M522.78,402.14l0.44,0.59M527.52,404.11l-0.86,1.32M507.78,404.97l-0.73,0.27M548.7,423.19l-0.94,0.54M523.83,410.59l-0.52,1.01M544.59,413.17l-1.09,0.59M513.19,412.7l1.14,1.02M497.08,412.09l0.27,1.22M503.31,408.35l0.43,0.64M558.8,420.64l-1.2,0.27M533.19,413.41l-0.15,0.99M559.16,418.2l0.96,0.72M525.15,402.34l-0.54,0.93M508.83,405.75l-0.08,0.92M517.72,413.56l-1.2,0.27M549.62,421.43l-0.85,0.98M538.23,418.53l-0.69,0.21M516.09,403.61l-1.37,0.38M504.69,414.19l-0.7,1.04M528.51,416.25l0.6,0.46M540.28,419.99l-0.76,0.79M559.7,420.36l-1.38,0.29M513.43,412.97l1.01,0.77M521.68,413.87l0.35,0.78M536.22,421.84l0.37,0.73M538.02,418.75l-0.22,1.43M561.56,422.96l-0.47,1.47M534.32,415.58l0.79,0.6M519.93,408.01l0.56,0.66M545.97,427.97l-0.77,0.22M516.99,417.15l0.46,0.98M498.36,412.64l-0.88,1.1M536.13,417.98l0.49,1.28M540.07,415.98l1.06,1.09M499.09,412.65l-1.18,0.29M521.82,406.27l0.54,1.26M542.83,418.68l-1.02,0.16M560.74,421.26l-1.3,0.63M550.46,424.24l0.85,0.58M544.51,416.82l-0.21,1.35M526.43,405.42l-1.38,0.2M529.42,416.92l0.72,0.55M507.72,413.01l0.87,1.07M511.52,407.81l0.43,1.41M541.93,419.69l0.83,0.48M546.45,424.93l-0.46,0.87M547.03,427.76l-0.23,1.24M563.92,419.99l0.03,0.81M528.86,412.75l-0.61,0.96M511.12,406l-0.86,0.86M525.84,403.5l0.87,0.52M516.46,410.79l1.2,0.38M532.12,408.28l-0.61,1.19M556.82,424.03l-0.98,0.24M503,412.99l-1.27,0.34M551.96,413.87l-0.67,1.33M534.81,423.64l-0.74,0.38M518.75,408.95l1.1,0M509.21,411.21l-0.22,0.69M559.48,422.6l-0.54,1.12M507.57,404.48l0.23,1.3M527.06,415.06l1.51,0.38M510.95,411.71l-1.27,0.89M520.22,413.57l-1,0.55M502.26,406.53l0.34,0.61M553.82,424.94l0.59,0.83M524.91,410.94l-0.91,0.95M530.35,408.08l-1.36,0.4M540.14,423.21l1.1,0.54M501.57,412.84l0.43,0.92M523.15,415.49l1.1,0.4M561.66,422.43l0.15,1.11M519.32,414.46l0.95,0.58M519,404.19l-0.3,1.05M547.9,412.82l0.05,0.78M514.91,407.88l-1.13,0.83M539.16,422.98l0.28,1.25M521.57,407.64l0.95,0.52M516.03,403.31l0.86,1.3M549.96,412.66l0.85,0.77M517.71,418.64l0.8,0.97M552.3,413.89l0.03,1.41M521.22,403.48l-0.71,1.21M542.96,422.66l1.09,0.79M548.97,413.71l0.24,1.04M531.21,422.99l0.06,0.91M512.32,403.57l-0.73,0.89M519.98,410.7l0.73,0.61M511.6,415.39l0.28,1.09M537.45,415.39l-1.22,0.2M507.63,406.25l-0.68,0.43M522.03,406.71l-1.45,0.25M509.04,403.98l-0.13,0.75M516.49,401.66l0.04,1.2M525.34,410.45l-0.45,0.97M526.51,407.43l0.71,0.36M508.48,402.59l1.36,0.47M518.66,411.09l1.09,0.77M523.25,413.35l-0,0.91M559.76,415.62l-0.21,1.47M541.35,425.24l0.9,0.35M509.01,415.41l1.03,1.1M508.79,411.71l0.29,0.94M544.83,414.83l-0.82,0.61M554,425.11l0.46,1.47M534.55,408.91l-1.04,0.28M531.84,406.77l-0.78,0.88M513.72,404.11l-0.69,0.82M551.77,412.81l-0.23,1.33M518.28,410.73l0.91,0.25M519.84,407.99l0.75,0.59M530.1,419.53l1.43,0.1M537.52,417.63l-0.53,0.97M526.21,413.96l-0.57,0.55M513.07,414.86l0.33,1.21M501.08,408.68l0.36,1.48M550.71,414.69l-1.03,1.22M517.16,416.52l-1.12,1.12M554.82,423.49l-0.45,1.26M556.53,424.08l0.78,0.46M534.9,417.94l1.27,0.74M508.95,403.8l-1.06,0.49M526.98,405.75l-1.28,0.31M528.37,415.4l0.69,0.2M536.56,410.78l-1.22,0.66M541.91,417.3l0.89,0.84M542.23,413.02l1.04,0.85M551.56,418.24l-0.43,0.57M545.05,417.88l-0.62,0.53M507.8,415.14l-0.88,1.03M525.54,420.81l-0.77,0.44M521.47,417.35l-0.69,1M534.55,408.92l-1.32,0.14M549.06,426.01l-0.29,1.25M529.37,404.71l1.18,0.79M564.84,419.03l-0.3,0.81M498.9,411.4l0.65,0.62M535.91,419.31l-0.46,0.58M558.95,424.31l-0.49,0.5M514.66,406.17l-0.88,0.34M522.32,406.29l-0.54,0.6M519.79,406.81l-0.03,0.87M546.14,424.5l0.55,0.5M536.45,415.75l-0.28,0.99M532.66,418.5l-0.86,0.44M504.31,413.38l0.97,0.15M547,412.26l-1.08,0.68M554.22,426.46l1.08,0.98M553.79,424.99l0.84,0.26M533.23,407.19l0.57,1.45M555.38,424.69l-0.44,1.39M548.32,427.77l-1.42,0.43M507.08,410.23l0.01,0.7M552.58,413.7l0.28,1.31M506.49,410.19l0.57,0.5M547.68,412.13l1.09,0.41M555.48,420.87l0.76,1.33M538.32,425.81l-0.77,1.33M564.21,418.52l0.44,0.79M550.2,414.78l-0.15,0.72M520.04,414.04l-0.77,0.43M524.5,407.97l-0.45,0.6M514.87,414.91l1.13,1.09M518.12,413.72l-1.15,0.18M510.53,414.33l-1.45,0.04M516.1,402.21l-0.94,0.23M499.52,412.64l-0.76,0.7M542.17,426.54l-0.21,0.75M552,427.01l0.14,1.33M541.27,427.65l0.86,0.19M548.56,418.44l0.25,1.55M501.8,407.29l-0.36,0.66M551.1,418.07l0.98,1.02M559.91,423.8l1.05,0.32M514.06,415.94l-1.25,0.55M528.69,412.53l-0.97,1.14M517.54,400.99l-0.43,1.1M557.89,415.54l0.7,1.08M555.04,421.43l-0.31,0.79M546.26,418.04l-0.72,0.85M517.17,412.32l0.86,0.41M536.58,411.19l0.53,0.93" stroke="#3f45bf" stroke-width="0.4" fill="none"/>
<path d="M558.86,417.01h0.45M542.68,424.72h0.45M524.33,418.46h0.45M523.34,410.51h0.45M527.07,411.87h0.45M508.2,413.68h0.45M511.76,406.94h0.45M553.61,425.41h0.45M530.86,418.93h0.45M519.68,416.05h0.45M524.5,414.51h0.45M499.91,410.95h0.45M500.19,406.66h0.45M539.13,417.85h0.45M539.25,410.48h0.45M530.48,418.17h0.45M551.22,421.02h0.45M511.87,407.51h0.45M556.04,415.94h0.45M531.77,414.91h0.45M544.34,415.5h0.45M537.9,408.79h0.45M548.54,418.96h0.45M504.46,404.9h0.45M519.02,413.49h0.45M550.61,427.49h0.45M509.53,402.26h0.45M529.14,406.84h0.45M521.73,408.26h0.45M503.4,405.85h0.45M552.27,417.57h0.45M514.77,416.83h0.45M560.66,420.53h0.45M510.98,411.6h0.45M509.61,413.33h0.45M531.22,407.03h0.45M538.08,423.18h0.45M515.4,405.14h0.45M542.63,414.59h0.45M540.16,426.85h0.45M525.07,417.78h0.45M515.41,414.82h0.45M525.11,403.78h0.45M562.1,415.08h0.45M527.7,405.64h0.45M523.42,410.88h0.45M507.77,411.18h0.45M519.52,419.02h0.45M528.23,410.27h0.45M537.26,414.35h0.45M552.36,420.63h0.45M521.14,417.62h0.45M563.11,419.52h0.45M517.21,412.15h0.45M543.39,417.99h0.45M529.3,417.9h0.45M510.75,403.52h0.45M525.27,415.89h0.45M545.82,412.16h0.45M509.03,411.88h0.45M551.65,416.94h0.45M531.54,413.93h0.45M539.85,423.96h0.45M504.26,411.04h0.45M529.97,405.44h0.45M516.92,410.46h0.45M503.7,408.01h0.45M522.29,416.17h0.45M530.18,412.58h0.45M540.36,415.32h0.45M554.88,426.48h0.45M561.75,421.59h0.45M537.68,415.16h0.45M531.4,409.95h0.45M555.87,414.03h0.45M544.05,414.66h0.45M510.11,403.36h0.45M554.01,413.92h0.45M560.51,417.97h0.45M546.15,416.35h0.45M521.22,419.63h0.45M498.91,409.1h0.45M508.52,405.94h0.45M512.47,401.71h0.45M533.73,412.82h0.45M546.58,427.99h0.45M536.57,419.48h0.45M524.57,413.94h0.45M512.35,409.87h0.45M510.12,412.6h0.45M516.33,414.59h0.45M498.69,410.67h0.45M512.27,402.95h0.45M553.42,412.95h0.45M506.76,407.29h0.45M526.08,417.3h0.45M557.92,423.51h0.45M532,420.58h0.45M515.17,404.37h0.45M534.95,411.17h0.45M512.93,410.06h0.45M560.1,414.74h0.45M544.61,418.26h0.45M528.86,415.5h0.45M514.01,416.6h0.45M516.6,401.46h0.45M541.4,414.09h0.45M509.63,411.34h0.45M550.77,414.22h0.45M518.42,406.58h0.45M518.91,409h0.45M548.43,426.28h0.45M537.81,424.1h0.45M506.81,407.64h0.45M502.23,408.29h0.45M541.63,421.89h0.45M526.2,416.33h0.45M539.67,420.23h0.45M524.76,411.21h0.45M531.25,417.33h0.45M504.26,413.92h0.45M529.85,422.38h0.45M545.37,418.48h0.45M529.85,405.8h0.45M518.58,409.71h0.45M518.63,409.11h0.45M528.7,418.64h0.45M556.09,420.37h0.45M552.18,426.69h0.45M553.66,427.17h0.45M549.27,424.39h0.45M540.99,411.76h0.45M556.84,422.96h0.45M543.02,410.13h0.45M530.29,412.07h0.45M533.53,420.05h0.45M557.01,418.43h0.45M519.72,403.99h0.45M509.12,401.98h0.45M515.09,404.85h0.45M501.88,407.11h0.45M501.38,409.66h0.45M502.16,405.43h0.45M535.43,411.55h0.45M524.74,408.11h0.45M512.8,401.07h0.45M501.87,407.39h0.45M508.89,411.49h0.45M518.2,409.67h0.45M549.22,411.72h0.45M557.78,420.72h0.45M556.7,413.14h0.45M518.33,417.31h0.45M542.47,424.18h0.45M559.32,414.34h0.45M515.39,409.68h0.45M535.05,419.44h0.45M541.29,413.62h0.45M548.51,418.06h0.45M527.44,405.26h0.45M516.13,403.05h0.45M555.59,413.8h0.45M533.74,424.23h0.45M548.64,425.39h0.45M527.96,417.46h0.45M504.38,407.88h0.45M532.93,408.02h0.45M547.73,411.76h0.45M508.5,403.03h0.45M549.2,424.31h0.45M544.49,427.96h0.45M530.89,410.93h0.45M509.87,408.47h0.45M563.07,414.86h0.45M546.02,423.47h0.45M511.86,415.11h0.45M511.02,411.83h0.45M507.13,404.7h0.45M516.57,401.23h0.45M536.86,416.41h0.45M523.58,416.39h0.45M556.71,415.06h0.45M502.32,410.37h0.45M511.36,403h0.45M526.32,410.43h0.45M510.34,409.85h0.45M532.26,418.44h0.45M561.05,416.95h0.45M512.48,403.41h0.45M516.64,416.24h0.45M541.77,418h0.45M541.07,425.43h0.45M541.57,419.48h0.45M513.68,410.74h0.45M539.57,415.62h0.45M548.69,419h0.45M514.99,405.77h0.45M557.11,417.75h0.45M520.69,414.33h0.45M552.05,413.55h0.45M498.58,410.3h0.45M521.65,401.39h0.45M555.66,420.81h0.45M523.95,410.74h0.45M523.1,409.84h0.45M534.91,421.22h0.45M514.24,406.2h0.45M538.79,409.61h0.45M532.23,413.74h0.45M532.62,420.21h0.45M548.48,411.66h0.45M543.38,425.6h0.45M530.44,414.21h0.45M527.2,406.15h0.45M537.29,408.39h0.45M514.93,410.36h0.45M540.82,417.96h0.45M513.04,405.94h0.45M504.66,412.08h0.45M548.59,424.38h0.45M507.9,413.73h0.45M503.6,407.69h0.45M551.78,421.17h0.45M502.49,409.33h0.45M526.05,413.01h0.45M507.04,408.76h0.45M513,416.26h0.45M518.45,416.98h0.45M556.23,418.31h0.45M553.2,414.05h0.45M508.58,403.09h0.45M530.47,413.02h0.45M553.75,412.76h0.45M533.88,412.04h0.45M520.41,416.35h0.45M512.27,406.07h0.45M511.82,410.04h0.45M558.6,414.96h0.45M536.28,418.73h0.45M519.6,416.45h0.45M538.89,421.31h0.45M510.49,406.51h0.45M542.01,412.95h0.45M556.78,423.35h0.45M506.87,402.36h0.45M519.68,410.82h0.45M515.91,406.25h0.45M560.53,423.72h0.45M508.31,405.32h0.45M495.84,410.51h0.45M520.91,404.04h0.45M558.77,414.09h0.45M527.5,403.94h0.45M502.82,410.92h0.45M562.86,417.7h0.45M522.71,418.13h0.45M516.44,412.73h0.45M536.63,424.38h0.45M506.46,405.57h0.45M550.12,412.24h0.45M519.05,408.3h0.45M543.17,411.46h0.45M510.35,416.38h0.45M553.64,413.24h0.45M501.7,411.61h0.45M518.96,410.95h0.45M525.32,405.01h0.45M504.65,406.51h0.45M523.89,405.09h0.45M534.38,408.82h0.45M544.14,415.96h0.45M522.18,415.04h0.45M537.04,414.4h0.45M510.25,406.49h0.45M543.66,411.55h0.45M551.9,424.66h0.45M519.74,407.09h0.45M557.09,423.4h0.45M510.14,415.81h0.45M558.59,413.72h0.45M516.6,416.14h0.45M513.29,406.15h0.45M525.56,407.84h0.45M509.58,413.76h0.45M524.29,402.21h0.45M531.68,417.66h0.45M507.24,412.56h0.45M534.34,421.9h0.45M516.17,413.86h0.45M549.65,416.73h0.45M550.05,420.89h0.45M555.38,416.46h0.45M516.08,411.79h0.45M562.95,420.71h0.45M530.58,422.73h0.45M520.7,411.19h0.45M524.95,411.44h0.45M504.21,413.34h0.45M513.3,402.69h0.45M516.64,416.65h0.45M558.32,415.35h0.45M555.17,412.52h0.45M521.48,407.37h0.45M521.13,414.82h0.45M563.66,422.18h0.45M523.13,408.97h0.45M546.02,418.85h0.45M500.95,409.91h0.45M516.1,407.61h0.45M521.67,406.96h0.45M528.24,408.67h0.45" stroke="#b8bcf2" stroke-width="0.45" fill="none"/>
<path d="M493.27,409.13l-0.95,-0.8M496.18,411.41l-0.07,1.39M493.24,408.93l-0.9,0.85M497.01,408.75l1.11,-0.28M496.3,410.15l0.72,0.18M495.47,408.19l-0.23,1.29M499.45,408.81l0.63,-1.35M497.82,409.16l0.03,0.41M498.21,407.81l0.43,-0.02M499.64,407.31l-0.33,0.34M501.36,405.21l-1.03,-1.37M498.65,405.01l-0.04,-1.33M502.99,404.72l0.4,1.29M501.05,404.24l1.29,1.14M502.64,403.8l1.12,-1.35M501.89,403.75l-1.28,-1.08M504.64,403.12l-1.02,1.02M502.08,404.71l-0.34,-0.66M505.42,402.09l1.3,-1.19M502.98,401.8l1.26,-0.65M503.56,402.51l-1.32,0.27M505.37,403.54l0.97,0.03M505.98,403.87l-0.39,1.23M505.75,401.08l-0.91,0.73M508.58,400.47l-1,0.77M508.1,400.88l-0.33,0.27M507.26,401.71l0.22,1.23M509.81,400.95l1.35,-0.6M507.98,401.42l0.97,-1.26M509.87,402.57l-0.03,-0.17M510.99,402.29l0.29,-1.27M510.03,400.73l-0.1,1.1M509.16,402.8l-0.3,0.61M512.4,402.01l0.71,-0.72M512.32,400.71l1.3,-1.05M510.51,399.96l-1.31,-1.1M513.12,401.32l-0.14,-1.23M512.2,399.5l0.31,-0.6M513.54,400.49l1.02,-0.1M513.96,401.84l-0.04,0.31M516.2,399.54l-0.44,-0.43M514.19,399.43l-0.39,0.68M517.77,402.01l1.04,-0.86M514.81,401.15l1.32,-1.3M516.08,400.44l0.8,0.83M518.43,401.83l-1.35,0.58M518.72,400.31l-1.3,0.93M518.86,399.35l0.17,-0.56M519.68,400.97l0.99,0.91M518.03,401.33l-0.98,-1.08M519.61,400.73l1.11,1.17M521.51,401.09l-1.02,-0.48M518.93,401.21l0.83,-1.3M521.96,399.59l1.33,-0.53M521.27,402.79l-0.07,-0.08M523.4,402.96l-1.32,0.45M520.73,401.65l-0.27,0.74M524.26,402.24l0.92,-0.15M522.95,400.37l-0.23,0.67M522.06,401.06l1.38,-0.39M526.48,402.88l-0.85,-0.68M525.97,402.84l-0.6,0.03M525.64,402.73l0.92,-0.26M527.66,403.21l0.21,1.31M526.57,402.84l-1.26,-1.24M527.53,402.83l-0.32,-0.94M526.38,403.13l-0.07,0.43M526.3,402.58l-0.35,-1.2M527.72,404.58l1.12,0.36M527.77,405.56l0.25,0.89M527.62,402.84l-1.04,-1.32M528.77,404.29l1.04,0.39M530.01,403.45l1.13,-0.11M528.52,405.33l1.14,-1.23M530.55,405.22l-1.4,-0.69M530.21,405.63l-0.07,-0.55M532.07,406.8l-1.35,-0.31M530.59,405.8l-0.36,0.61M532.6,405.37l0.75,-0.63M532.6,407.35l-0.35,-0.99M532.67,405.23l0.14,-1.36M533.59,408.22l0.23,-0.14M535.89,405.99l-0.67,-0.66M535.44,406.84l-1.31,-0.48M535.28,406.77l-0.27,1.14M536.18,408.31l-0.04,-0M537.75,406.98l-1.01,-0.77M538.91,408.23l-0.77,-0.84M539.7,408.46l0.36,-0.9M538.86,407.94l0.92,-0.64M541.86,408.71l0.18,-0.63M543.07,409.56l0.28,0.07M543.85,409.1l0.99,-0.87M545.82,411.41l-1.34,-0.54M545.35,409.72l0.7,-1.09M545.4,409.84l0.58,0.55M549.33,411.58l0.3,1.13M548.13,412.93l-0.59,-0.24M549.63,410.19l-0.15,0.62M550.95,410.31l-0.35,0.91M550.47,411.28l-0.7,0.7M549.22,412.66l-0.61,-0.05M553.73,412.89l0.75,-0.91M551.52,413.12l0.17,-0.6M552.36,411.56l0.95,0.73M554.24,412.73l0.85,-0.63M553.46,411.99l-1.24,0.64M553.95,411.66l1.08,-0.76M554.79,413.22l-1.37,1.16M556.25,410.56l0.78,-0.65M555.53,413.31l-1.16,-0.44M558.66,412.07l0.21,-1.28M558.86,412.56l1.02,-1.09M556.15,411.38l0.78,-1.24M559.69,413.48l-0.38,-0.3M558.7,412.47l-0.91,-0.2M557.06,413.8l-0.82,1.01M559.25,412.36l-0.35,1.03M558.97,411.29l-0.3,-1.16M558.58,411.63l1.28,-0.11M560.92,411.17l-0.51,0.83M560.48,414.18l-0.29,1.04M559.03,412.84l0.04,-0.14M562.4,414.5l0.27,1.23M560.42,412.57l1.34,-0.52M562.63,411.69l-0.58,0.36M563.23,411.99l-0.84,-1.33M561.01,413.59l-0.74,-1.07M562.59,412.38l1.32,1.01M564.16,415.48l1.16,1.05M562.16,412.56l-1.15,-1.39M562.44,413.92l0.59,-0.28M562.27,414.7l0.5,0.29M562.08,414.75l0.61,-0.91M563.13,415.92l0.96,-0.6M562.84,415.42l0.75,0.7M563.06,415.75l-0.22,-0.03M563.71,414.82l-0.31,0.12M566.05,416.28l0.85,-0.25M563.78,418.83l-1.38,-0.81M564.57,417.27l0.7,-1.31M565.03,418.22l-1.33,-0.8M563.7,418.29l-0.35,1.39M566.52,418.71l-0.73,-0.3M563.81,421.68l-0.06,0.33M564.58,419.99l-1.01,-0.95M564.44,420.85l-1.31,-0.22M563.16,422.6l1.23,-0.19M562.62,422.23l0.26,-0.24M564.22,423.07l-0.73,-0.38M563.55,421.54l0.52,-0.92M562.07,423.91l0.76,-0.24M563.53,421.89l0.3,0.17M562.71,424.91l0.06,-0.73M560.29,425.19l-1.11,-0.64M561.53,422.31l1.22,0.54M561.15,424.35l0.47,-1.38M561.04,425.64l-0.02,0.44M559.1,423.83l-0.28,0.74M560.42,424.13l1.25,0.48M557.8,426.07l-0.58,-1.31M558.64,423.88l1.11,-0.86M557.16,424.32l-0.05,0.02M557.12,426.35l1.2,-0.96M557.22,424.71l-0.23,-0.19M556.4,426.34l1.14,0.2M555.67,426.17l0.1,-0M556.09,425.79l-0.49,0.24M556.97,426.52l-0.42,-1.21M554.25,425.89l0.15,0.38M555.04,427.73l1.36,-0.4M554.52,427.48l-0.75,-1.01M553.37,427.99l-0.33,0.46M554.11,425.97l-0.36,0.39M552.03,427.06l0.43,-0.49M552.5,428.4l1.32,0.84M551.16,427.68l-0.65,-0.66M547.27,430.48l0.92,0.44M547.39,430.34l0.05,0.34M547.64,430.23l-1.3,-0.25M545.87,430.53l0.18,0.14M545.88,429.63l-1.33,1.04M547.41,428.98l-0.14,0.06M544.04,429.64l0.77,-0.42M542.9,430.06l-0.95,0.71M543.9,427.89l-0.7,-1M541.82,427.93l-1.14,0.13M540.33,429.23l1,-0.74M542.04,427.56l-1.02,0.35M540.67,427.35l1.24,0.31M540.1,425.48l-1.2,-1.01M540.04,427.97l-0.9,-0.14M537.86,426.18l-0.27,1.24M537.58,424.17l0.25,0.06M536.99,425.78l0.82,0.78M532.66,425.77l-0.06,0.77M533.03,424.06l-0.18,1.39M535.36,425.17l-0.53,-0.23M530.08,424.23l0.36,0.73M530.69,421.71l-0.42,-0.62M530.61,422.67l-0.43,1.02M526.5,421.5l0.16,-0.56M528.47,422.8l-0.4,0.55M527.33,421.8l0.87,-1.1M525.14,420.9l0.74,-0.76M525.51,421.04l1.04,1.06M526.01,421.03l-0.61,0.9M521.81,419.36l-0.46,1.09M520.94,421.1l0.5,0.75M522.54,421.04l-1.3,0.04M519.87,418.41l1.16,-1.07M518.97,417.99l0.42,0.84M518.13,420.3l-0.12,1.03M516.49,419.01l-0.53,-0.26M515.95,419.6l-0.69,0.71M516.91,419.64l0.98,0.2M511.88,418.86l1.05,0.46M512.88,415.91l0.28,1.21M512.45,416.25l-0.59,1.06M511.47,417.91l0.48,0.24M510.55,416.58l-0.08,1.04M509.16,417.52l-0.07,0.79M508.41,414.58l-1.24,0.92M505.63,415.79l-1,-0.27M507.71,416.71l0.71,-0.29M505.37,415.11l0.86,0.33M502.67,415.83l0,0.1M505.03,416.12l-0.13,0.06M501.9,413.49l-1.09,0.94M500.73,412.63l-1.3,0.69M501.63,414.55l0.25,0.51M500.71,411.67l-0.63,-0.67M499.36,411.87l1.13,-0.51M500.13,411.94l0.27,0.43M496.64,411.43l-0.2,0.71M496.99,412.74l-1.35,0.09M499.56,411.65l0.04,-0.18M495.57,411.08l0.36,-0.35M497.17,411.53l-0.45,-0.9M497.65,413.63l1.14,-0.54M494.79,413.51l1.3,-0.28M496.76,412.48l1.26,0.51M494.59,411.79l-1.35,0.94" stroke="#5058cc" stroke-width="0.45" fill="none"/>
<path d="M519.29,416.14h0.6M556.74,413.8h0.6M564.44,419.33h0.6M555.79,421.98h0.6M513.38,403.25h0.6M555.2,415.79h0.6M535.73,411.32h0.6M548.82,418.3h0.6M551.59,412.73h0.6M539.36,409.58h0.6M497.09,408.79h0.6M523.19,406.63h0.6M527.35,413.2h0.6M526.75,418.01h0.6M501.56,406.67h0.6M517.18,414.31h0.6M542.54,424.4h0.6M536.94,413.78h0.6M532.03,406.4h0.6M533.05,413.55h0.6M552.23,413.52h0.6M533.05,420.47h0.6M536.51,413.94h0.6M516.56,409.19h0.6M539,420.35h0.6M544.39,418.21h0.6M504.7,406.45h0.6M509.97,409.77h0.6M523.24,418.76h0.6M558.66,419.02h0.6M537.35,424.77h0.6M501.14,406.75h0.6M559.79,420.35h0.6M561.51,419.63h0.6M512.12,416.74h0.6M542.52,416.14h0.6M520.39,412.92h0.6M548.02,418.1h0.6M556.62,419.81h0.6M532.7,420.25h0.6M543.93,427.11h0.6M507.87,410.44h0.6M553.21,416.05h0.6M548.09,415.08h0.6M515.93,404.29h0.6M502.32,407.36h0.6M499.3,409.04h0.6M523.07,413.46h0.6M541.52,415.7h0.6M512.43,403.59h0.6M531.64,417.43h0.6M531.05,406.3h0.6M556.95,419.23h0.6M549.52,421.43h0.6M540.87,409.48h0.6M536.12,420.17h0.6M550.77,417.58h0.6M532.96,419.29h0.6M544.51,414.59h0.6M537.13,409.27h0.6M505.71,406.51h0.6M528.06,407.56h0.6M546.1,419.84h0.6M501.45,405.31h0.6M529.3,420.07h0.6M532.9,414.28h0.6M554.69,426.46h0.6M522.7,410.81h0.6M555.16,420.87h0.6M533.22,410.84h0.6M548.82,415.62h0.6M532.52,421.15h0.6M525.68,419.89h0.6M539.36,416.71h0.6M517.33,409.99h0.6M522.24,404.18h0.6M523.1,410.01h0.6M520.12,411.08h0.6M516.64,409.75h0.6M499.78,411.13h0.6M552.66,427.6h0.6M511.44,414.37h0.6M524.05,413.52h0.6M542,423.18h0.6M560.28,422.25h0.6M560.2,417.99h0.6M540.76,421.4h0.6M557.53,419.39h0.6M553.37,422.27h0.6M556.85,424.93h0.6M553.6,423.34h0.6M550.83,423.48h0.6M547.72,414.9h0.6M543.17,413.95h0.6M557.77,424.51h0.6M525.66,405.73h0.6M502.34,408.26h0.6M551.15,422.3h0.6M544.91,424.44h0.6M534.73,419.43h0.6M523.2,406.48h0.6M523.28,419.1h0.6M558.75,415.4h0.6M543.51,415.7h0.6M545.04,428.36h0.6M538.5,423.76h0.6M522.6,407.62h0.6M515.08,407.36h0.6M547.46,417.66h0.6M530.13,406.83h0.6M545.53,426.14h0.6M543.77,411.52h0.6M529.79,408.57h0.6M509.45,408.64h0.6M512.77,412.27h0.6M506.55,410.43h0.6M520.1,415.98h0.6M560.25,413.92h0.6M520.84,412.73h0.6M530.28,414.84h0.6M531.63,409.37h0.6M532.91,421.73h0.6M548.84,412.46h0.6M535.77,422.59h0.6M555.85,412.77h0.6M498.65,408.58h0.6M540.09,425.79h0.6M541.53,420.37h0.6M537.02,412.29h0.6M549.03,424.33h0.6M537.37,417.89h0.6M543.28,428.3h0.6M523.71,411.58h0.6M530.79,415.37h0.6M523.61,418.87h0.6M541.9,421.84h0.6M559.35,424.42h0.6M560.39,418.26h0.6M527.94,417.7h0.6M525.4,416.71h0.6M527.7,411.51h0.6M520.71,405.38h0.6M557.89,416.27h0.6M517.18,408.03h0.6M541.05,416.61h0.6M536.21,415.44h0.6M534.41,421.55h0.6M518.6,412.05h0.6M532.1,413.96h0.6M541.57,412.4h0.6M531.01,414.88h0.6M532.9,420.66h0.6M561.8,415.8h0.6M538.75,418.27h0.6M554.04,412.71h0.6M554.66,421.32h0.6M527.7,412.58h0.6M564.56,417.6h0.6M522.02,408.98h0.6M551.78,426.78h0.6M538.13,423.78h0.6M503.98,403.73h0.6M517.16,403.64h0.6M519.47,413.13h0.6M516.77,409.01h0.6M527.88,404.67h0.6M543.79,418.47h0.6M557.17,421.04h0.6M515.64,408.08h0.6M539.6,422.75h0.6M523.67,417.94h0.6M548.8,422.01h0.6M507.61,404.9h0.6M555.61,412.47h0.6M508.16,411.89h0.6M563.77,417.69h0.6M550.84,414.62h0.6M497.81,410.93h0.6M557.13,422.38h0.6M523.29,410.8h0.6M546.26,417.74h0.6M517.89,412.12h0.6M504.51,413.84h0.6M541.56,423.27h0.6M525.96,409.29h0.6M498.18,407.75h0.6M544.17,415.47h0.6M547.76,417.13h0.6M531.85,408.75h0.6M522.38,404.25h0.6M527.19,418.84h0.6M521.16,413.31h0.6M552.67,422.94h0.6M522.73,403.38h0.6M519.22,403.4h0.6M540.57,423.24h0.6M500.09,412.23h0.6M556.14,417.84h0.6M524,415.56h0.6M544.15,415.59h0.6M557.27,413.61h0.6M506.74,411.91h0.6M538.64,411.67h0.6M527.46,406.38h0.6M500.43,413.43h0.6M516.62,409.17h0.6M559.06,422.64h0.6M505.15,410.1h0.6M509.17,404.24h0.6M558.42,422.21h0.6M526.1,420.38h0.6M562.11,421.15h0.6M542.4,419.35h0.6M503.56,411.27h0.6M531.85,421.41h0.6M531.13,412.2h0.6M553.96,413.2h0.6M515.23,415.09h0.6M530.54,412.33h0.6M507.35,409h0.6M513.1,413.07h0.6M525.19,418.48h0.6M564.49,417.75h0.6M516.76,413.3h0.6M537.56,409.55h0.6M531.25,420.38h0.6M560.15,423.62h0.6M524.32,416.37h0.6M520.84,412.51h0.6M512.5,405.09h0.6M512.3,412.6h0.6M518.43,415.19h0.6M538.24,410.87h0.6M521.7,402.24h0.6M510.09,414.43h0.6M539.89,414.44h0.6M531.93,418.1h0.6M508.98,405.74h0.6M543.6,417.43h0.6M504.3,412.52h0.6M495.47,411.23h0.6M542.44,415.01h0.6M535.42,416.84h0.6M525.54,418.69h0.6M498.98,408.76h0.6M538.3,424.8h0.6M505.42,411.64h0.6M536.25,421.51h0.6" stroke="#e0a438" stroke-width="0.5" fill="none" opacity="0.8"/>
<path d="M570.5,435.5 L578.8,433 L590.5,426 L604.5,415.5 L616.2,405 L623.5,396.8 L625,385 L627.5,386 L626.5,397.5 L619,407.5 L607,418 L593,428.5 L581,435.5 L571,438 Z" fill="#e3a030" opacity="0.75"/>
<path d="M603.11,420.01h0.7M597.52,423.05h0.7M624.74,389.16h0.7M592,426.64h0.7M610.38,410.45h0.7M609.77,413.57h0.7M585.54,430.17h0.7M597.23,422.58h0.7M618.39,405.75h0.7M625.38,386.18h0.7M623.38,399.07h0.7M612.59,409.6h0.7M606.75,417.93h0.7M593.32,424.19h0.7M626.54,392.85h0.7M619.84,403.82h0.7M613.11,409.16h0.7M597.71,423.52h0.7M620.08,406.03h0.7M616.91,408.86h0.7M624.18,392.96h0.7M583.91,430.09h0.7M598.43,424.04h0.7M590.66,428.84h0.7M595.53,422.71h0.7M615.58,405.73h0.7M625.88,397.55h0.7M608.08,416.01h0.7M619.02,402.09h0.7M611.82,409.51h0.7M619.83,404.59h0.7M601.9,421.66h0.7M615.13,410.59h0.7" stroke="#f0b030" stroke-width="0.7" fill="none"/>
<path d="M570.6,434.9 L571.22,433.17 L572.11,430.66 L573.11,427.95 L574.1,425.6 L575.01,423.75 L575.93,422.11 L576.9,420.57 L578,419 L579.26,417.39 L580.65,415.79 L582.09,414.23 L583.5,412.7 L584.86,411.21 L586.21,409.76 L587.58,408.35 L589,407 L590.51,405.71 L592.09,404.47 L593.65,403.3 L595.1,402.2 L596.36,401.19 L597.51,400.26 L598.67,399.37 L600,398.5 L601.6,397.64 L603.38,396.82 L605.17,396.01 L606.8,395.2 L608.18,394.41 L609.42,393.63 L610.65,392.84 L612,392 L613.58,391.06 L615.28,390.05 L616.97,389.07 L618.5,388.2 L619.88,387.43 L621.17,386.72 L622.31,386.15 L623.2,385.8 L623.83,385.54 L624.23,385.38 L624.44,385.61 L624.5,386.5 L624.4,388.46 L624.13,391.24 L623.72,394.12 L623.2,396.4 L622.55,397.84 L621.76,398.82 L620.89,399.62 L620,400.5 L619.15,401.47 L618.29,402.41 L617.33,403.4 L616.2,404.5 L614.8,405.78 L613.21,407.19 L611.56,408.62 L610,410 L608.62,411.27 L607.33,412.5 L606,413.73 L604.5,415 L602.74,416.35 L600.81,417.74 L598.85,419.14 L597,420.5 L595.3,421.83 L593.69,423.15 L592.1,424.42 L590.5,425.6 L588.84,426.68 L587.17,427.68 L585.53,428.61 L584,429.5 L582.65,430.32 L581.43,431.07 L580.2,431.82 L578.8,432.6 L577.01,433.53 L574.97,434.54 L573.1,435.46 L571.8,436.1 Z" fill="#6066d8" opacity="0.85"/>
<path d="M578.31,423.54l-1.41,0.73M581.18,415.32l-0.03,1.19M588.59,423.22l-1.06,0.72M598.29,413.01l0.64,0.44M605.6,406.83l1.34,0.32M612.41,392.52l0.74,1.09M621.18,394.08l1.2,0.74M604.48,409.69l0.1,0.75M605.43,398.63l0.28,1.51M597.32,405.44l0.43,0.86M597.79,409.62l-0.98,0.08M606.45,397.37l0.97,0.92M616.92,391.43l0.71,0.96M571.37,434.51l1.37,0.08M614.59,404.89l-0.72,0.47M579.17,423.89l-0.06,1.14M602.31,410.65l-1.05,0.4M577.89,427.99l-0.38,0.92M595.8,420.25l0.72,0.23M595.55,413.4l-0.54,0.76M587.31,412.45l1.05,0.61M596.08,417.63l0.69,1.38M620.56,391.38l0.73,0.52M595.56,413.06l-0.8,1.2M593.18,417.65l-1,0.08M608.66,406.39l-1.1,0.34M591.42,408.14l-0.5,1.25M602.74,403.6l0.04,1.16M588.66,419.01l-1.57,0.23M598.95,401.99l-0.37,1.27M574.84,426.82l1.05,0.01M595.03,407.02l0.08,1.16M593.94,411.88l-0.23,1.56M591.75,406.48l0.64,0.59M616.01,401.71l-0.53,0.48M597.46,401.14l0.93,1.29M600.44,414.92l-0.37,0.86M586.79,422.22l0.64,1.16M584.54,425.3l0.98,1.23M589.76,414.66l0.59,1.25M601.93,410.86l0.66,0.4M584.19,429.26l-1.04,0.25M621.88,391.51l0.2,0.74M597.33,402.83l-1.58,0.08M607.27,408.99l-0.55,0.48M579,427.96l-0.07,1.31M612.76,402.72l-0.95,1.04M598.11,412.3l0.1,1.1M617.49,398.12l0.27,1M598.48,403.07l0.33,0.73M603.27,403.6l-0.43,0.69M598.54,408l-0.32,0.69M602.38,400.86l0.74,1.38M623.45,394.06l1.02,0.54M597.77,408.38l1.04,0.68M578.11,420.48l0.67,0.19M617.4,402.42l0.33,1.11M585.14,419.33l-0.1,1.2M603.77,398.37l-0.07,1.18M598.14,415.81l0.9,0.5M583.34,413.26l-0.56,0.75M603.64,397.46l-0.45,0.69M592.68,415.09l0.67,0.44M603.61,411.55l-0.8,0.45M596.76,405.06l-0.26,0.68M596.39,403.2l0.06,1.06M592.83,404.25l1.19,0.79M583.15,422.59l1.18,0.33M592.34,418.73l0.39,1.42M615.37,402.18l-0.21,1.57M610.64,396.48l0.05,0.77M584.64,426.87l1.06,0.67M593.16,418.86l-1.07,1M610.4,399.07l-1.31,0.89M588,416.63l1.29,0.19M622.41,397.69l0.58,0.64M589.22,407.34l-1.04,0.65M602.43,406.2l-0.2,0.67M579.36,428.71l-1.17,0.29M606.44,407.55l0.52,1.11M608.09,397.79l0.69,0.98M588.25,413.15l-0.58,1.1M583.86,414.04l0.26,0.68M589.31,419.02l-0.97,0.42M588.75,426.05l-0.04,0.91M609.15,396.14l-1.42,0.22M596.03,415.97l0.84,0.07M612.46,398.38l-0.96,0.43M606.46,404.24l1.3,0.07M585.85,413.98l-0.71,0.97M588.4,417.15l-0.83,0.1M613.82,404.23l0.75,0.63M576.33,428.8l-0.59,1.2M593.74,412.1l1.31,0.17M587.52,410.77l1.07,0M588.61,422.58l0.66,0.33M615.58,401.29l-1.3,0.39M593.5,420.52l1.36,0.36M573.13,434.23l-0.8,1.32M605.34,405.84l-0.01,1.11M574.83,428.44l0.77,0.46M587.96,421.09l0.27,0.94M602.29,401.18l1.19,0.77M594.94,420.87l1.58,0.14M584.99,421.75l0.6,1.01M585.26,423.55l0.54,0.97M606.16,406.14l-0.99,0.38M594.23,407.69l-1.45,0.43M589.4,415.11l-0.87,0.16M595.03,416.35l-1.29,0.81M619.91,393.47l0.37,0.64M593.99,416.85l-0.79,0.14M577.12,420.71l0.71,0.28M606.71,407.11l-0.49,0.85M589.9,418.73l1.21,0.37M598.73,406.6l-0.97,0.72M604.22,414.37l-1.01,0.51M580.15,424.79l0.25,0.91M579.58,421.33l1.16,0.74M620.32,397.14l1.56,0.3M615.69,391.11l-1.27,0.33M617.97,394.48l-1.15,0.5M585.33,414.59l-0.61,0.52M584.69,422.59l-1.04,0.45M575.57,423.93l-0.59,0.39M613.48,394.77l1.21,0.81M604.94,401.74l1.24,0.34M623.91,387.54l0.05,1.05M587.56,415.54l-0.25,1.31M601.77,409.31l-0.8,0.05M595.77,401.72l-1.14,0.08M571.59,434.59l0.39,1.32M596.33,407.96l-0.25,1.22M576.67,430.2l0.75,0.55M602.31,409.53l-1.42,0.21M589.66,418.89l1.18,1.01M596.37,406.63l-0.63,1.25M592.46,417.24l-0.9,0.38M609.46,402.06l0.44,0.68M575.37,426.26l-1.02,0.66M600.14,411.77l-0.63,0.46M609.09,400.83l-1.16,0.78M589.77,417.53l0.44,0.68M596.57,412.95l-1.25,0.29M594.81,410.17l-1.01,0.77M592.97,404.51l-0.88,0.94M614.94,397.99l-0.65,0.71M589,425.05l1.25,0.08M587.35,409.48l0.66,0.58M581.45,418.73l-1.07,0.42M592.57,423.4l1.26,0.43M603.26,400.06l1.08,0.56M596.44,416.34l0.51,0.69M609.47,397.87l0.59,0.65M586.26,414.01l1.25,0.46M592.69,417.99l-1.5,0.17M590.51,412.53l-0.71,0.69M621.43,392.62l0.02,1.16M586.2,414l0,1.03M619.76,391.98l0.7,0.24M614.93,394.62l1.3,0.25M601.62,399.73l-1.01,0.39M596.23,409.62l-1.38,0.47M607.43,406.46l1.09,0.99M581.19,423.71l0.29,1.42M603.89,400.21l-0.71,0.5M577.33,430.53l-1.02,0.99M588.4,422.95l1.47,0.16M606.56,411.73l0.43,0.63M609.91,397.86l0.16,1.07M584.84,418.27l-0.72,1.18M599.72,417.7l-0.03,1.46M578.51,427.96l0.87,0.98M610.16,408.91l-0.96,0.38M580.38,420.9l0.91,0.09M594.1,415.22l0.47,0.89M609.97,400.14l0.96,1.27M573.64,433.18l-0.85,0.81M578.8,418.91l0.12,1.02M590.56,417.06l-0.34,0.7M598.43,415.87l0.61,0.84M619.81,395.02l0.62,1.35M610.16,407.58l-1.35,0.27M598.67,406.05l-1.23,0.95M590.41,422.25l-0.77,0.06M623.98,390.07l0.74,0.02M617.79,401l-1.15,0.5M572.44,435.34l1.36,0.75M611.48,395.71l0.15,0.77M616.76,402.57l1.35,0.11M608.06,410.89l-0.72,0.69M586.17,413.39l-0.28,0.7M592.67,415.86l1.5,0.5M596.48,419.64l-1.29,0.64M611.64,401.67l1.27,0.29M571.99,434.33l-0.35,1.03M584.57,420.59l1.04,0.3M586.35,420.6l-0.21,1.22M596.49,416.91l1.51,0.13M614.95,393.32l0.42,1.44M592.71,413.86l0.28,1.43M613.2,399.48l-1.59,0.03M617.35,393.31l-0.01,0.85M580.19,430.97l-1.18,0.4M623.32,393.27l-1.24,0.74M605.01,408.49l0.46,1.1M591.49,406.45l-1.16,0.67M594.24,421.71l1.37,0.19M596.83,404.09l-0.92,0.02M611.74,398.4l-0.99,1.13M603.8,398.85l0.76,0.88M590.69,422.4l0.38,0.63M573.36,434.54l0.35,1.28M589.5,417.94l-0.12,1.1M597.43,407.24l-0.74,0.36M618.42,401.45l-0.53,0.49M597.06,406.07l-0.49,0.86M584.92,426.5l0.56,0.6M623.16,393.02l-1.28,0.87M612.04,397.3l1.23,0.5M613.41,396.1l-0.64,0.87M605.38,402.81l-0.73,0.15M617.03,389.76l0.15,1.06M571.34,434.69l0.72,0.9M622.72,394.39l-0.77,0.92M578.7,429.72l-1.4,0.66M589.72,424.67l0.08,1.18M584.89,424.7l1.4,0.08M614.17,394.58l-1.19,0.48M591.7,423.29l0.44,0.91M584.91,414.33l-0.03,0.97M572.5,430.2l-0.61,1.11M614.44,397.78l0.5,0.64M605.56,404.67l-0.43,1.01M616.85,398.01l-0.36,0.72M592.96,408.96l0.5,0.96M609.23,406.47l-0.4,1.45M614.33,405.2l0.16,1.02M616.06,389.7l-0.68,0.91M619.98,388.07l1.23,0.08M580.25,428.12l1.24,0.46M597.7,401.92l-0.35,0.9M623.77,388.38l-0.97,0.3M575.59,423.97l0.73,1.21M608.96,408.94l-0.71,0.15M589.24,424.53l0.35,1.52M609.5,409.84l0.91,0.93M600.12,408.51l-0.92,0.52M599.81,409.79l0.66,0.38M603.87,411.37l-1.26,0.22M591.26,409.98l-0.68,1.07M621.47,392.54l-0.09,1.51M619.08,398.27l-0.97,0.37M609.4,396.99l0.68,1.05M593.75,417.43l-0.75,0.32M617.12,391.46l-0.13,1.39M604.44,404.46l-0.97,1.24M590.2,407.4l-0.24,1.38M613.75,402.07l-1.21,0.21M581.89,425.45l1.4,0.11M596.56,412.01l0.74,0.14M600.12,411.99l0.17,1.37M604.56,402.83l1.36,0.26M588.3,421.44l-1.5,0.09M613.91,398.97l0.71,1.26M591.99,417.44l0.82,0.44M613,392.66l-0.1,0.86M573.02,434.29l-1.41,0.17M594.99,410.24l1.46,0.14M618.64,399.86l1.15,0.37M599.57,410.11l0.96,0.17M584.79,424.57l0.68,0.35M593.06,420.15l0.98,0.22M587.97,411.41l-0.79,1.3M606.77,397.58l-1.11,0M592.77,421.85l0.46,1.42M610.46,400.59l0.32,1.52M583.68,414.13l1.01,1.21M600.53,412.62l-0.34,0.74M619.5,388.72l0.24,1.23M588.47,408.23l0.54,1.03M615.17,396.49l1.14,0.11M597.07,407.4l-0.3,0.95M595,409.44l0.44,0.81M585.41,413.01l0.33,0.75M574.17,433.45l0.87,0.49M610.14,405.86l-0.38,0.69M608.87,395.8l-1.23,0.07M617.79,401.62l-1.47,0.18M576.7,429.52l-0.14,1.04M573.86,434.96l0.13,0.94M604.62,403.46l-0.83,0.14M611.62,393.14l0.59,0.69M606.38,411.63l-1.13,0.1M572.47,435.28l-1.47,0.27M594.42,418.34l-0.73,0.41M607.26,406.12l1.03,0.76M602.33,408.89l0.15,1.31M612.97,396.14l0.39,1.47M600.37,401.07l1.07,0.53M581.06,415.55l0.89,0.49M586.36,421.48l1.34,0.72M593.91,405.06l0.08,1.17M590.88,411.37l0.66,0.82M586.55,427.75l1.02,0.92M617.77,393.06l-0.96,0.4M623.23,393.99l-0.67,0.79M595.42,417.24l-0.16,1.02M616.93,403.65l0.76,0.1M581.58,428.66l-0.87,0.29M590.96,408.98l0.78,0.23M619.14,389.79l-1.14,0.22M594.98,412.08l0.19,1.08M620.95,387.2l0.2,1.12M604.29,405.2l1.09,0.31M620.28,392.47l-0.61,1.43M608.04,406.25l0.77,0.08M610.16,401.87l0.5,1.35M586.53,427.85l-0.14,1.53M596.11,404.4l1.23,0.67M619.6,393.64l-1.04,1.01M607.15,408.75l-0.98,0.16M591.54,405.77l0.47,0.86M618.97,397.62l0.89,0.91M588.65,419.41l-0.69,0.68M605.62,412.34l-0.58,0.57M622.02,388.93l-0,1.09M600.83,407.69l0.9,1.02M607.57,412.02l0.26,1.1M599.52,406.31l-0.93,0.22M589.75,419.53l0.56,0.45M621.69,396.33l0.6,0.6M605.03,403.5l-1.3,0.64M613.98,401.99l0.97,0.23M615.66,400.62l0.83,0.69M622.43,390.05l-0.42,1.44M581.21,423.81l0.33,0.95M582.42,417.8l0.33,1.07M602.13,411.81l0.5,0.59M619.97,393.07l-0.52,0.7M597.26,416.17l-0.12,1.44M590,417.16l1.08,0.46M616.21,400.78l1.35,0.61M576.04,431.75l0.32,0.86M623.67,388.57l0.58,1.43M579.7,418.08l-0.81,0.36M602.34,407.9l-0.75,1.37M613.64,394.03l-1.35,0.58M579.88,418.6l-0.52,0.61M593.35,405.71l1,0.04M599.4,412.07l-1.05,1.13M606.32,407.42l-1.45,0.53M603.03,410.23l1.01,0.46M615.95,394.92l0.12,0.83M585.02,413.73l0.96,0.19M579.73,418.15l-0.4,0.84M608.17,399.55l-0,0.9M582.27,419.53l-0.41,0.62M614.62,395.19l0.82,0.21M607.07,406.63l0.33,0.68M592.85,422.47l1.23,0.24M597.42,419.67l-0.84,0.17M602.79,405.94l0.13,1.48M593.66,409.01l0.71,0.85M596.56,403.37l0.76,1.01M598.86,417.59l0.86,0.2M584.46,412.89l-0.06,1.19M575.85,431.52l-0.31,1.38M588.64,415.95l0.63,1.16M603.32,400.27l-0.69,0.44M582.58,415.47l1.15,0.65M594.19,411.84l0.26,0.86M584.51,427.74l-0.93,0.37M592.13,411.56l0.25,0.82M601.7,409.73l1.49,0.17M593.05,407.05l-0.94,0.3M583.72,422.85l-0.76,0.16M617.36,402.8l0.45,1.32M598.46,403.5l0.21,0.75M609.03,403.24l-1.26,0.84M577.29,432.17l0.87,0.66M587.33,422.4l-1.18,0.27M589.71,407.51l0.93,0.82M577.49,420.25l1.08,0.8M580.61,426.64l0.14,1.51M599.67,399.5l1.24,0.32M587.03,419.67l-0.99,0.29M606.83,403.8l0.75,0.45M583.63,423.17l-0.36,0.87M578.21,432.09l0.07,1.39M596.11,405.33l1.35,0.49M600.31,403.55l0.95,0.51M600.69,408.81l0.23,0.77M578.09,427.26l-0.58,0.65M609.61,403.38l-0.79,0.74M601.64,413.65l-0.78,0.2M602.2,405.98l0.84,0.5M588.33,425.95l-0.04,1.24M579.45,431.69l-0.07,1.32M585.58,411.04l-0.91,0.61M604.43,401.21l-0.75,0.94M610.24,395.24l-0.99,0.33M574.61,434.56l0.18,1.52M579.48,429.42l0.71,0.75M592.2,419.64l-1,0.02M599.19,404.48l-0.87,0.57M578.37,431.25l-0.91,0.72M584.7,411.71l0.42,0.9M585.67,415.85l-1.31,0.35M605.3,406.82l1.14,0.44M599.49,413.18l-1.04,0.94M596.75,418.32l0.42,1.18M590.43,415.65l0.6,0.89M614.98,403.77l0.95,0.54M595.31,420.74l0.97,0.53M615.44,399.62l0.72,0.34M618.5,401.68l1.46,0.17M593.75,411.05l-1.16,0.84M597.95,417.07l-1.46,0.34M614.86,399.27l0.19,0.9M612.03,398.87l-1.46,0.62M621.72,387.57l-1.13,0.16M593.59,410.97l-1.47,0.41M581.65,424.14l0.58,1.34M578.23,424.79l-0.43,0.76M573.21,432.54l0.98,0.74M592.78,409.07l-0.88,0.42M616.01,391.2l-1.4,0.69M597.81,410.93l0.01,1.01M572.96,432.07l0.04,1.01M620.47,397.65l0.1,0.8M589.78,412.55l0.6,1.2M580.53,421.54l0.65,1.34M583.03,424.73l1.22,0.13M611.49,395.43l-0.77,1.16M622.13,397.86l0.73,0.14M587.43,413.46l-0.82,1.18M617.16,396.69l1.48,0.16M620.27,397.3l1.2,0.92M611.39,393.38l1.01,0.13M623.81,388.95l0.95,0.33M617.92,393.29l0.31,1.42M608.1,409.56l-0.23,0.88M592.62,405.51l0.7,0.01M599.96,413.73l-0.5,1.08M602.18,410.77l0.01,1.52M604.1,412.71l-0.29,1.07M594.26,412.98l1.04,0.99M591.87,423.72l-0.36,0.79M576.65,424.71l0.92,0.22M603.97,397.72l0.22,1.51M593.43,419.27l0.71,0.37M580.6,421.83l0.27,1.05M603.46,401.02l0.06,1.05M583.32,427.63l-0.95,0.83M585.57,422.15l-0.23,1.05M598.34,403.71l1.14,0.84M587.26,424.71l0.94,1.3M598.25,407.93l-0.67,1.05M596.81,403.92l-0.54,1M589.01,418.5l-0.58,0.89M577.74,425.11l0.24,0.8M586.78,417.93l-1.14,0.81M605.13,405.98l0.95,0.31M594.88,408.2l0.42,0.91M616.45,400.27l-0.18,1.5M614.34,393.36l-0.78,0.83M589.1,421.44l0.78,0.06M575.37,424.49l0.33,0.63M577.21,429.38l0.19,0.8M597.29,417.29l-0.66,0.25M612.98,394.42l0.43,0.65M621.35,387.75l-0.74,1.13M616.97,397.82l-1.35,0.21M580.59,422.22l-1.37,0.8M580.28,421.44l0.74,0.85M586.6,427.44l-0.32,1.19M580.27,424.93l-0.81,0.82M610.39,393.34l0.98,1.18M606.6,398.17l0.05,0.83M617.54,394.03l-0.81,0.77M586.76,425.97l1.17,0.57M582.93,415.05l-0.41,1.09M579.12,427.02l-0.57,0.72M610.05,400.76l0.5,1.49M595.53,403.52l0.56,0.49M584.76,412.09l-0.25,0.9M583.47,429.26l-1.46,0.6M572.55,432.02l-0.2,0.91M610.55,401.75l-0.45,0.83M617.69,395.86l0.3,1.32M580.72,423.74l-0.61,0.52M615.39,390.54l1.27,0.54M576.27,432.32l-0.61,1.12M622.34,392.75l-1.3,0.39M592.46,420.32l-1.26,0.68M589.09,420.34l-0.89,0.38M572.66,432.25l0.01,1.08M592.08,411.05l-0.65,0.75M617.97,396.61l-0.55,1.22M579.55,428.64l1.15,0.01M623.69,387.85l1.58,0.25M609.79,410.12l-1.02,0.03M601.19,414.31l-0.8,0.27M576.8,424.54l-0.25,1.19M603.69,402.28l-0.39,0.77M621.37,396.42l0.95,0.22M583.49,419.62l-0.23,0.82M613.21,399.48l0.39,1.26M577.6,423.64l-0.34,0.84M610.91,398.66l-0.44,1.06M576.46,421.82l1.42,0.68M579.45,427.38l-1.26,0.16M605.05,409.71l0.99,0.03M575.05,429.45l1.01,0.86M598.42,401.22l-0.95,1.19M573.05,433.21l-0.15,0.95M619.75,394.4l-1.26,0.75M595.78,415.7l0.45,0.89M607.22,406.35l-0.68,0.36M578.42,428.61l-1.35,0.39M584.28,422.38l-1.27,0.51M584.77,420.84l-0.67,0.31M600.57,403.05l-0.18,0.98M598.22,400l-0.86,0.17M614.07,394.78l1.4,0.17M587.77,409.68l0.76,0.12M595.88,413.7l-1.25,0.4M597.93,414.53l1.1,0.64M604.89,399.7l0.44,0.54M618.05,400.78l-0.23,1.35M601.07,404.24l-0.84,0.96M600.52,413l0.53,0.57M622.68,386.04l-0.98,0M598.86,399.73l-0.46,1.23M623.51,392.73l-0.37,0.8M606.02,410.09l0.77,0.19M604.4,397.46l0.48,0.91M604.9,402.34l-0.52,1.47M588.28,407.92l-0.21,0.75M603.31,401.3l0.64,1.05M591.56,421.38l-0.94,0.15M576.1,421.86l-0.69,0.46M616.04,396.92l-1.16,0.31M582.8,417.09l-0.49,0.76M605.47,412.33l-0.32,0.77M615.65,397.25l1.08,0.74M604.99,398.79l-0.52,0.86M598.94,401.94l0.77,0.77M606.02,400.07l0.9,1.08M612.36,404.52l0.75,1.05M605.54,412.48l0.98,0.29M623.27,390.9l0.33,1.46M621.75,393.65l0.86,0.45M612.79,400.71l0.5,1.42M594.13,405.49l-0.87,0.95M598.72,406.4l-1,0.06M600.23,414.19l0.51,0.83M579.49,426.28l0.3,0.96M604.03,402.54l-1.01,0.09M591.25,422.22l0.98,0.31M596.35,412.11l-1.29,0.46M597.03,411.44l1.35,0.5M608.72,396.59l-0.81,0.03M589.38,409.54l-0.59,1.07M572.12,433.85l0.93,0.02M596.51,408.71l0.77,0.75M601.01,407.79l-1.49,0.04M592.72,419.29l-0.37,1.33M615.27,405.32l1.09,0.48M591.79,405.88l-0.26,0.7M605.53,398.03l-0.96,0.14M582.88,418.65l0.89,0.21M595.88,412.99l-1.32,0.6M601.19,414.99l1.05,0.38M586,417.5l-0.23,1.36M604.05,412.8l0.72,1.4M592.89,408.15l0.43,1.35M607.31,404.9l0.96,1.22M620.36,391.89l1,0.3M574.94,432.05l1,1.09M576.17,431l0.65,0.74M592.1,407.7l1.21,0.14M592.97,421.04l-0.1,0.98M616.9,396.3l-0.94,0.02M584.25,420.45l0.04,1.06M579.58,430.85l0.72,0.6M592.91,421.84l-0.49,0.67M589.26,412.05l-0.78,0.03M606.59,402.09l-0.76,0.51M607.87,406.33l0.41,0.88M620.68,394.21l1.16,1.07M600.22,404.98l1.18,0.75M619.16,389.75l-0.55,0.53M594.51,415.3l0.45,0.69M605.5,410.92l0.54,1.1M621.94,393.05l-0.98,0.39M615.96,390.6l-1.09,0.04M613.22,396.87l-0.2,0.72M600.11,402.65l0.86,0.85M577.65,424.15l1.35,0.51M608.9,409.66l-0.67,0.97M596.42,416.63l-0.97,0.36M602.4,401.63l-0.7,0.12M589.19,407.14l-0.7,0.31M619.86,395.58l-0.87,0.51M615.01,403.27l1.03,0.98M599.21,406.43l0.89,0.54M589.83,408.01l-0.64,0.59M582.07,415.52l0.21,0.74M613.11,395.49l0.26,0.79M617.21,394.32l1.03,0.45M610.43,401.99l1.1,0.63M586.79,417.91l0.63,0.41M596.62,401.68l1.41,0.05M597.92,415.29l-0.88,0.79M589.85,417.81l0.86,0.21M594.32,406.13l-0.48,0.87M574,433.06l0.79,1.28M602.01,405.86l1.33,0.07M591.12,417.55l-0.49,1.32M591.23,419.55l-0.28,1.53M613.82,404.77l-1.08,0.34M590.33,411.14l-0.91,0.38M588.3,420.33l0.78,0.96M597.24,411.04l0.48,0.64M583.1,428.99l-0.59,1.43M610.24,393.62l-0.55,0.75M590.47,409.17l0.46,1.06M617.97,389.81l0.82,0.31M600.71,411.52l0.97,1.25M582.92,422.3l1.03,0.24M582.54,421.14l-0.45,1.28M607.9,403.08l-0.32,0.63M618.4,401.19l1.46,0.47M585.55,419.71l1.02,0.58M573.09,432.22l0.54,0.75M621.49,388.75l1.06,0.14M581.08,428.19l-0.99,0.1M596.75,402.81l0.6,0.49M596.65,406.76l-0.54,1.19M613.94,398.7l-1.33,0.61M597.24,411.85l-0.6,1.34M588.7,423.56l-0.17,1.25M587.65,427.34l1.15,0.25M591.02,419.3l-1.15,0.18M621.82,388.39l0.6,0.65M590.35,412.35l-1.17,0.29M577.33,432.47l0.24,1.02M613.69,397.02l-1.01,0.2M595.55,421.17l0.43,1.18M600.77,399.04l-0.86,1.05M604.62,402.1l0.17,1.03M596.56,414.11l0.8,0.03M623.88,390.68l1.44,0.15M613.96,405.75l-0.24,0.68M602.5,413.57l0.01,0.78M620.4,400.01l-0.19,1.42M572.7,431.89l1.4,0.25M589.45,414.67l-0.86,0.48M583.92,425.9l1.49,0.24M572.4,433.53l1.46,0.08M578.2,425.36l1.51,0.43M586.4,410.72l1.14,0.48M623.51,388.46l-0.68,0.39M592.73,417.74l-1.18,0.97M616.63,394.34l-1.06,0.74M596.15,421.13l-0.59,1.47M590.6,415.12l0.64,1.37M578.18,428.28l-0.15,0.76M623.52,386.48l0.32,1.19M605.23,411.04l-1.05,0.95M599.96,401.64l0.03,0.86M611.24,392.72l-1.38,0.11M597.09,416.2l-1.48,0.23M602.51,401.43l0.86,1.34M578.75,422.64l0.71,1.37M578.4,429.46l-0.23,0.7M592.65,412.53l-0.51,0.56M590.38,410.69l0.7,0.55M622.14,390.25l0.61,0.63M584.18,426.47l0.69,0.15M604.24,405.13l0.16,1.09M591.71,423.12l-0.42,1.3M591.2,423.48l-0.62,0.36M602.8,411.15l-1.57,0.2M594.94,403.98l-0.52,0.99M604.86,406.07l0.15,0.8M585.88,423.19l0.94,0.04M622.19,388.42l0.07,1.59M602.8,400.83l-1.23,0.88M590.89,411.5l0.73,0.85M577.29,432l1.24,0.5M615.41,402.5l-1.19,0.06M594.52,417.09l-1.54,0.25M593.1,419.2l1.1,1.03M603.74,407.32l-0.23,0.81M596.71,412.86l-0.56,0.44M611.16,402.4l0.95,0.04M598.84,409.88l0.78,1.01M601.98,402.41l-1.06,0.5M584.91,417.71l0.97,0.18M591.63,421.22l0.81,0.87M621.87,387.17l0.58,0.39M578.33,425.26l0.17,0.89M594.05,413.48l0.42,0.69M608.72,398.86l1.19,0.51M601.21,398.83l-0.11,0.83M594.33,414.9l1.48,0.22M607.52,402.37l-0.6,0.93M591.28,414.49l0.56,0.8M594.47,412.51l0.67,0.41M620.23,390.86l0.07,0.85M620.8,398.26l0.71,0.3M589.14,425.43l0.89,0.31M578.84,418.58l-0.41,0.57M578.4,428.44l0.63,0.73M593.16,420.99l-1.38,0.38M593.62,411.41l0.88,0.78M601.97,398.06l1.05,0.29M588.76,409l0.58,0.61M610.8,392.86l0.67,0.28M592.29,409.11l0.87,1.25M622.24,391.75l0.06,0.96M621.92,398.23l0.44,0.71M592.69,407.1l1.23,0.83M617.3,397.95l0.26,0.68M582,428.68l1.23,0.24M604.37,401.14l0.45,1.02M583.13,427.87l-1.07,0.68M575.78,429l1.51,0.15M613.32,397.73l-1.13,0.17M592.22,418.8l0.79,0.45M615.19,404.62l-1.19,0.7M615.52,404.75l0.69,0.35M596.07,416.32l0.45,1.27M611.61,397.08l-0.02,1.31M605.61,401.3l-0.68,0.35" stroke="#3f45bf" stroke-width="0.4" fill="none"/>
<path d="M624.01,389.04h0.45M601.38,412.18h0.45M592.26,407.82h0.45M622.37,397.86h0.45M620.79,392.61h0.45M619.6,397.36h0.45M583.77,417.98h0.45M591.4,417.33h0.45M609.32,398.31h0.45M593.22,420.09h0.45M611.15,396.97h0.45M577.87,429.7h0.45M617.63,394.58h0.45M612.62,394.56h0.45M613.19,400.03h0.45M596.02,420.02h0.45M598.97,404.01h0.45M608.77,395.47h0.45M596.18,416.02h0.45M572.7,434.43h0.45M576.73,422.33h0.45M610.51,399.87h0.45M588.53,414.49h0.45M582.81,426.87h0.45M590.77,414.31h0.45M600.39,403.04h0.45M617.15,393.83h0.45M598.24,404.57h0.45M583.6,419.85h0.45M584.12,421.97h0.45M607.48,402.22h0.45M619.37,394.31h0.45M582.82,419.3h0.45M603.27,409.72h0.45M611.63,403.62h0.45M592.76,416h0.45M580.83,423.61h0.45M610.25,393.47h0.45M600.58,402.71h0.45M607.88,402.34h0.45M587.05,419.47h0.45M573.71,431.49h0.45M594.87,410.59h0.45M589.77,412.74h0.45M622.86,390.8h0.45M618.21,397.3h0.45M578.15,426.7h0.45M607.56,408.24h0.45M582.05,430.06h0.45M607.87,397.94h0.45M579.87,417.89h0.45M616.04,401.47h0.45M591,413.18h0.45M607.95,408.2h0.45M614.57,403.97h0.45M603.03,406.79h0.45M592.35,419.06h0.45M595.66,416.38h0.45M585.25,415.24h0.45M578.89,422.54h0.45M602.48,402.47h0.45M603.17,400.51h0.45M617.19,393.41h0.45M589.76,424.34h0.45M601.6,415.32h0.45M588.61,426.65h0.45M622.03,397.06h0.45M602.42,397.38h0.45M617.53,401.28h0.45M588.91,417.58h0.45M595.83,412.34h0.45M584.25,411.95h0.45M622.31,389.32h0.45M582.16,422.26h0.45M597.6,411.47h0.45M601.31,410.77h0.45M618.25,396.81h0.45M586.97,424.79h0.45M592.43,409.04h0.45M612.81,395.24h0.45M582.8,425.44h0.45M589.38,420.31h0.45M582.39,415.24h0.45M623.05,393.41h0.45M574.51,430.09h0.45M617.33,392.96h0.45M587.66,423.34h0.45M621.02,388.02h0.45M600.83,412.08h0.45M578.87,431.22h0.45M579.04,426.87h0.45M581.14,419.22h0.45M589.71,416.32h0.45M593.98,407.48h0.45M580.39,428.83h0.45M596.68,401.79h0.45M601.77,417.04h0.45M602.54,402.7h0.45M617.24,389.44h0.45M609.33,395.14h0.45M618.36,402.29h0.45M594.38,412.5h0.45M618.42,398.53h0.45M602.46,412.64h0.45M601,411.69h0.45M607.22,396.66h0.45M572.11,435.78h0.45M586.86,421.85h0.45M604.2,404.3h0.45M606.53,405.46h0.45M579.23,418.12h0.45M621.62,397.26h0.45M575.17,434.3h0.45M612.51,396.44h0.45M614,394.92h0.45M584.67,420.89h0.45M588.03,413.69h0.45M591.7,410.23h0.45M618.04,391.53h0.45M622.25,390.34h0.45M603.94,414.95h0.45M595.75,410.43h0.45M608.17,396.93h0.45M600.98,400.61h0.45M582.57,416.14h0.45M602.28,401.17h0.45M611.35,392.95h0.45M609.69,397.98h0.45M585.62,411.01h0.45M610.36,407.12h0.45M579.02,422.07h0.45M580.11,420.5h0.45M623.43,394.87h0.45M588.72,417.6h0.45M591.03,422.9h0.45M604.57,411.04h0.45M603.16,401.68h0.45M623.21,392.46h0.45M596.99,411.34h0.45M590.77,411.63h0.45M600.45,399.35h0.45M574.21,430.97h0.45M604.81,411.26h0.45M599.41,411.03h0.45M591.71,421.73h0.45M584.99,428.86h0.45M614.22,402.2h0.45M617.72,393.93h0.45M622.21,395.82h0.45M623.26,393.19h0.45M595.99,420.24h0.45M623.29,393h0.45M594.81,417.11h0.45M592.44,416.9h0.45M620.28,389.46h0.45M616.05,395.39h0.45M599.86,404.53h0.45M596.81,405.96h0.45M604.54,400.44h0.45M609.8,397.29h0.45M599.04,406.11h0.45M606.37,397.19h0.45M600.7,414.26h0.45M581.78,416.44h0.45M604.98,410.14h0.45M581.52,430.43h0.45M611.36,399.59h0.45M603.67,409.48h0.45M573.71,433.27h0.45M620.68,391.28h0.45M591.13,405.27h0.45M617.85,392.54h0.45" stroke="#b8bcf2" stroke-width="0.45" fill="none"/>
<path d="M569.77,435.14l0.5,-0.07M572.09,435.16l-0.18,-0.65M570.42,433.92l0.74,-0.06M570.8,432.83l-1.11,-1.01M569.74,432.22l-1.07,-1.04M572.49,431.7l-0.96,0.96M572.32,430.46l-0.47,0.79M573.47,430l-1.29,-1.2M570.69,430.22l-1.22,0.83M572.69,428.19l-0.64,0.94M573.97,428.08l0.93,-0.49M574.19,429.38l1.13,-0.01M574.36,426.06l0.42,-1.08M573.98,426.46l-0.59,0.89M574.16,426.55l0.38,-0.88M574.08,423.17l1.21,-1.35M573.46,424.21l-0.17,-1.3M575.02,423.85l0.52,-0.31M574.79,422.96l1.08,-0.61M575.83,423.42l0.83,-0.97M576.55,422.77l-0.22,-1.33M577.08,420.46l0.45,-1.14M576.02,421.93l0.03,-0.54M578.02,420.72l0.51,-0.45M577.72,419.92l1.1,-0.67M578.36,419.33l0.84,0.43M579.48,418.28l0.99,-0.88M578.81,417.63l1.22,-0.15M580.67,418.84l0.88,-1.37M578.76,416.44l0.24,-1.07M579.49,414.85l0.8,-1.26M580.3,416.36l-1.38,1.12M580.14,414.71l1.38,0.21M582.95,414.47l0.09,-0.69M582.25,413l1.17,0.23M581.9,415.33l0.52,0.96M583.43,412.82l-0.82,-0.35M584.63,412.64l1.07,-1.28M582.13,411.26l-1.34,-1.02M584.26,411.93l0.3,-0.2M585.29,412.67l-0.08,-0.34M584.31,411.15l-0.93,0.34M586.94,410.6l0.83,0.14M584.84,409.76l0.67,0.22M584.94,410.44l-0.53,1.21M586.78,407.83l-1.24,-0.76M586.65,407.53l0.07,-0.5M588.46,409.71l0.6,1.17M588.73,408.39l1.28,1.3M588.08,405.74l-0.19,0.17M589.7,407.03l0.74,-0.26M590.95,404.66l-0.04,0.33M590.93,404.61l-1.17,-0.09M589.14,406.19l1.15,0.64M593.36,404.04l1.32,-0.04M590.5,405.33l-0.29,0.27M591.75,405.09l-0.22,1.03M593.85,404.52l-1.19,-1.19M594.25,402.72l-0.62,0.87M593,404.19l-1.16,-0.75M593.86,403.28l-0.68,0.72M596.15,402.53l1.22,0.11M594.18,402.11l-0.7,1.02M595.15,401.59l0.9,0.03M597.56,400.98l-0.63,0.37M597.8,401.43l-0.65,-0.49M598.63,399.67l0.88,1.12M596.12,401.84l-0.58,1.1M596.21,401.11l-1.32,0.48M598.77,397.84l-0.88,-0.53M597.75,398.92l-1.34,-0.69M598.81,397.79l0.92,0.97M601.25,398.26l0.2,0.11M599.68,397.37l1.16,0.7M599.17,397.41l0.57,-1.28M601.08,397.49l-0.3,-0.85M600.66,396.59l-0.55,-0.53M600.29,396.76l0.08,0.51M604.48,395.36l0.28,-0.15M603.13,396.75l-0.53,0.8M604.49,395.66l0.22,0.89M606.47,396.92l0.67,-0.12M606.63,394.44l-0.9,0.78M606.69,396.8l0.45,0.04M608.04,394.63l-0.62,1.39M606.05,395.66l0.93,0.66M607.48,395.52l-0.66,-0.85M608.83,393.99l0.1,-0.47M607.78,394.91l-0.8,-0.61M609,395.14l-0.25,0.02M609.68,394.12l-1.1,-1.14M608.19,395.21l-0.8,-0.49M609.09,394.94l1.19,0.76M609.09,392.13l0.91,0.52M610.75,393.59l-0.95,-0.98M610.66,393.38l-0.79,-1.29M613.3,391.78l1.38,0.45M611.09,393.41l-0.47,0.97M611.66,393.17l-0.34,-0.11M612.37,391.41l-0.42,0.13M612.23,391.88l-0.54,0.02M614.58,391.08l0.23,-0.39M615.25,391.25l0.36,0.75M615.67,389.95l-0.14,-0.23M616.7,389.62l0.55,-0.22M617.46,389.04l-0.71,-0.27M616.63,387.97l-0.41,-1.11M616.55,387.61l-0.63,0.27M619.81,387.52l1.06,-1.1M617.42,389.68l-0.11,0.01M619.17,388.62l0.52,0.59M620.08,386.39l-0.63,-0.41M619.11,388.34l-0.62,-0.67M619.17,388.42l0.57,-0.58M622.1,386.36l-0.84,-0.74M622.44,386.14l1.05,0.98M620.63,388.03l-0.37,0.77M621.57,387.42l-0.63,-0.34M622.31,387.46l-0.92,-0.73M623.29,387.44l-0.85,-1.17M621.69,385.3l0.99,-0.09M622.4,385.12l-0.12,0.03M623.41,386.92l-1.02,-0.7M625.03,385.57l-1.09,-0.26M624.08,384.76l0.28,0.76M623.09,386.64l-1.25,0.78M624.83,384.96l0.21,-0.95M625.36,385.4l-0.07,-1.22M623.44,385.67l-0.33,0.78M624.64,386.74l-0.29,-0.54M623.19,386.4l-0.66,1.32M622.85,386.54l1.06,-1.27M625.48,385.45l0.03,-0.24M623.77,387.83l-1,0.28M625.5,385.7l1.09,-0.32M625.73,386.95l-0.2,1.02M624.39,388.04l1.17,-0.27M624.98,388.43l-0.65,-0.73M624.41,391.4l0.9,0.9M623.52,390.55l-1.12,-0.7M624.13,392.22l-0.76,-1.37M624.29,395.47l-0.27,-0.36M623.89,393.43l0.95,-0.61M624.87,393.3l0.3,-0.96M622.98,395.59l-1.14,0.41M623.6,395.21l0.92,-0.76M624.32,396.75l-0.41,0.39M623.04,397.73l-0.32,-0.3M622.49,398.62l1.3,0.1M621.36,397.74l-1.11,0.47M622.38,400.08l1.3,0.5M621.33,399.47l-0.11,-0.33M622.07,397.35l0.74,-0.06M620.59,399.21l-0.09,-0.19M620.72,398.53l-0.44,1.19M622.19,401.05l1.27,-1.05M620.73,400.32l0.1,0.13M620.54,400.87l-0.68,0.84M620.2,400.73l1.1,-0.22M620.37,400.85l-0.96,0.67M619.21,403.03l1.14,0.41M617.94,400.21l-1.04,1.32M619.03,403.23l1.19,-0.56M617.67,401.95l1.26,-0.94M619.14,402.87l0.15,1.37M616.17,404.47l-0.55,0.87M617.38,404.3l-0.26,-0.72M617.3,404.23l0.06,-0.44M615.59,405.02l0.92,0.13M615.12,403.51l1.06,0.03M614.72,405.45l1.21,-0.52M615,406.15l0.24,-0.4M614.36,404.61l-1.07,0.94M614.07,404.98l-0.92,0.88M613.57,407.73l0.79,-0.68M614.41,408.38l-0.83,1.34M611.96,405.89l0.91,0.72M611.66,408.2l-1.08,-1.2M610.93,409.81l0.58,-0.48M610.45,407.05l1.36,0.53M608.6,409.74l0.71,0.51M610.65,410.58l-0.71,-0.94M608.67,408.93l-0.92,-0.73M608.48,411.4l-0.22,-0.77M609.75,411.33l-1.02,0.82M607.49,411.95l0.2,-0.86M608.13,413.73l1.34,0.98M606.9,413.57l-0.75,-0.05M607.55,412.08l0.55,-0.4M607.04,412.8l1.23,0.02M607.37,415.07l-1.09,-0.75M607,413.91l-0.87,-1.34M604.92,414.17l0.64,0.87M604.61,414.64l1.39,-1.01M605.53,413.51l0.93,0.59M602.56,415.71l0.81,0.36M602.06,415.93l-0.32,-0.85M602.48,417.92l0.61,1.37M600.96,419.28l1.21,-1.13M600.76,416.8l0.07,-0.42M599.66,418.58l-0.11,-0.8M600.04,417.55l0.17,-0.69M597.47,419.38l-0.51,0.86M598.29,419.67l1.2,-1.19M597.25,420.41l-0.9,1.25M598.39,419.64l-1.01,-0.01M595.45,420.02l0.3,-0.81M596.68,422.47l-0.25,0.31M595.76,420.86l-1.16,0.86M594.47,420.84l0.52,-1.27M593.16,423.32l0.35,-0.66M595.19,422.62l0.39,0.17M592.23,422.41l0.96,0.43M592.38,423.71l-1.4,-0.35M592.81,425.83l-0.95,-1.05M590.62,424.21l1.25,-0.4M591.07,424l-0.06,-0.58M589.73,426.79l-1,-1.11M590.27,426.86l1.14,0.17M589.4,426.85l-0.72,-1.06M590.29,425.64l-0.27,0.42M588.66,425.4l1.01,0.03M587.37,427.41l0.18,0.11M587.75,427.41l-0.6,-0.73M587.63,428.83l-0.58,-0.29M584.61,429.79l0.26,-0.36M585.76,428.73l0.61,0.82M585.9,427.94l0.26,-0.64M582.61,428.47l-0.61,0.44M584.35,430.56l-0.51,-1.29M584.54,428.37l-1.15,0.64M582.5,430.83l-0.08,1.36M583.12,430.39l0.82,0.28M583.75,430.36l-1.16,0.24M582.28,431.91l-0.56,-0.26M581.66,429.55l0.42,-0.76M580.8,431.12l0.75,1.24M579.64,432.73l-0.92,-0.89M580.53,432.63l1.15,-0.29M580.72,432.52l0.08,-0.93M578.45,431.34l-0.63,1.02M577.97,432.79l0.11,0.79M580.08,432.36l-0.55,0.86M576.93,434.88l1.23,-0.58M578.25,431.98l1.24,0.62M575.62,433.12l0.59,-0.87M574.24,435.59l-0.47,-1.34M574.28,433.09l1.22,-1.13M574.78,435.93l-0.51,-0.75M573.94,436.9l1.38,-0.5M571.52,436.6l-0.37,0.94M572.82,435.7l0.42,0.93M571.75,434.64l-0.87,0.04M572.19,437.67l-0.78,0.1M571.54,436.12l1.27,1.08" stroke="#5058cc" stroke-width="0.45" fill="none"/>
<path d="M618.93,394.06h0.6M617.03,399.78h0.6M590.87,419.73h0.6M589.91,409.71h0.6M618.76,392.34h0.6M576.82,429.68h0.6M578.45,425.55h0.6M613.15,398.02h0.6M607.15,398.97h0.6M612.69,393.2h0.6M599.38,413.8h0.6M607.24,407.06h0.6M614.27,391.25h0.6M572.67,430.58h0.6M582.25,421.05h0.6M623.59,394.63h0.6M607.02,402.57h0.6M607.65,400.72h0.6M583.21,418.98h0.6M573.93,428.13h0.6M595.06,416.64h0.6M609.07,409.62h0.6M588.53,423.34h0.6M609.88,408.8h0.6M577.98,419.26h0.6M575.99,424.64h0.6M602.37,407h0.6M622.62,390.39h0.6M600.29,415.42h0.6M591.54,413.54h0.6M579.2,424.67h0.6M596.98,408.91h0.6M590.53,412.77h0.6M588.28,424.75h0.6M572.21,431.05h0.6M601.28,410.55h0.6M578.85,432.07h0.6M590.26,410.67h0.6M596.82,419.44h0.6M578.86,419.76h0.6M589.29,421.01h0.6M599.31,407.68h0.6M619.13,390.39h0.6M572.34,430.32h0.6M601.93,405.29h0.6M598.95,418.23h0.6M602.05,415.93h0.6M586.34,410.36h0.6M609.64,409.92h0.6M579.51,429.78h0.6M608.83,407.67h0.6M585.7,422.33h0.6M576.8,426.63h0.6M585.16,420.57h0.6M617.72,397.42h0.6M586.21,413.02h0.6M605.88,400.44h0.6M597.48,418.32h0.6M571.48,434.07h0.6M573.02,433.14h0.6M601.81,406.32h0.6M580.88,422.81h0.6M616.24,401.76h0.6M585.53,421.53h0.6M588.01,408.56h0.6M588.1,418.16h0.6M577.09,421.21h0.6M588.4,426.65h0.6M591.7,406.8h0.6M576.57,426.71h0.6M582.54,420.45h0.6M599.74,412.26h0.6M577.76,425.42h0.6M578.14,420.59h0.6M589.28,425.04h0.6M587.34,416.87h0.6M592.24,404.7h0.6M605.13,406.19h0.6M588.01,424.41h0.6M600.89,401.38h0.6M599.01,413.48h0.6M590.12,421.62h0.6M577.67,431.89h0.6M591.44,412.43h0.6M612.88,392.17h0.6M617.13,400.34h0.6M584.12,423.42h0.6M595.79,418.34h0.6M588.88,410.8h0.6M611.1,392.73h0.6M587.66,409.15h0.6M577.55,432.38h0.6M622.36,393.24h0.6M614.69,391.39h0.6M599.94,401.24h0.6M620.89,388.63h0.6M616.76,390.5h0.6M615.68,391.9h0.6M587.39,411.94h0.6M573.09,428.86h0.6M578.35,425.96h0.6M609.22,404.63h0.6M608.54,402.16h0.6M616.51,401.32h0.6M588.83,418.81h0.6M610.01,403.71h0.6M586.37,411.96h0.6M595.34,406.66h0.6M574.01,433.62h0.6M619.46,389.92h0.6M610.44,399.16h0.6M599.13,418.34h0.6M616.67,397.74h0.6M611.87,401.54h0.6M601.04,398.74h0.6M604.63,410.31h0.6M608.19,405.46h0.6M582.34,429.47h0.6M598.36,402.02h0.6M623.13,394.06h0.6M596.19,402.12h0.6M610.68,399.24h0.6M592.96,421.88h0.6M576.06,426.39h0.6M598.4,416.21h0.6M613.04,396.58h0.6M595.72,408.57h0.6M620,394.6h0.6M589.43,416.57h0.6M577.54,426.68h0.6M585.14,427.94h0.6M614.56,397.47h0.6M615.84,403.69h0.6M577.94,423.82h0.6M603.94,397.23h0.6M620.65,388.7h0.6M592.79,413.77h0.6M617.72,395.45h0.6M573.64,427.62h0.6M586.4,417.77h0.6M611.65,393.34h0.6M603.33,410.28h0.6M582.78,414.49h0.6M617.35,394.27h0.6M600.44,414.44h0.6M575.95,429.75h0.6M588.6,409.73h0.6M612.06,407.43h0.6M612.88,399.89h0.6M609.87,405.47h0.6M612.54,393.45h0.6M610.01,405.69h0.6M585.38,425.72h0.6M601.14,417.46h0.6M587.97,416.18h0.6M585.68,419.72h0.6M587.22,409.16h0.6M608.86,395.23h0.6M578.7,426.01h0.6M594.3,418.21h0.6M586.42,414.79h0.6M612.5,399.97h0.6M617.87,399.24h0.6M582.03,423.15h0.6M622.78,386.79h0.6M601.36,417.07h0.6M599.59,400.55h0.6M614.99,392.89h0.6M583.52,428.34h0.6M587.45,415.54h0.6M591.72,412.5h0.6M598.54,413.58h0.6" stroke="#e0a438" stroke-width="0.5" fill="none" opacity="0.8"/>
<g transform="translate(513.1 400.8) rotate(-30)"><rect x="-5.1" y="-3.1" width="10.2" height="6.2" rx="0.8" fill="url(#mgo)"/><rect x="-4.3" y="-2.8" width="8.6" height="1.4" fill="#9fe0ff" opacity="0.7"/></g>
<g transform="translate(541.6 405.1) rotate(40)"><rect x="-5.1" y="-3.1" width="10.2" height="6.2" rx="0.8" fill="url(#mgo)"/><rect x="-4.3" y="-2.8" width="8.6" height="1.4" fill="#9fe0ff" opacity="0.7"/></g>
<g transform="translate(508.5 417.9) rotate(75)"><rect x="-5.1" y="-3.1" width="10.2" height="6.2" rx="0.8" fill="url(#mgo)"/><rect x="-4.3" y="-2.8" width="8.6" height="1.4" fill="#9fe0ff" opacity="0.7"/></g>
<g transform="translate(534.6 428.2) rotate(62)"><rect x="-5.1" y="-3.1" width="10.2" height="6.2" rx="0.8" fill="url(#mgo)"/><rect x="-4.3" y="-2.8" width="8.6" height="1.4" fill="#9fe0ff" opacity="0.7"/></g>
<g transform="translate(603.7 388) rotate(0)"><rect x="-5.1" y="-3.1" width="10.2" height="6.2" rx="0.8" fill="url(#mgo)"/><rect x="-4.3" y="-2.8" width="8.6" height="1.4" fill="#9fe0ff" opacity="0.7"/></g>
<g transform="translate(577.5 405.6) rotate(72)"><rect x="-5.1" y="-3.1" width="10.2" height="6.2" rx="0.8" fill="url(#mgo)"/><rect x="-4.3" y="-2.8" width="8.6" height="1.4" fill="#9fe0ff" opacity="0.7"/></g>
<g transform="translate(614 409) rotate(0)"><rect x="-5.1" y="-3.1" width="10.2" height="6.2" rx="0.8" fill="url(#mgo)"/><rect x="-4.3" y="-2.8" width="8.6" height="1.4" fill="#9fe0ff" opacity="0.7"/></g>
<g transform="translate(580.4 433.5) rotate(60)"><rect x="-5.1" y="-3.1" width="10.2" height="6.2" rx="0.8" fill="url(#mgo)"/><rect x="-4.3" y="-2.8" width="8.6" height="1.4" fill="#9fe0ff" opacity="0.7"/></g>
<g transform="translate(526.5 397.8) rotate(50)"><path d="M-4.4,0 L4.4,0 M0,0 L0,-7" stroke="#cc0a14" stroke-width="2.1" fill="none"/></g>
<g transform="translate(551.6 406.8) rotate(55)"><path d="M-4.4,0 L4.4,0 M0,0 L0,-7" stroke="#cc0a14" stroke-width="2.1" fill="none"/></g>
<g transform="translate(521.5 429.8) rotate(215)"><path d="M-4.4,0 L4.4,0 M0,0 L0,-7" stroke="#cc0a14" stroke-width="2.1" fill="none"/></g>
<g transform="translate(553.1 443) rotate(-90)"><path d="M-4.4,0 L4.4,0 M0,0 L0,-7" stroke="#cc0a14" stroke-width="2.1" fill="none"/></g>
<g transform="translate(554.9 455.4) rotate(-85)"><path d="M-4.4,0 L4.4,0 M0,0 L0,-7" stroke="#cc0a14" stroke-width="2.1" fill="none"/></g>
<g transform="translate(574.5 439.2) rotate(160)"><path d="M-4.4,0 L4.4,0 M0,0 L0,-7" stroke="#cc0a14" stroke-width="2.1" fill="none"/></g>
<g transform="translate(594 427.6) rotate(150)"><path d="M-4.4,0 L4.4,0 M0,0 L0,-7" stroke="#cc0a14" stroke-width="2.1" fill="none"/></g>
<g transform="translate(588.3 399.3) rotate(-30)"><path d="M-4.4,0 L4.4,0 M0,0 L0,-7" stroke="#cc0a14" stroke-width="2.1" fill="none"/></g>
<text x="0" y="3.58" font-size="10" text-anchor="end" fill="#0a0a0a" stroke="#0a0a0a" stroke-width="0.22" font-weight="bold" transform="translate(643 461) scale(1 1.08)">AZ91D</text>
<path d="M476.1,478.6 C478,477 481,476.3 485,476.4 C489,476.6 493,476 496.3,476.6 L495.2,480.3 C491,480.8 487,480.2 483,480.6 C480,480.9 478,480.2 476.1,478.6 Z" fill="#e1b352"/>
<text x="0" y="3.4" font-size="9.5" text-anchor="start" fill="#111" stroke="#111" stroke-width="0.22" font-weight="bold" transform="translate(506.8 479.6) scale(1 1.08)">PG</text>
<rect x="540" y="476.2" width="10.2" height="6" rx="0.6" fill="url(#mgo)"/>
<text x="0" y="3.4" font-size="9.5" text-anchor="start" fill="#111" stroke="#111" stroke-width="0.22" font-weight="bold" transform="translate(560.7 478.8) scale(1 1.08)">MgO</text>
<path d="M601.9,475 Q613,477.5 624.4,474.6 Q619,483.8 610,483.6 Q605,482 601.9,475 Z" fill="#9ea3e6" opacity="0.55"/>
<path d="M601.9,475 L604.5,475.5M603.51,474.91 L605.79,477.9M605.11,474.83 L607.07,479.6M606.72,474.75 L608.36,480.98M608.33,474.69 L609.64,482.07M609.94,474.64 L610.93,482.86M611.54,474.61 L612.21,483.34M613.15,474.6 L613.5,483.5M614.76,474.61 L614.79,483.34M616.36,474.64 L616.07,482.86M617.97,474.69 L617.36,482.07M619.58,474.75 L618.64,480.98M621.19,474.83 L619.93,479.6M622.79,474.91 L621.21,477.9M624.4,475 L622.5,475.5" stroke="#5a62d2" stroke-width="0.55" fill="none"/>
<text x="0" y="3.4" font-size="9.5" text-anchor="start" fill="#111" stroke="#111" stroke-width="0.22" font-weight="bold" transform="translate(637 477.4) scale(1 1.08)">PyC</text>
<path d="M483.1,495.4 L491,495.4 M487,495.4 L487,488.4" stroke="#d41010" stroke-width="2" fill="none"/>
<text x="0" y="3.33" font-size="9.3" text-anchor="start" fill="#111" stroke="#111" stroke-width="0.22" font-weight="bold" transform="translate(503.8 492.6) scale(1 1.08)">Dislocation</text>
<path d="M570.7,489.6 L576,492.8 L580.3,488.4 M576,492.8 L576.8,497.7" stroke="#8a4ad0" stroke-width="1.5" fill="none"/>
<text x="0" y="3.29" font-size="9.2" text-anchor="start" fill="#111" stroke="#111" stroke-width="0.22" font-weight="bold" transform="translate(598.6 493.9) scale(1 1.08)">Grain boundary</text>
<text x="0" y="4.05" font-size="11.3" text-anchor="middle" fill="#0a0a0a" stroke="#0a0a0a" stroke-width="0.22" font-weight="bold" transform="translate(576.7 505.7) scale(1 1.08)">Nanomechanical response</text>
<text x="0" y="4.01" font-size="11.2" text-anchor="middle" fill="#0a0a0a" stroke="#0a0a0a" stroke-width="0.22" font-weight="bold" transform="translate(578.5 519.1) scale(1 1.08)">for PG@PyC/AZ91D composites</text>
</svg>
</body></html>
